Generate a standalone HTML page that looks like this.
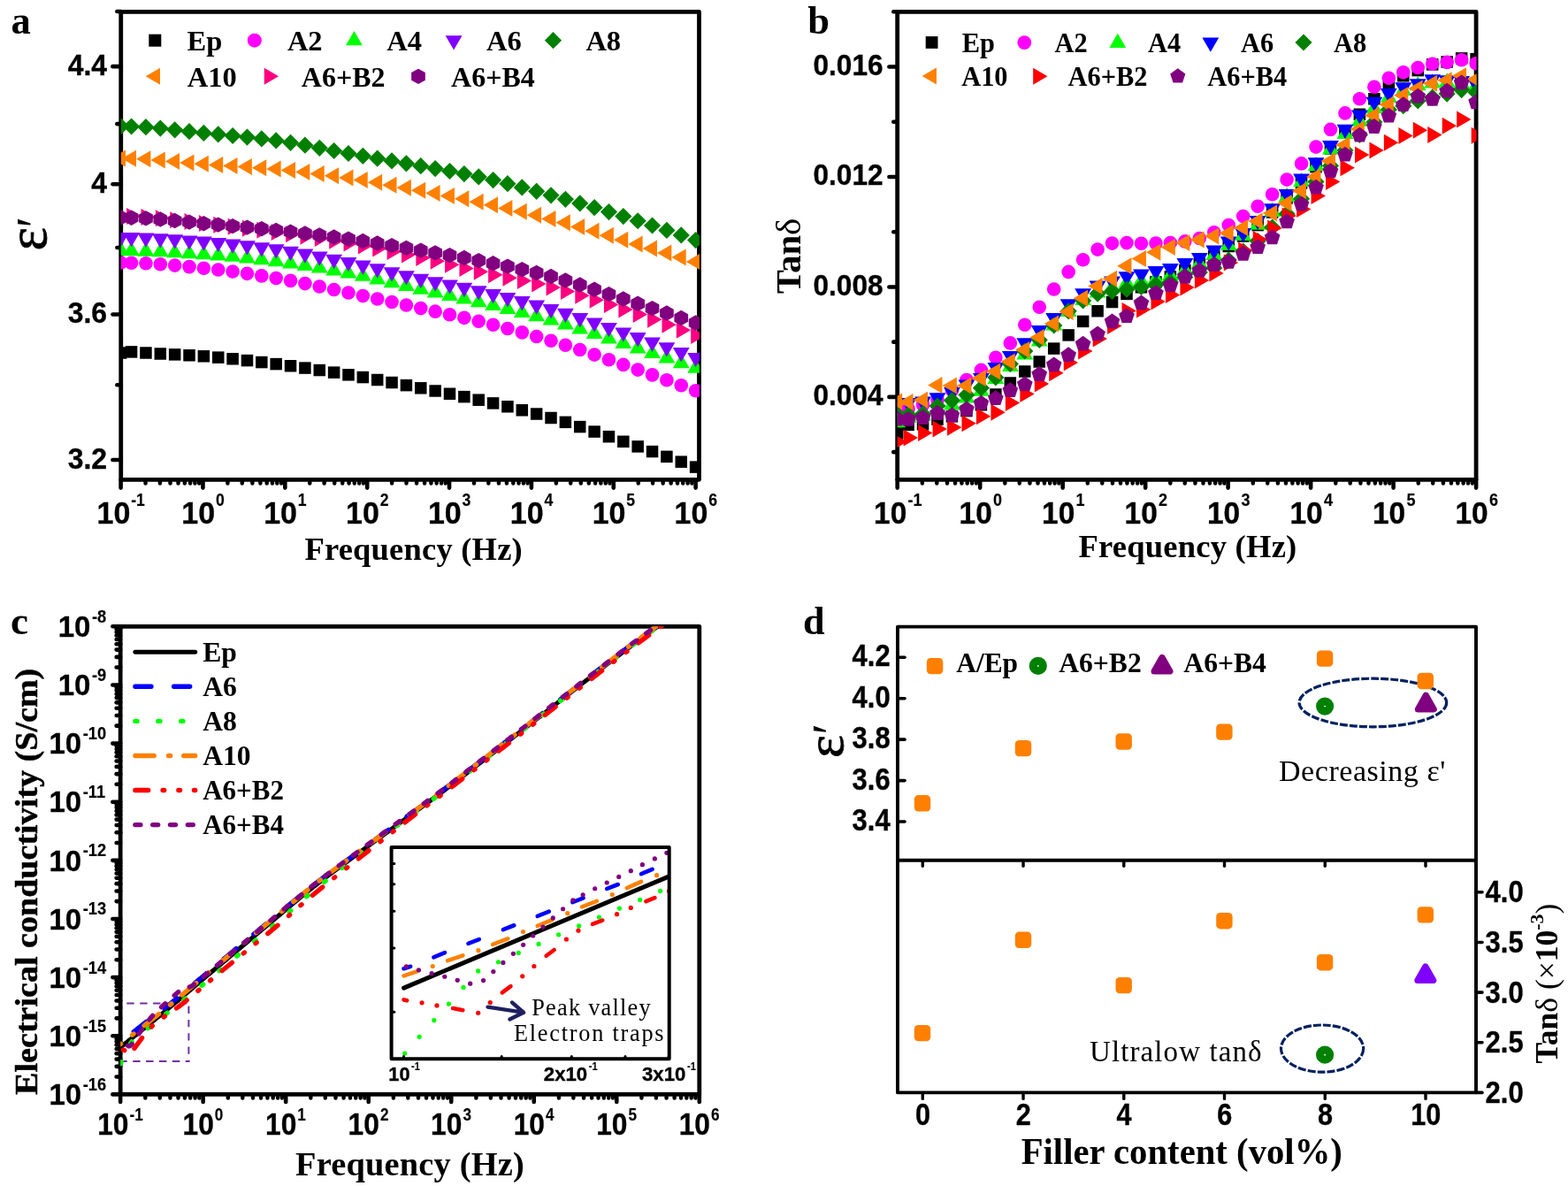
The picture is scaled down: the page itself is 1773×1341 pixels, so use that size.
<!DOCTYPE html>
<html lang="en"><head><meta charset="utf-8"><title>Dielectric properties figure</title>
<style>
html,body{margin:0;padding:0;background:#fff;}
body{width:1773px;height:1341px;overflow:hidden;}
svg{display:block;}
text{white-space:pre;}
</style></head><body>
<svg width="1773" height="1341" viewBox="0 0 1773 1341">
<rect x="0" y="0" width="1773" height="1341" fill="#fff"/>
<g id="panel-a">
<clipPath id="clipA"><rect x="136.75" y="13.3" width="654.15" height="529"/></clipPath>
<rect x="136.75" y="13.3" width="653.75" height="529" fill="none" stroke="#000" stroke-width="4.8" stroke-linejoin="round"/>
<line x1="136.75" y1="13.07" x2="132.35" y2="13.07" stroke="#000" stroke-width="4.6" stroke-linecap="round" />
<line x1="136.75" y1="75.16" x2="127.45" y2="75.16" stroke="#000" stroke-width="4.6" stroke-linecap="round" />
<line x1="136.75" y1="140.15" x2="132.35" y2="140.15" stroke="#000" stroke-width="4.6" stroke-linecap="round" />
<line x1="136.75" y1="208.3" x2="127.45" y2="208.3" stroke="#000" stroke-width="4.6" stroke-linecap="round" />
<line x1="136.75" y1="279.95" x2="132.35" y2="279.95" stroke="#000" stroke-width="4.6" stroke-linecap="round" />
<line x1="136.75" y1="355.48" x2="127.45" y2="355.48" stroke="#000" stroke-width="4.6" stroke-linecap="round" />
<line x1="136.75" y1="435.32" x2="132.35" y2="435.32" stroke="#000" stroke-width="4.6" stroke-linecap="round" />
<line x1="136.75" y1="520.01" x2="127.45" y2="520.01" stroke="#000" stroke-width="4.6" stroke-linecap="round" />
<line x1="136.6" y1="542.3" x2="136.6" y2="551.6" stroke="#000" stroke-width="4.6" stroke-linecap="round" />
<line x1="164.55" y1="542.3" x2="164.55" y2="546.5" stroke="#000" stroke-width="4.4" stroke-linecap="round" />
<line x1="180.91" y1="542.3" x2="180.91" y2="546.5" stroke="#000" stroke-width="4.4" stroke-linecap="round" />
<line x1="192.51" y1="542.3" x2="192.51" y2="546.5" stroke="#000" stroke-width="4.4" stroke-linecap="round" />
<line x1="201.51" y1="542.3" x2="201.51" y2="546.5" stroke="#000" stroke-width="4.4" stroke-linecap="round" />
<line x1="208.86" y1="542.3" x2="208.86" y2="546.5" stroke="#000" stroke-width="4.4" stroke-linecap="round" />
<line x1="215.08" y1="542.3" x2="215.08" y2="546.5" stroke="#000" stroke-width="4.4" stroke-linecap="round" />
<line x1="220.46" y1="542.3" x2="220.46" y2="546.5" stroke="#000" stroke-width="4.4" stroke-linecap="round" />
<line x1="225.21" y1="542.3" x2="225.21" y2="546.5" stroke="#000" stroke-width="4.4" stroke-linecap="round" />
<line x1="229.46" y1="542.3" x2="229.46" y2="551.6" stroke="#000" stroke-width="4.6" stroke-linecap="round" />
<line x1="257.41" y1="542.3" x2="257.41" y2="546.5" stroke="#000" stroke-width="4.4" stroke-linecap="round" />
<line x1="273.77" y1="542.3" x2="273.77" y2="546.5" stroke="#000" stroke-width="4.4" stroke-linecap="round" />
<line x1="285.37" y1="542.3" x2="285.37" y2="546.5" stroke="#000" stroke-width="4.4" stroke-linecap="round" />
<line x1="294.37" y1="542.3" x2="294.37" y2="546.5" stroke="#000" stroke-width="4.4" stroke-linecap="round" />
<line x1="301.72" y1="542.3" x2="301.72" y2="546.5" stroke="#000" stroke-width="4.4" stroke-linecap="round" />
<line x1="307.94" y1="542.3" x2="307.94" y2="546.5" stroke="#000" stroke-width="4.4" stroke-linecap="round" />
<line x1="313.32" y1="542.3" x2="313.32" y2="546.5" stroke="#000" stroke-width="4.4" stroke-linecap="round" />
<line x1="318.07" y1="542.3" x2="318.07" y2="546.5" stroke="#000" stroke-width="4.4" stroke-linecap="round" />
<line x1="322.32" y1="542.3" x2="322.32" y2="551.6" stroke="#000" stroke-width="4.6" stroke-linecap="round" />
<line x1="350.27" y1="542.3" x2="350.27" y2="546.5" stroke="#000" stroke-width="4.4" stroke-linecap="round" />
<line x1="366.63" y1="542.3" x2="366.63" y2="546.5" stroke="#000" stroke-width="4.4" stroke-linecap="round" />
<line x1="378.23" y1="542.3" x2="378.23" y2="546.5" stroke="#000" stroke-width="4.4" stroke-linecap="round" />
<line x1="387.23" y1="542.3" x2="387.23" y2="546.5" stroke="#000" stroke-width="4.4" stroke-linecap="round" />
<line x1="394.58" y1="542.3" x2="394.58" y2="546.5" stroke="#000" stroke-width="4.4" stroke-linecap="round" />
<line x1="400.8" y1="542.3" x2="400.8" y2="546.5" stroke="#000" stroke-width="4.4" stroke-linecap="round" />
<line x1="406.18" y1="542.3" x2="406.18" y2="546.5" stroke="#000" stroke-width="4.4" stroke-linecap="round" />
<line x1="410.93" y1="542.3" x2="410.93" y2="546.5" stroke="#000" stroke-width="4.4" stroke-linecap="round" />
<line x1="415.18" y1="542.3" x2="415.18" y2="551.6" stroke="#000" stroke-width="4.6" stroke-linecap="round" />
<line x1="443.13" y1="542.3" x2="443.13" y2="546.5" stroke="#000" stroke-width="4.4" stroke-linecap="round" />
<line x1="459.49" y1="542.3" x2="459.49" y2="546.5" stroke="#000" stroke-width="4.4" stroke-linecap="round" />
<line x1="471.09" y1="542.3" x2="471.09" y2="546.5" stroke="#000" stroke-width="4.4" stroke-linecap="round" />
<line x1="480.09" y1="542.3" x2="480.09" y2="546.5" stroke="#000" stroke-width="4.4" stroke-linecap="round" />
<line x1="487.44" y1="542.3" x2="487.44" y2="546.5" stroke="#000" stroke-width="4.4" stroke-linecap="round" />
<line x1="493.66" y1="542.3" x2="493.66" y2="546.5" stroke="#000" stroke-width="4.4" stroke-linecap="round" />
<line x1="499.04" y1="542.3" x2="499.04" y2="546.5" stroke="#000" stroke-width="4.4" stroke-linecap="round" />
<line x1="503.79" y1="542.3" x2="503.79" y2="546.5" stroke="#000" stroke-width="4.4" stroke-linecap="round" />
<line x1="508.04" y1="542.3" x2="508.04" y2="551.6" stroke="#000" stroke-width="4.6" stroke-linecap="round" />
<line x1="535.99" y1="542.3" x2="535.99" y2="546.5" stroke="#000" stroke-width="4.4" stroke-linecap="round" />
<line x1="552.35" y1="542.3" x2="552.35" y2="546.5" stroke="#000" stroke-width="4.4" stroke-linecap="round" />
<line x1="563.95" y1="542.3" x2="563.95" y2="546.5" stroke="#000" stroke-width="4.4" stroke-linecap="round" />
<line x1="572.95" y1="542.3" x2="572.95" y2="546.5" stroke="#000" stroke-width="4.4" stroke-linecap="round" />
<line x1="580.3" y1="542.3" x2="580.3" y2="546.5" stroke="#000" stroke-width="4.4" stroke-linecap="round" />
<line x1="586.52" y1="542.3" x2="586.52" y2="546.5" stroke="#000" stroke-width="4.4" stroke-linecap="round" />
<line x1="591.9" y1="542.3" x2="591.9" y2="546.5" stroke="#000" stroke-width="4.4" stroke-linecap="round" />
<line x1="596.65" y1="542.3" x2="596.65" y2="546.5" stroke="#000" stroke-width="4.4" stroke-linecap="round" />
<line x1="600.9" y1="542.3" x2="600.9" y2="551.6" stroke="#000" stroke-width="4.6" stroke-linecap="round" />
<line x1="628.85" y1="542.3" x2="628.85" y2="546.5" stroke="#000" stroke-width="4.4" stroke-linecap="round" />
<line x1="645.21" y1="542.3" x2="645.21" y2="546.5" stroke="#000" stroke-width="4.4" stroke-linecap="round" />
<line x1="656.81" y1="542.3" x2="656.81" y2="546.5" stroke="#000" stroke-width="4.4" stroke-linecap="round" />
<line x1="665.81" y1="542.3" x2="665.81" y2="546.5" stroke="#000" stroke-width="4.4" stroke-linecap="round" />
<line x1="673.16" y1="542.3" x2="673.16" y2="546.5" stroke="#000" stroke-width="4.4" stroke-linecap="round" />
<line x1="679.38" y1="542.3" x2="679.38" y2="546.5" stroke="#000" stroke-width="4.4" stroke-linecap="round" />
<line x1="684.76" y1="542.3" x2="684.76" y2="546.5" stroke="#000" stroke-width="4.4" stroke-linecap="round" />
<line x1="689.51" y1="542.3" x2="689.51" y2="546.5" stroke="#000" stroke-width="4.4" stroke-linecap="round" />
<line x1="693.76" y1="542.3" x2="693.76" y2="551.6" stroke="#000" stroke-width="4.6" stroke-linecap="round" />
<line x1="721.71" y1="542.3" x2="721.71" y2="546.5" stroke="#000" stroke-width="4.4" stroke-linecap="round" />
<line x1="738.07" y1="542.3" x2="738.07" y2="546.5" stroke="#000" stroke-width="4.4" stroke-linecap="round" />
<line x1="749.67" y1="542.3" x2="749.67" y2="546.5" stroke="#000" stroke-width="4.4" stroke-linecap="round" />
<line x1="758.67" y1="542.3" x2="758.67" y2="546.5" stroke="#000" stroke-width="4.4" stroke-linecap="round" />
<line x1="766.02" y1="542.3" x2="766.02" y2="546.5" stroke="#000" stroke-width="4.4" stroke-linecap="round" />
<line x1="772.24" y1="542.3" x2="772.24" y2="546.5" stroke="#000" stroke-width="4.4" stroke-linecap="round" />
<line x1="777.62" y1="542.3" x2="777.62" y2="546.5" stroke="#000" stroke-width="4.4" stroke-linecap="round" />
<line x1="782.37" y1="542.3" x2="782.37" y2="546.5" stroke="#000" stroke-width="4.4" stroke-linecap="round" />
<line x1="786.62" y1="542.3" x2="786.62" y2="551.6" stroke="#000" stroke-width="4.6" stroke-linecap="round" />
<text x="0" y="0" font-family='"Liberation Sans", "DejaVu Sans", sans-serif' font-weight="bold" font-size="33.4" text-anchor="end" fill="#000" transform="translate(121 85.16) scale(0.955 1)"  stroke="#000" stroke-width="0.35" stroke-linejoin="round">4.4</text>
<text x="0" y="0" font-family='"Liberation Sans", "DejaVu Sans", sans-serif' font-weight="bold" font-size="33.4" text-anchor="end" fill="#000" transform="translate(121 218.3) scale(0.955 1)"  stroke="#000" stroke-width="0.35" stroke-linejoin="round">4</text>
<text x="0" y="0" font-family='"Liberation Sans", "DejaVu Sans", sans-serif' font-weight="bold" font-size="33.4" text-anchor="end" fill="#000" transform="translate(121 365.48) scale(0.955 1)"  stroke="#000" stroke-width="0.35" stroke-linejoin="round">3.6</text>
<text x="0" y="0" font-family='"Liberation Sans", "DejaVu Sans", sans-serif' font-weight="bold" font-size="33.4" text-anchor="end" fill="#000" transform="translate(121 530.01) scale(0.955 1)"  stroke="#000" stroke-width="0.35" stroke-linejoin="round">3.2</text>
<text x="0" y="0" font-family='"Liberation Sans", "DejaVu Sans", sans-serif' font-weight="bold" font-size="35.8" text-anchor="start" fill="#000" transform="translate(109.55 592.2) scale(0.95 1)"  stroke="#000" stroke-width="0.35" stroke-linejoin="round">10</text>
<text x="0" y="0" font-family='"Liberation Sans", "DejaVu Sans", sans-serif' font-weight="bold" font-size="19.6" text-anchor="start" fill="#000" transform="translate(148.17 572) scale(0.9 1)" stroke="#000" stroke-width="0.15">-1</text>
<text x="0" y="0" font-family='"Liberation Sans", "DejaVu Sans", sans-serif' font-weight="bold" font-size="35.8" text-anchor="start" fill="#000" transform="translate(205.35 592.2) scale(0.95 1)"  stroke="#000" stroke-width="0.35" stroke-linejoin="round">10</text>
<text x="0" y="0" font-family='"Liberation Sans", "DejaVu Sans", sans-serif' font-weight="bold" font-size="19.6" text-anchor="start" fill="#000" transform="translate(243.97 572) scale(0.9 1)" stroke="#000" stroke-width="0.15">0</text>
<text x="0" y="0" font-family='"Liberation Sans", "DejaVu Sans", sans-serif' font-weight="bold" font-size="35.8" text-anchor="start" fill="#000" transform="translate(298.21 592.2) scale(0.95 1)"  stroke="#000" stroke-width="0.35" stroke-linejoin="round">10</text>
<text x="0" y="0" font-family='"Liberation Sans", "DejaVu Sans", sans-serif' font-weight="bold" font-size="19.6" text-anchor="start" fill="#000" transform="translate(336.83 572) scale(0.9 1)" stroke="#000" stroke-width="0.15">1</text>
<text x="0" y="0" font-family='"Liberation Sans", "DejaVu Sans", sans-serif' font-weight="bold" font-size="35.8" text-anchor="start" fill="#000" transform="translate(391.07 592.2) scale(0.95 1)"  stroke="#000" stroke-width="0.35" stroke-linejoin="round">10</text>
<text x="0" y="0" font-family='"Liberation Sans", "DejaVu Sans", sans-serif' font-weight="bold" font-size="19.6" text-anchor="start" fill="#000" transform="translate(429.69 572) scale(0.9 1)" stroke="#000" stroke-width="0.15">2</text>
<text x="0" y="0" font-family='"Liberation Sans", "DejaVu Sans", sans-serif' font-weight="bold" font-size="35.8" text-anchor="start" fill="#000" transform="translate(483.93 592.2) scale(0.95 1)"  stroke="#000" stroke-width="0.35" stroke-linejoin="round">10</text>
<text x="0" y="0" font-family='"Liberation Sans", "DejaVu Sans", sans-serif' font-weight="bold" font-size="19.6" text-anchor="start" fill="#000" transform="translate(522.55 572) scale(0.9 1)" stroke="#000" stroke-width="0.15">3</text>
<text x="0" y="0" font-family='"Liberation Sans", "DejaVu Sans", sans-serif' font-weight="bold" font-size="35.8" text-anchor="start" fill="#000" transform="translate(576.79 592.2) scale(0.95 1)"  stroke="#000" stroke-width="0.35" stroke-linejoin="round">10</text>
<text x="0" y="0" font-family='"Liberation Sans", "DejaVu Sans", sans-serif' font-weight="bold" font-size="19.6" text-anchor="start" fill="#000" transform="translate(615.41 572) scale(0.9 1)" stroke="#000" stroke-width="0.15">4</text>
<text x="0" y="0" font-family='"Liberation Sans", "DejaVu Sans", sans-serif' font-weight="bold" font-size="35.8" text-anchor="start" fill="#000" transform="translate(669.65 592.2) scale(0.95 1)"  stroke="#000" stroke-width="0.35" stroke-linejoin="round">10</text>
<text x="0" y="0" font-family='"Liberation Sans", "DejaVu Sans", sans-serif' font-weight="bold" font-size="19.6" text-anchor="start" fill="#000" transform="translate(708.27 572) scale(0.9 1)" stroke="#000" stroke-width="0.15">5</text>
<text x="0" y="0" font-family='"Liberation Sans", "DejaVu Sans", sans-serif' font-weight="bold" font-size="35.8" text-anchor="start" fill="#000" transform="translate(762.51 592.2) scale(0.95 1)"  stroke="#000" stroke-width="0.35" stroke-linejoin="round">10</text>
<text x="0" y="0" font-family='"Liberation Sans", "DejaVu Sans", sans-serif' font-weight="bold" font-size="19.6" text-anchor="start" fill="#000" transform="translate(801.13 572) scale(0.9 1)" stroke="#000" stroke-width="0.15">6</text>
<text x="467.7" y="632.9" font-family='"Liberation Serif", "DejaVu Serif", serif' font-weight="bold" font-size="36.5" text-anchor="middle" fill="#000" letter-spacing="0.2" >Frequency (Hz)</text>
<text x="0" y="0" font-family='"Liberation Serif", "DejaVu Serif", serif' font-weight="normal" font-size="63" text-anchor="start" fill="#000" transform="translate(51.8 283.4) rotate(-90) scale(1.0 1)" stroke="#000" stroke-width="0.8">ε</text>
<text x="0" y="0" font-family='"Liberation Serif", "DejaVu Serif", serif' font-weight="normal" font-size="62" text-anchor="start" fill="#000" transform="translate(60.2 257.2) rotate(-90) scale(0.9 1)" >′</text>
<text x="12.4" y="37.6" font-family='"Liberation Serif", "DejaVu Serif", serif' font-weight="bold" font-size="44.5" text-anchor="start" fill="#000" >a</text>
<g clip-path="url(#clipA)">
<g><rect x="129.85" y="392.25" width="13.5" height="13.5" fill="#000000"/><rect x="141.83" y="391.15" width="13.5" height="13.5" fill="#000000"/><rect x="158.19" y="392.25" width="13.5" height="13.5" fill="#000000"/><rect x="174.55" y="393.25" width="13.5" height="13.5" fill="#000000"/><rect x="190.91" y="394.14" width="13.5" height="13.5" fill="#000000"/><rect x="207.27" y="395.01" width="13.5" height="13.5" fill="#000000"/><rect x="223.63" y="396.05" width="13.5" height="13.5" fill="#000000"/><rect x="239.99" y="397.4" width="13.5" height="13.5" fill="#000000"/><rect x="256.35" y="399.02" width="13.5" height="13.5" fill="#000000"/><rect x="272.71" y="400.85" width="13.5" height="13.5" fill="#000000"/><rect x="289.07" y="402.82" width="13.5" height="13.5" fill="#000000"/><rect x="305.43" y="404.85" width="13.5" height="13.5" fill="#000000"/><rect x="321.79" y="407" width="13.5" height="13.5" fill="#000000"/><rect x="338.15" y="409.33" width="13.5" height="13.5" fill="#000000"/><rect x="354.51" y="411.8" width="13.5" height="13.5" fill="#000000"/><rect x="370.87" y="414.39" width="13.5" height="13.5" fill="#000000"/><rect x="387.23" y="417.05" width="13.5" height="13.5" fill="#000000"/><rect x="403.59" y="419.82" width="13.5" height="13.5" fill="#000000"/><rect x="419.95" y="422.75" width="13.5" height="13.5" fill="#000000"/><rect x="436.31" y="425.78" width="13.5" height="13.5" fill="#000000"/><rect x="452.67" y="428.89" width="13.5" height="13.5" fill="#000000"/><rect x="469.03" y="432.05" width="13.5" height="13.5" fill="#000000"/><rect x="485.39" y="435.24" width="13.5" height="13.5" fill="#000000"/><rect x="501.75" y="438.51" width="13.5" height="13.5" fill="#000000"/><rect x="518.11" y="441.89" width="13.5" height="13.5" fill="#000000"/><rect x="534.47" y="445.45" width="13.5" height="13.5" fill="#000000"/><rect x="550.83" y="449.16" width="13.5" height="13.5" fill="#000000"/><rect x="567.19" y="453.01" width="13.5" height="13.5" fill="#000000"/><rect x="583.55" y="457.03" width="13.5" height="13.5" fill="#000000"/><rect x="599.91" y="461.27" width="13.5" height="13.5" fill="#000000"/><rect x="616.27" y="465.75" width="13.5" height="13.5" fill="#000000"/><rect x="632.63" y="470.61" width="13.5" height="13.5" fill="#000000"/><rect x="648.99" y="475.84" width="13.5" height="13.5" fill="#000000"/><rect x="665.35" y="481.34" width="13.5" height="13.5" fill="#000000"/><rect x="681.71" y="486.95" width="13.5" height="13.5" fill="#000000"/><rect x="698.07" y="492.55" width="13.5" height="13.5" fill="#000000"/><rect x="714.43" y="498.15" width="13.5" height="13.5" fill="#000000"/><rect x="730.79" y="503.82" width="13.5" height="13.5" fill="#000000"/><rect x="747.15" y="509.59" width="13.5" height="13.5" fill="#000000"/><rect x="763.51" y="515.43" width="13.5" height="13.5" fill="#000000"/><rect x="779.87" y="521.35" width="13.5" height="13.5" fill="#000000"/></g>
<g><circle cx="136.6" cy="297" r="7.8" fill="#FF00FF"/><circle cx="148.58" cy="297.2" r="7.8" fill="#FF00FF"/><circle cx="164.94" cy="297.76" r="7.8" fill="#FF00FF"/><circle cx="181.3" cy="298.77" r="7.8" fill="#FF00FF"/><circle cx="197.66" cy="300.1" r="7.8" fill="#FF00FF"/><circle cx="214.02" cy="301.62" r="7.8" fill="#FF00FF"/><circle cx="230.38" cy="303.2" r="7.8" fill="#FF00FF"/><circle cx="246.74" cy="304.95" r="7.8" fill="#FF00FF"/><circle cx="263.1" cy="307.02" r="7.8" fill="#FF00FF"/><circle cx="279.46" cy="309.34" r="7.8" fill="#FF00FF"/><circle cx="295.82" cy="311.86" r="7.8" fill="#FF00FF"/><circle cx="312.18" cy="314.5" r="7.8" fill="#FF00FF"/><circle cx="328.54" cy="317.39" r="7.8" fill="#FF00FF"/><circle cx="344.9" cy="320.6" r="7.8" fill="#FF00FF"/><circle cx="361.26" cy="324.03" r="7.8" fill="#FF00FF"/><circle cx="377.62" cy="327.53" r="7.8" fill="#FF00FF"/><circle cx="393.98" cy="331" r="7.8" fill="#FF00FF"/><circle cx="410.34" cy="334.44" r="7.8" fill="#FF00FF"/><circle cx="426.7" cy="337.93" r="7.8" fill="#FF00FF"/><circle cx="443.06" cy="341.46" r="7.8" fill="#FF00FF"/><circle cx="459.42" cy="345.02" r="7.8" fill="#FF00FF"/><circle cx="475.78" cy="348.6" r="7.8" fill="#FF00FF"/><circle cx="492.14" cy="352.15" r="7.8" fill="#FF00FF"/><circle cx="508.5" cy="355.7" r="7.8" fill="#FF00FF"/><circle cx="524.86" cy="359.35" r="7.8" fill="#FF00FF"/><circle cx="541.22" cy="363.2" r="7.8" fill="#FF00FF"/><circle cx="557.58" cy="367.25" r="7.8" fill="#FF00FF"/><circle cx="573.94" cy="371.47" r="7.8" fill="#FF00FF"/><circle cx="590.3" cy="375.86" r="7.8" fill="#FF00FF"/><circle cx="606.66" cy="380.43" r="7.8" fill="#FF00FF"/><circle cx="623.02" cy="385.2" r="7.8" fill="#FF00FF"/><circle cx="639.38" cy="390.24" r="7.8" fill="#FF00FF"/><circle cx="655.74" cy="395.56" r="7.8" fill="#FF00FF"/><circle cx="672.1" cy="401.09" r="7.8" fill="#FF00FF"/><circle cx="688.46" cy="406.73" r="7.8" fill="#FF00FF"/><circle cx="704.82" cy="412.4" r="7.8" fill="#FF00FF"/><circle cx="721.18" cy="418.1" r="7.8" fill="#FF00FF"/><circle cx="737.54" cy="423.89" r="7.8" fill="#FF00FF"/><circle cx="753.9" cy="429.77" r="7.8" fill="#FF00FF"/><circle cx="770.26" cy="435.74" r="7.8" fill="#FF00FF"/><circle cx="786.62" cy="441.8" r="7.8" fill="#FF00FF"/></g>
<g><polygon points="136.6,272.8 146,289 127.2,289" fill="#00FF00"/><polygon points="148.58,273 157.98,289.2 139.18,289.2" fill="#00FF00"/><polygon points="164.94,273.43 174.34,289.63 155.54,289.63" fill="#00FF00"/><polygon points="181.3,274.1 190.7,290.3 171.9,290.3" fill="#00FF00"/><polygon points="197.66,274.96 207.06,291.16 188.26,291.16" fill="#00FF00"/><polygon points="214.02,275.94 223.42,292.14 204.62,292.14" fill="#00FF00"/><polygon points="230.38,277 239.78,293.2 220.98,293.2" fill="#00FF00"/><polygon points="246.74,278.21 256.14,294.41 237.34,294.41" fill="#00FF00"/><polygon points="263.1,279.66 272.5,295.86 253.7,295.86" fill="#00FF00"/><polygon points="279.46,281.32 288.86,297.52 270.06,297.52" fill="#00FF00"/><polygon points="295.82,283.14 305.22,299.34 286.42,299.34" fill="#00FF00"/><polygon points="312.18,285.1 321.58,301.3 302.78,301.3" fill="#00FF00"/><polygon points="328.54,287.27 337.94,303.47 319.14,303.47" fill="#00FF00"/><polygon points="344.9,289.72 354.3,305.92 335.5,305.92" fill="#00FF00"/><polygon points="361.26,292.41 370.66,308.61 351.86,308.61" fill="#00FF00"/><polygon points="377.62,295.29 387.02,311.49 368.22,311.49" fill="#00FF00"/><polygon points="393.98,298.3 403.38,314.5 384.58,314.5" fill="#00FF00"/><polygon points="410.34,301.58 419.74,317.78 400.94,317.78" fill="#00FF00"/><polygon points="426.7,305.2 436.1,321.4 417.3,321.4" fill="#00FF00"/><polygon points="443.06,309.01 452.46,325.21 433.66,325.21" fill="#00FF00"/><polygon points="459.42,312.86 468.82,329.06 450.02,329.06" fill="#00FF00"/><polygon points="475.78,316.6 485.18,332.8 466.38,332.8" fill="#00FF00"/><polygon points="492.14,320.2 501.54,336.4 482.74,336.4" fill="#00FF00"/><polygon points="508.5,323.76 517.9,339.96 499.1,339.96" fill="#00FF00"/><polygon points="524.86,327.37 534.26,343.57 515.46,343.57" fill="#00FF00"/><polygon points="541.22,331.1 550.62,347.3 531.82,347.3" fill="#00FF00"/><polygon points="557.58,334.92 566.98,351.12 548.18,351.12" fill="#00FF00"/><polygon points="573.94,338.79 583.34,354.99 564.54,354.99" fill="#00FF00"/><polygon points="590.3,342.78 599.7,358.98 580.9,358.98" fill="#00FF00"/><polygon points="606.66,346.96 616.06,363.16 597.26,363.16" fill="#00FF00"/><polygon points="623.02,351.4 632.42,367.6 613.62,367.6" fill="#00FF00"/><polygon points="639.38,356.22 648.78,372.42 629.98,372.42" fill="#00FF00"/><polygon points="655.74,361.4 665.14,377.6 646.34,377.6" fill="#00FF00"/><polygon points="672.1,366.81 681.5,383.01 662.7,383.01" fill="#00FF00"/><polygon points="688.46,372.32 697.86,388.52 679.06,388.52" fill="#00FF00"/><polygon points="704.82,377.8 714.22,394 695.42,394" fill="#00FF00"/><polygon points="721.18,383.25 730.58,399.45 711.78,399.45" fill="#00FF00"/><polygon points="737.54,388.75 746.94,404.95 728.14,404.95" fill="#00FF00"/><polygon points="753.9,394.31 763.3,410.51 744.5,410.51" fill="#00FF00"/><polygon points="770.26,399.93 779.66,416.13 760.86,416.13" fill="#00FF00"/><polygon points="786.62,405.6 796.02,421.8 777.22,421.8" fill="#00FF00"/></g>
<g><polygon points="136.6,279.1 146,262.9 127.2,262.9" fill="#8000FF"/><polygon points="148.58,279.3 157.98,263.1 139.18,263.1" fill="#8000FF"/><polygon points="164.94,279.76 174.34,263.56 155.54,263.56" fill="#8000FF"/><polygon points="181.3,280.52 190.7,264.32 171.9,264.32" fill="#8000FF"/><polygon points="197.66,281.5 207.06,265.3 188.26,265.3" fill="#8000FF"/><polygon points="214.02,282.62 223.42,266.42 204.62,266.42" fill="#8000FF"/><polygon points="230.38,283.8 239.78,267.6 220.98,267.6" fill="#8000FF"/><polygon points="246.74,285.11 256.14,268.91 237.34,268.91" fill="#8000FF"/><polygon points="263.1,286.66 272.5,270.46 253.7,270.46" fill="#8000FF"/><polygon points="279.46,288.43 288.86,272.23 270.06,272.23" fill="#8000FF"/><polygon points="295.82,290.38 305.22,274.18 286.42,274.18" fill="#8000FF"/><polygon points="312.18,292.5 321.58,276.3 302.78,276.3" fill="#8000FF"/><polygon points="328.54,294.91 337.94,278.71 319.14,278.71" fill="#8000FF"/><polygon points="344.9,297.7 354.3,281.5 335.5,281.5" fill="#8000FF"/><polygon points="361.26,300.76 370.66,284.56 351.86,284.56" fill="#8000FF"/><polygon points="377.62,304 387.02,287.8 368.22,287.8" fill="#8000FF"/><polygon points="393.98,307.3 403.38,291.1 384.58,291.1" fill="#8000FF"/><polygon points="410.34,310.8 419.74,294.6 400.94,294.6" fill="#8000FF"/><polygon points="426.7,314.57 436.1,298.37 417.3,298.37" fill="#8000FF"/><polygon points="443.06,318.46 452.46,302.26 433.66,302.26" fill="#8000FF"/><polygon points="459.42,322.33 468.82,306.13 450.02,306.13" fill="#8000FF"/><polygon points="475.78,326 485.18,309.8 466.38,309.8" fill="#8000FF"/><polygon points="492.14,329.38 501.54,313.18 482.74,313.18" fill="#8000FF"/><polygon points="508.5,332.62 517.9,316.42 499.1,316.42" fill="#8000FF"/><polygon points="524.86,335.89 534.26,319.69 515.46,319.69" fill="#8000FF"/><polygon points="541.22,339.4 550.62,323.2 531.82,323.2" fill="#8000FF"/><polygon points="557.58,343.18 566.98,326.98 548.18,326.98" fill="#8000FF"/><polygon points="573.94,347.15 583.34,330.95 564.54,330.95" fill="#8000FF"/><polygon points="590.3,351.3 599.7,335.1 580.9,335.1" fill="#8000FF"/><polygon points="606.66,355.65 616.06,339.45 597.26,339.45" fill="#8000FF"/><polygon points="623.02,360.2 632.42,344 613.62,344" fill="#8000FF"/><polygon points="639.38,365.05 648.78,348.85 629.98,348.85" fill="#8000FF"/><polygon points="655.74,370.21 665.14,354.01 646.34,354.01" fill="#8000FF"/><polygon points="672.1,375.59 681.5,359.39 662.7,359.39" fill="#8000FF"/><polygon points="688.46,381.09 697.86,364.89 679.06,364.89" fill="#8000FF"/><polygon points="704.82,386.6 714.22,370.4 695.42,370.4" fill="#8000FF"/><polygon points="721.18,392.13 730.58,375.93 711.78,375.93" fill="#8000FF"/><polygon points="737.54,397.74 746.94,381.54 728.14,381.54" fill="#8000FF"/><polygon points="753.9,403.44 763.3,387.24 744.5,387.24" fill="#8000FF"/><polygon points="770.26,409.23 779.66,393.03 760.86,393.03" fill="#8000FF"/><polygon points="786.62,415.1 796.02,398.9 777.22,398.9" fill="#8000FF"/></g>
<g><polygon points="136.6,133.2 146.2,142.8 136.6,152.4 127,142.8" fill="#008000"/><polygon points="148.58,133.4 158.18,143 148.58,152.6 138.98,143" fill="#008000"/><polygon points="164.94,134.11 174.54,143.71 164.94,153.31 155.34,143.71" fill="#008000"/><polygon points="181.3,135.46 190.9,145.06 181.3,154.66 171.7,145.06" fill="#008000"/><polygon points="197.66,137.2 207.26,146.8 197.66,156.4 188.06,146.8" fill="#008000"/><polygon points="214.02,139.07 223.62,148.67 214.02,158.27 204.42,148.67" fill="#008000"/><polygon points="230.38,140.8 239.98,150.4 230.38,160 220.78,150.4" fill="#008000"/><polygon points="246.74,142.35 256.34,151.95 246.74,161.55 237.14,151.95" fill="#008000"/><polygon points="263.1,143.9 272.7,153.5 263.1,163.1 253.5,153.5" fill="#008000"/><polygon points="279.46,145.52 289.06,155.12 279.46,164.72 269.86,155.12" fill="#008000"/><polygon points="295.82,147.29 305.42,156.89 295.82,166.49 286.22,156.89" fill="#008000"/><polygon points="312.18,149.3 321.78,158.9 312.18,168.5 302.58,158.9" fill="#008000"/><polygon points="328.54,151.73 338.14,161.33 328.54,170.93 318.94,161.33" fill="#008000"/><polygon points="344.9,154.6 354.5,164.2 344.9,173.8 335.3,164.2" fill="#008000"/><polygon points="361.26,157.72 370.86,167.32 361.26,176.92 351.66,167.32" fill="#008000"/><polygon points="377.62,160.88 387.22,170.48 377.62,180.08 368.02,170.48" fill="#008000"/><polygon points="393.98,163.9 403.58,173.5 393.98,183.1 384.38,173.5" fill="#008000"/><polygon points="410.34,166.75 419.94,176.35 410.34,185.95 400.74,176.35" fill="#008000"/><polygon points="426.7,169.56 436.3,179.16 426.7,188.76 417.1,179.16" fill="#008000"/><polygon points="443.06,172.36 452.66,181.96 443.06,191.56 433.46,181.96" fill="#008000"/><polygon points="459.42,175.2 469.02,184.8 459.42,194.4 449.82,184.8" fill="#008000"/><polygon points="475.78,178.1 485.38,187.7 475.78,197.3 466.18,187.7" fill="#008000"/><polygon points="492.14,181.01 501.74,190.61 492.14,200.21 482.54,190.61" fill="#008000"/><polygon points="508.5,183.92 518.1,193.52 508.5,203.12 498.9,193.52" fill="#008000"/><polygon points="524.86,186.97 534.46,196.57 524.86,206.17 515.26,196.57" fill="#008000"/><polygon points="541.22,190.3 550.82,199.9 541.22,209.5 531.62,199.9" fill="#008000"/><polygon points="557.58,194.01 567.18,203.61 557.58,213.21 547.98,203.61" fill="#008000"/><polygon points="573.94,198.04 583.54,207.64 573.94,217.24 564.34,207.64" fill="#008000"/><polygon points="590.3,202.32 599.9,211.92 590.3,221.52 580.7,211.92" fill="#008000"/><polygon points="606.66,206.74 616.26,216.34 606.66,225.94 597.06,216.34" fill="#008000"/><polygon points="623.02,211.2 632.62,220.8 623.02,230.4 613.42,220.8" fill="#008000"/><polygon points="639.38,215.71 648.98,225.31 639.38,234.91 629.78,225.31" fill="#008000"/><polygon points="655.74,220.35 665.34,229.95 655.74,239.55 646.14,229.95" fill="#008000"/><polygon points="672.1,225.12 681.7,234.72 672.1,244.32 662.5,234.72" fill="#008000"/><polygon points="688.46,230 698.06,239.6 688.46,249.2 678.86,239.6" fill="#008000"/><polygon points="704.82,235 714.42,244.6 704.82,254.2 695.22,244.6" fill="#008000"/><polygon points="721.18,240.13 730.78,249.73 721.18,259.33 711.58,249.73" fill="#008000"/><polygon points="737.54,245.4 747.14,255 737.54,264.6 727.94,255" fill="#008000"/><polygon points="753.9,250.81 763.5,260.41 753.9,270.01 744.3,260.41" fill="#008000"/><polygon points="770.26,256.34 779.86,265.94 770.26,275.54 760.66,265.94" fill="#008000"/><polygon points="786.62,262 796.22,271.6 786.62,281.2 777.02,271.6" fill="#008000"/></g>
<g><polygon points="125.73,179 142.03,169.5 142.03,188.5" fill="#FF8000"/><polygon points="137.71,179.2 154.01,169.7 154.01,188.7" fill="#FF8000"/><polygon points="154.07,179.84 170.37,170.34 170.37,189.34" fill="#FF8000"/><polygon points="170.43,180.99 186.73,171.49 186.73,190.49" fill="#FF8000"/><polygon points="186.79,182.45 203.09,172.95 203.09,191.95" fill="#FF8000"/><polygon points="203.15,183.96 219.45,174.46 219.45,193.46" fill="#FF8000"/><polygon points="219.51,185.3 235.81,175.8 235.81,194.8" fill="#FF8000"/><polygon points="235.87,186.41 252.17,176.91 252.17,195.91" fill="#FF8000"/><polygon points="252.23,187.46 268.53,177.96 268.53,196.96" fill="#FF8000"/><polygon points="268.59,188.51 284.89,179.01 284.89,198.01" fill="#FF8000"/><polygon points="284.95,189.66 301.25,180.16 301.25,199.16" fill="#FF8000"/><polygon points="301.31,191 317.61,181.5 317.61,200.5" fill="#FF8000"/><polygon points="317.67,192.61 333.97,183.11 333.97,202.11" fill="#FF8000"/><polygon points="334.03,194.47 350.33,184.97 350.33,203.97" fill="#FF8000"/><polygon points="350.39,196.54 366.69,187.04 366.69,206.04" fill="#FF8000"/><polygon points="366.75,198.77 383.05,189.27 383.05,208.27" fill="#FF8000"/><polygon points="383.11,201.1 399.41,191.6 399.41,210.6" fill="#FF8000"/><polygon points="399.47,203.6 415.77,194.1 415.77,213.1" fill="#FF8000"/><polygon points="415.83,206.34 432.13,196.84 432.13,215.84" fill="#FF8000"/><polygon points="432.19,209.25 448.49,199.75 448.49,218.75" fill="#FF8000"/><polygon points="448.55,212.26 464.85,202.76 464.85,221.76" fill="#FF8000"/><polygon points="464.91,215.3 481.21,205.8 481.21,224.8" fill="#FF8000"/><polygon points="481.27,218.38 497.57,208.88 497.57,227.88" fill="#FF8000"/><polygon points="497.63,221.57 513.93,212.07 513.93,231.07" fill="#FF8000"/><polygon points="513.99,224.87 530.29,215.37 530.29,234.37" fill="#FF8000"/><polygon points="530.35,228.3 546.65,218.8 546.65,237.8" fill="#FF8000"/><polygon points="546.71,231.85 563.01,222.35 563.01,241.35" fill="#FF8000"/><polygon points="563.07,235.51 579.37,226.01 579.37,245.01" fill="#FF8000"/><polygon points="579.43,239.31 595.73,229.81 595.73,248.81" fill="#FF8000"/><polygon points="595.79,243.26 612.09,233.76 612.09,252.76" fill="#FF8000"/><polygon points="612.15,247.4 628.45,237.9 628.45,256.9" fill="#FF8000"/><polygon points="628.51,251.81 644.81,242.31 644.81,261.31" fill="#FF8000"/><polygon points="644.87,256.5 661.17,247 661.17,266" fill="#FF8000"/><polygon points="661.23,261.37 677.53,251.87 677.53,270.87" fill="#FF8000"/><polygon points="677.59,266.3 693.89,256.8 693.89,275.8" fill="#FF8000"/><polygon points="693.95,271.2 710.25,261.7 710.25,280.7" fill="#FF8000"/><polygon points="710.31,276.07 726.61,266.57 726.61,285.57" fill="#FF8000"/><polygon points="726.67,280.97 742.97,271.47 742.97,290.47" fill="#FF8000"/><polygon points="743.03,285.91 759.33,276.41 759.33,295.41" fill="#FF8000"/><polygon points="759.39,290.89 775.69,281.39 775.69,300.39" fill="#FF8000"/><polygon points="775.75,295.9 792.05,286.4 792.05,305.4" fill="#FF8000"/></g>
<g><polygon points="147.47,244.3 131.17,234.8 131.17,253.8" fill="#FF0080"/><polygon points="159.45,244.6 143.15,235.1 143.15,254.1" fill="#FF0080"/><polygon points="175.81,245.42 159.51,235.92 159.51,254.92" fill="#FF0080"/><polygon points="192.17,246.85 175.87,237.35 175.87,256.35" fill="#FF0080"/><polygon points="208.53,248.66 192.23,239.16 192.23,258.16" fill="#FF0080"/><polygon points="224.89,250.62 208.59,241.12 208.59,260.12" fill="#FF0080"/><polygon points="241.25,252.5 224.95,243 224.95,262" fill="#FF0080"/><polygon points="257.61,254.31 241.31,244.81 241.31,263.81" fill="#FF0080"/><polygon points="273.97,256.22 257.67,246.72 257.67,265.72" fill="#FF0080"/><polygon points="290.33,258.23 274.03,248.73 274.03,267.73" fill="#FF0080"/><polygon points="306.69,260.32 290.39,250.82 290.39,269.82" fill="#FF0080"/><polygon points="323.05,262.5 306.75,253 306.75,272" fill="#FF0080"/><polygon points="339.41,264.77 323.11,255.27 323.11,274.27" fill="#FF0080"/><polygon points="355.77,267.13 339.47,257.63 339.47,276.63" fill="#FF0080"/><polygon points="372.13,269.62 355.83,260.12 355.83,279.12" fill="#FF0080"/><polygon points="388.49,272.23 372.19,262.73 372.19,281.73" fill="#FF0080"/><polygon points="404.85,275 388.55,265.5 388.55,284.5" fill="#FF0080"/><polygon points="421.21,277.96 404.91,268.46 404.91,287.46" fill="#FF0080"/><polygon points="437.57,281.12 421.27,271.62 421.27,290.62" fill="#FF0080"/><polygon points="453.93,284.46 437.63,274.96 437.63,293.96" fill="#FF0080"/><polygon points="470.29,287.93 453.99,278.43 453.99,297.43" fill="#FF0080"/><polygon points="486.65,291.5 470.35,282 470.35,301" fill="#FF0080"/><polygon points="503.01,295.3 486.71,285.8 486.71,304.8" fill="#FF0080"/><polygon points="519.37,299.33 503.07,289.83 503.07,308.83" fill="#FF0080"/><polygon points="535.73,303.4 519.43,293.9 519.43,312.9" fill="#FF0080"/><polygon points="552.09,307.3 535.79,297.8 535.79,316.8" fill="#FF0080"/><polygon points="568.45,310.87 552.15,301.37 552.15,320.37" fill="#FF0080"/><polygon points="584.81,314.23 568.51,304.73 568.51,323.73" fill="#FF0080"/><polygon points="601.17,317.58 584.87,308.08 584.87,327.08" fill="#FF0080"/><polygon points="617.53,321.1 601.23,311.6 601.23,330.6" fill="#FF0080"/><polygon points="633.89,325 617.59,315.5 617.59,334.5" fill="#FF0080"/><polygon points="650.25,329.39 633.95,319.89 633.95,338.89" fill="#FF0080"/><polygon points="666.61,334.19 650.31,324.69 650.31,343.69" fill="#FF0080"/><polygon points="682.97,339.29 666.67,329.79 666.67,348.79" fill="#FF0080"/><polygon points="699.33,344.6 683.03,335.1 683.03,354.1" fill="#FF0080"/><polygon points="715.69,350 699.39,340.5 699.39,359.5" fill="#FF0080"/><polygon points="732.05,355.52 715.75,346.02 715.75,365.02" fill="#FF0080"/><polygon points="748.41,361.23 732.11,351.73 732.11,370.73" fill="#FF0080"/><polygon points="764.77,367.14 748.47,357.64 748.47,376.64" fill="#FF0080"/><polygon points="781.13,373.23 764.83,363.73 764.83,382.73" fill="#FF0080"/><polygon points="797.49,379.5 781.19,370 781.19,389" fill="#FF0080"/></g>
<g><polygon points="136.6,237.3 144.45,241.65 144.45,250.35 136.6,254.7 128.75,250.35 128.75,241.65" fill="#800080"/><polygon points="148.58,237.5 156.43,241.85 156.43,250.55 148.58,254.9 140.73,250.55 140.73,241.85" fill="#800080"/><polygon points="164.94,238.14 172.79,242.49 172.79,251.19 164.94,255.54 157.09,251.19 157.09,242.49" fill="#800080"/><polygon points="181.3,239.33 189.15,243.68 189.15,252.38 181.3,256.73 173.45,252.38 173.45,243.68" fill="#800080"/><polygon points="197.66,240.84 205.51,245.19 205.51,253.89 197.66,258.24 189.81,253.89 189.81,245.19" fill="#800080"/><polygon points="214.02,242.47 221.87,246.82 221.87,255.52 214.02,259.87 206.17,255.52 206.17,246.82" fill="#800080"/><polygon points="230.38,244 238.23,248.35 238.23,257.05 230.38,261.4 222.53,257.05 222.53,248.35" fill="#800080"/><polygon points="246.74,245.43 254.59,249.78 254.59,258.48 246.74,262.83 238.89,258.48 238.89,249.78" fill="#800080"/><polygon points="263.1,246.9 270.95,251.25 270.95,259.95 263.1,264.3 255.25,259.95 255.25,251.25" fill="#800080"/><polygon points="279.46,248.42 287.31,252.77 287.31,261.47 279.46,265.82 271.61,261.47 271.61,252.77" fill="#800080"/><polygon points="295.82,250.02 303.67,254.37 303.67,263.07 295.82,267.42 287.97,263.07 287.97,254.37" fill="#800080"/><polygon points="312.18,251.7 320.03,256.05 320.03,264.75 312.18,269.1 304.33,264.75 304.33,256.05" fill="#800080"/><polygon points="328.54,253.47 336.39,257.82 336.39,266.52 328.54,270.87 320.69,266.52 320.69,257.82" fill="#800080"/><polygon points="344.9,255.32 352.75,259.67 352.75,268.37 344.9,272.72 337.05,268.37 337.05,259.67" fill="#800080"/><polygon points="361.26,257.27 369.11,261.62 369.11,270.32 361.26,274.67 353.41,270.32 353.41,261.62" fill="#800080"/><polygon points="377.62,259.33 385.47,263.68 385.47,272.38 377.62,276.73 369.77,272.38 369.77,263.68" fill="#800080"/><polygon points="393.98,261.5 401.83,265.85 401.83,274.55 393.98,278.9 386.13,274.55 386.13,265.85" fill="#800080"/><polygon points="410.34,263.83 418.19,268.18 418.19,276.88 410.34,281.23 402.49,276.88 402.49,268.18" fill="#800080"/><polygon points="426.7,266.34 434.55,270.69 434.55,279.39 426.7,283.74 418.85,279.39 418.85,270.69" fill="#800080"/><polygon points="443.06,268.97 450.91,273.32 450.91,282.02 443.06,286.37 435.21,282.02 435.21,273.32" fill="#800080"/><polygon points="459.42,271.67 467.27,276.02 467.27,284.72 459.42,289.07 451.57,284.72 451.57,276.02" fill="#800080"/><polygon points="475.78,274.4 483.63,278.75 483.63,287.45 475.78,291.8 467.93,287.45 467.93,278.75" fill="#800080"/><polygon points="492.14,277.13 499.99,281.48 499.99,290.18 492.14,294.53 484.29,290.18 484.29,281.48" fill="#800080"/><polygon points="508.5,279.92 516.35,284.27 516.35,292.97 508.5,297.32 500.65,292.97 500.65,284.27" fill="#800080"/><polygon points="524.86,282.83 532.71,287.18 532.71,295.88 524.86,300.23 517.01,295.88 517.01,287.18" fill="#800080"/><polygon points="541.22,285.9 549.07,290.25 549.07,298.95 541.22,303.3 533.37,298.95 533.37,290.25" fill="#800080"/><polygon points="557.58,289.12 565.43,293.47 565.43,302.17 557.58,306.52 549.73,302.17 549.73,293.47" fill="#800080"/><polygon points="573.94,292.47 581.79,296.82 581.79,305.52 573.94,309.87 566.09,305.52 566.09,296.82" fill="#800080"/><polygon points="590.3,295.99 598.15,300.34 598.15,309.04 590.3,313.39 582.45,309.04 582.45,300.34" fill="#800080"/><polygon points="606.66,299.75 614.51,304.1 614.51,312.8 606.66,317.15 598.81,312.8 598.81,304.1" fill="#800080"/><polygon points="623.02,303.8 630.87,308.15 630.87,316.85 623.02,321.2 615.17,316.85 615.17,308.15" fill="#800080"/><polygon points="639.38,308.31 647.23,312.66 647.23,321.36 639.38,325.71 631.53,321.36 631.53,312.66" fill="#800080"/><polygon points="655.74,313.29 663.59,317.64 663.59,326.34 655.74,330.69 647.89,326.34 647.89,317.64" fill="#800080"/><polygon points="672.1,318.57 679.95,322.92 679.95,331.62 672.1,335.97 664.25,331.62 664.25,322.92" fill="#800080"/><polygon points="688.46,323.96 696.31,328.31 696.31,337.01 688.46,341.36 680.61,337.01 680.61,328.31" fill="#800080"/><polygon points="704.82,329.3 712.67,333.65 712.67,342.35 704.82,346.7 696.97,342.35 696.97,333.65" fill="#800080"/><polygon points="721.18,334.58 729.03,338.93 729.03,347.63 721.18,351.98 713.33,347.63 713.33,338.93" fill="#800080"/><polygon points="737.54,339.92 745.39,344.27 745.39,352.97 737.54,357.32 729.69,352.97 729.69,344.27" fill="#800080"/><polygon points="753.9,345.32 761.75,349.67 761.75,358.37 753.9,362.72 746.05,358.37 746.05,349.67" fill="#800080"/><polygon points="770.26,350.78 778.11,355.13 778.11,363.83 770.26,368.18 762.41,363.83 762.41,355.13" fill="#800080"/><polygon points="786.62,356.3 794.47,360.65 794.47,369.35 786.62,373.7 778.77,369.35 778.77,360.65" fill="#800080"/></g>
</g>
<rect x="168.3" y="38.7" width="14" height="14" fill="#000"/>
<text x="0" y="0" font-family='"Liberation Serif", "DejaVu Serif", serif' font-weight="bold" font-size="32.5" text-anchor="start" fill="#000" transform="translate(211.6 57) scale(1.0 1)" >Ep</text>
<circle cx="287.8" cy="45.7" r="8" fill="#FF00FF"/>
<text x="0" y="0" font-family='"Liberation Serif", "DejaVu Serif", serif' font-weight="bold" font-size="32.5" text-anchor="start" fill="#000" transform="translate(324.9 57) scale(1.0 1)" >A2</text>
<polygon points="400.4,35.1 409.8,51.3 391,51.3" fill="#00FF00"/>
<text x="0" y="0" font-family='"Liberation Serif", "DejaVu Serif", serif' font-weight="bold" font-size="32.5" text-anchor="start" fill="#000" transform="translate(437.2 57) scale(1.0 1)" >A4</text>
<polygon points="513.1,56.5 522.5,40.3 503.7,40.3" fill="#8000FF"/>
<text x="0" y="0" font-family='"Liberation Serif", "DejaVu Serif", serif' font-weight="bold" font-size="32.5" text-anchor="start" fill="#000" transform="translate(550.1 57) scale(1.0 1)" >A6</text>
<polygon points="625.5,36.1 635.1,45.7 625.5,55.3 615.9,45.7" fill="#008000"/>
<text x="0" y="0" font-family='"Liberation Serif", "DejaVu Serif", serif' font-weight="bold" font-size="32.5" text-anchor="start" fill="#000" transform="translate(662.4 57) scale(1.0 1)" >A8</text>
<polygon points="164.73,86.3 181.03,76.8 181.03,95.8" fill="#FF8000"/>
<text x="0" y="0" font-family='"Liberation Serif", "DejaVu Serif", serif' font-weight="bold" font-size="32.5" text-anchor="start" fill="#000" transform="translate(211.8 97.9) scale(1.0 1)" >A10</text>
<polygon points="315.07,86.3 298.77,76.8 298.77,95.8" fill="#FF0080"/>
<text x="0" y="0" font-family='"Liberation Serif", "DejaVu Serif", serif' font-weight="bold" font-size="32.5" text-anchor="start" fill="#000" transform="translate(340.8 97.9) scale(0.985 1)" >A6+B2</text>
<polygon points="473,77.7 480.85,82.05 480.85,90.75 473,95.1 465.15,90.75 465.15,82.05" fill="#800080"/>
<text x="0" y="0" font-family='"Liberation Serif", "DejaVu Serif", serif' font-weight="bold" font-size="32.5" text-anchor="start" fill="#000" transform="translate(510.1 97.9) scale(0.985 1)" >A6+B4</text>
</g>
<g id="panel-b">
<clipPath id="clipB"><rect x="1014.7" y="13.4" width="654.9" height="528.9"/></clipPath>
<rect x="1014.7" y="13.4" width="654.4" height="528.9" fill="none" stroke="#000" stroke-width="4.8" stroke-linejoin="round"/>
<line x1="1014.7" y1="13.27" x2="1010.3" y2="13.27" stroke="#000" stroke-width="4.6" stroke-linecap="round" />
<line x1="1014.7" y1="75.5" x2="1005.4" y2="75.5" stroke="#000" stroke-width="4.6" stroke-linecap="round" />
<line x1="1014.7" y1="137.73" x2="1010.3" y2="137.73" stroke="#000" stroke-width="4.6" stroke-linecap="round" />
<line x1="1014.7" y1="199.97" x2="1005.4" y2="199.97" stroke="#000" stroke-width="4.6" stroke-linecap="round" />
<line x1="1014.7" y1="262.2" x2="1010.3" y2="262.2" stroke="#000" stroke-width="4.6" stroke-linecap="round" />
<line x1="1014.7" y1="324.44" x2="1005.4" y2="324.44" stroke="#000" stroke-width="4.6" stroke-linecap="round" />
<line x1="1014.7" y1="386.67" x2="1010.3" y2="386.67" stroke="#000" stroke-width="4.6" stroke-linecap="round" />
<line x1="1014.7" y1="448.9" x2="1005.4" y2="448.9" stroke="#000" stroke-width="4.6" stroke-linecap="round" />
<line x1="1014.7" y1="511.14" x2="1010.3" y2="511.14" stroke="#000" stroke-width="4.6" stroke-linecap="round" />
<line x1="1014.7" y1="542.3" x2="1014.7" y2="551.6" stroke="#000" stroke-width="4.6" stroke-linecap="round" />
<line x1="1042.84" y1="542.3" x2="1042.84" y2="546.5" stroke="#000" stroke-width="4.4" stroke-linecap="round" />
<line x1="1059.3" y1="542.3" x2="1059.3" y2="546.5" stroke="#000" stroke-width="4.4" stroke-linecap="round" />
<line x1="1070.98" y1="542.3" x2="1070.98" y2="546.5" stroke="#000" stroke-width="4.4" stroke-linecap="round" />
<line x1="1080.04" y1="542.3" x2="1080.04" y2="546.5" stroke="#000" stroke-width="4.4" stroke-linecap="round" />
<line x1="1087.45" y1="542.3" x2="1087.45" y2="546.5" stroke="#000" stroke-width="4.4" stroke-linecap="round" />
<line x1="1093.7" y1="542.3" x2="1093.7" y2="546.5" stroke="#000" stroke-width="4.4" stroke-linecap="round" />
<line x1="1099.13" y1="542.3" x2="1099.13" y2="546.5" stroke="#000" stroke-width="4.4" stroke-linecap="round" />
<line x1="1103.91" y1="542.3" x2="1103.91" y2="546.5" stroke="#000" stroke-width="4.4" stroke-linecap="round" />
<line x1="1108.19" y1="542.3" x2="1108.19" y2="551.6" stroke="#000" stroke-width="4.6" stroke-linecap="round" />
<line x1="1136.33" y1="542.3" x2="1136.33" y2="546.5" stroke="#000" stroke-width="4.4" stroke-linecap="round" />
<line x1="1152.79" y1="542.3" x2="1152.79" y2="546.5" stroke="#000" stroke-width="4.4" stroke-linecap="round" />
<line x1="1164.47" y1="542.3" x2="1164.47" y2="546.5" stroke="#000" stroke-width="4.4" stroke-linecap="round" />
<line x1="1173.53" y1="542.3" x2="1173.53" y2="546.5" stroke="#000" stroke-width="4.4" stroke-linecap="round" />
<line x1="1180.93" y1="542.3" x2="1180.93" y2="546.5" stroke="#000" stroke-width="4.4" stroke-linecap="round" />
<line x1="1187.19" y1="542.3" x2="1187.19" y2="546.5" stroke="#000" stroke-width="4.4" stroke-linecap="round" />
<line x1="1192.61" y1="542.3" x2="1192.61" y2="546.5" stroke="#000" stroke-width="4.4" stroke-linecap="round" />
<line x1="1197.39" y1="542.3" x2="1197.39" y2="546.5" stroke="#000" stroke-width="4.4" stroke-linecap="round" />
<line x1="1201.67" y1="542.3" x2="1201.67" y2="551.6" stroke="#000" stroke-width="4.6" stroke-linecap="round" />
<line x1="1229.81" y1="542.3" x2="1229.81" y2="546.5" stroke="#000" stroke-width="4.4" stroke-linecap="round" />
<line x1="1246.28" y1="542.3" x2="1246.28" y2="546.5" stroke="#000" stroke-width="4.4" stroke-linecap="round" />
<line x1="1257.96" y1="542.3" x2="1257.96" y2="546.5" stroke="#000" stroke-width="4.4" stroke-linecap="round" />
<line x1="1267.02" y1="542.3" x2="1267.02" y2="546.5" stroke="#000" stroke-width="4.4" stroke-linecap="round" />
<line x1="1274.42" y1="542.3" x2="1274.42" y2="546.5" stroke="#000" stroke-width="4.4" stroke-linecap="round" />
<line x1="1280.68" y1="542.3" x2="1280.68" y2="546.5" stroke="#000" stroke-width="4.4" stroke-linecap="round" />
<line x1="1286.1" y1="542.3" x2="1286.1" y2="546.5" stroke="#000" stroke-width="4.4" stroke-linecap="round" />
<line x1="1290.88" y1="542.3" x2="1290.88" y2="546.5" stroke="#000" stroke-width="4.4" stroke-linecap="round" />
<line x1="1295.16" y1="542.3" x2="1295.16" y2="551.6" stroke="#000" stroke-width="4.6" stroke-linecap="round" />
<line x1="1323.3" y1="542.3" x2="1323.3" y2="546.5" stroke="#000" stroke-width="4.4" stroke-linecap="round" />
<line x1="1339.76" y1="542.3" x2="1339.76" y2="546.5" stroke="#000" stroke-width="4.4" stroke-linecap="round" />
<line x1="1351.44" y1="542.3" x2="1351.44" y2="546.5" stroke="#000" stroke-width="4.4" stroke-linecap="round" />
<line x1="1360.5" y1="542.3" x2="1360.5" y2="546.5" stroke="#000" stroke-width="4.4" stroke-linecap="round" />
<line x1="1367.9" y1="542.3" x2="1367.9" y2="546.5" stroke="#000" stroke-width="4.4" stroke-linecap="round" />
<line x1="1374.16" y1="542.3" x2="1374.16" y2="546.5" stroke="#000" stroke-width="4.4" stroke-linecap="round" />
<line x1="1379.58" y1="542.3" x2="1379.58" y2="546.5" stroke="#000" stroke-width="4.4" stroke-linecap="round" />
<line x1="1384.37" y1="542.3" x2="1384.37" y2="546.5" stroke="#000" stroke-width="4.4" stroke-linecap="round" />
<line x1="1388.64" y1="542.3" x2="1388.64" y2="551.6" stroke="#000" stroke-width="4.6" stroke-linecap="round" />
<line x1="1416.78" y1="542.3" x2="1416.78" y2="546.5" stroke="#000" stroke-width="4.4" stroke-linecap="round" />
<line x1="1433.25" y1="542.3" x2="1433.25" y2="546.5" stroke="#000" stroke-width="4.4" stroke-linecap="round" />
<line x1="1444.93" y1="542.3" x2="1444.93" y2="546.5" stroke="#000" stroke-width="4.4" stroke-linecap="round" />
<line x1="1453.99" y1="542.3" x2="1453.99" y2="546.5" stroke="#000" stroke-width="4.4" stroke-linecap="round" />
<line x1="1461.39" y1="542.3" x2="1461.39" y2="546.5" stroke="#000" stroke-width="4.4" stroke-linecap="round" />
<line x1="1467.65" y1="542.3" x2="1467.65" y2="546.5" stroke="#000" stroke-width="4.4" stroke-linecap="round" />
<line x1="1473.07" y1="542.3" x2="1473.07" y2="546.5" stroke="#000" stroke-width="4.4" stroke-linecap="round" />
<line x1="1477.85" y1="542.3" x2="1477.85" y2="546.5" stroke="#000" stroke-width="4.4" stroke-linecap="round" />
<line x1="1482.13" y1="542.3" x2="1482.13" y2="551.6" stroke="#000" stroke-width="4.6" stroke-linecap="round" />
<line x1="1510.27" y1="542.3" x2="1510.27" y2="546.5" stroke="#000" stroke-width="4.4" stroke-linecap="round" />
<line x1="1526.73" y1="542.3" x2="1526.73" y2="546.5" stroke="#000" stroke-width="4.4" stroke-linecap="round" />
<line x1="1538.41" y1="542.3" x2="1538.41" y2="546.5" stroke="#000" stroke-width="4.4" stroke-linecap="round" />
<line x1="1547.47" y1="542.3" x2="1547.47" y2="546.5" stroke="#000" stroke-width="4.4" stroke-linecap="round" />
<line x1="1554.87" y1="542.3" x2="1554.87" y2="546.5" stroke="#000" stroke-width="4.4" stroke-linecap="round" />
<line x1="1561.13" y1="542.3" x2="1561.13" y2="546.5" stroke="#000" stroke-width="4.4" stroke-linecap="round" />
<line x1="1566.55" y1="542.3" x2="1566.55" y2="546.5" stroke="#000" stroke-width="4.4" stroke-linecap="round" />
<line x1="1571.34" y1="542.3" x2="1571.34" y2="546.5" stroke="#000" stroke-width="4.4" stroke-linecap="round" />
<line x1="1575.61" y1="542.3" x2="1575.61" y2="551.6" stroke="#000" stroke-width="4.6" stroke-linecap="round" />
<line x1="1603.76" y1="542.3" x2="1603.76" y2="546.5" stroke="#000" stroke-width="4.4" stroke-linecap="round" />
<line x1="1620.22" y1="542.3" x2="1620.22" y2="546.5" stroke="#000" stroke-width="4.4" stroke-linecap="round" />
<line x1="1631.9" y1="542.3" x2="1631.9" y2="546.5" stroke="#000" stroke-width="4.4" stroke-linecap="round" />
<line x1="1640.96" y1="542.3" x2="1640.96" y2="546.5" stroke="#000" stroke-width="4.4" stroke-linecap="round" />
<line x1="1648.36" y1="542.3" x2="1648.36" y2="546.5" stroke="#000" stroke-width="4.4" stroke-linecap="round" />
<line x1="1654.62" y1="542.3" x2="1654.62" y2="546.5" stroke="#000" stroke-width="4.4" stroke-linecap="round" />
<line x1="1660.04" y1="542.3" x2="1660.04" y2="546.5" stroke="#000" stroke-width="4.4" stroke-linecap="round" />
<line x1="1664.82" y1="542.3" x2="1664.82" y2="546.5" stroke="#000" stroke-width="4.4" stroke-linecap="round" />
<line x1="1669.1" y1="542.3" x2="1669.1" y2="551.6" stroke="#000" stroke-width="4.6" stroke-linecap="round" />
<text x="0" y="0" font-family='"Liberation Sans", "DejaVu Sans", sans-serif' font-weight="bold" font-size="34" text-anchor="end" fill="#000" transform="translate(998.6 85) scale(0.93 1)"  stroke="#000" stroke-width="0.35" stroke-linejoin="round">0.016</text>
<text x="0" y="0" font-family='"Liberation Sans", "DejaVu Sans", sans-serif' font-weight="bold" font-size="34" text-anchor="end" fill="#000" transform="translate(998.6 209.47) scale(0.93 1)"  stroke="#000" stroke-width="0.35" stroke-linejoin="round">0.012</text>
<text x="0" y="0" font-family='"Liberation Sans", "DejaVu Sans", sans-serif' font-weight="bold" font-size="34" text-anchor="end" fill="#000" transform="translate(998.6 333.94) scale(0.93 1)"  stroke="#000" stroke-width="0.35" stroke-linejoin="round">0.008</text>
<text x="0" y="0" font-family='"Liberation Sans", "DejaVu Sans", sans-serif' font-weight="bold" font-size="34" text-anchor="end" fill="#000" transform="translate(998.6 458.4) scale(0.93 1)"  stroke="#000" stroke-width="0.35" stroke-linejoin="round">0.004</text>
<text x="0" y="0" font-family='"Liberation Sans", "DejaVu Sans", sans-serif' font-weight="bold" font-size="36" text-anchor="start" fill="#000" transform="translate(988.07 592.3) scale(0.93 1)"  stroke="#000" stroke-width="0.35" stroke-linejoin="round">10</text>
<text x="0" y="0" font-family='"Liberation Sans", "DejaVu Sans", sans-serif' font-weight="bold" font-size="20.5" text-anchor="start" fill="#000" transform="translate(1026.5 572.3) scale(0.88 1)" stroke="#000" stroke-width="0.15">-1</text>
<text x="0" y="0" font-family='"Liberation Sans", "DejaVu Sans", sans-serif' font-weight="bold" font-size="36" text-anchor="start" fill="#000" transform="translate(1084.56 592.3) scale(0.93 1)"  stroke="#000" stroke-width="0.35" stroke-linejoin="round">10</text>
<text x="0" y="0" font-family='"Liberation Sans", "DejaVu Sans", sans-serif' font-weight="bold" font-size="20.5" text-anchor="start" fill="#000" transform="translate(1122.99 572.3) scale(0.88 1)" stroke="#000" stroke-width="0.15">0</text>
<text x="0" y="0" font-family='"Liberation Sans", "DejaVu Sans", sans-serif' font-weight="bold" font-size="36" text-anchor="start" fill="#000" transform="translate(1178.04 592.3) scale(0.93 1)"  stroke="#000" stroke-width="0.35" stroke-linejoin="round">10</text>
<text x="0" y="0" font-family='"Liberation Sans", "DejaVu Sans", sans-serif' font-weight="bold" font-size="20.5" text-anchor="start" fill="#000" transform="translate(1216.47 572.3) scale(0.88 1)" stroke="#000" stroke-width="0.15">1</text>
<text x="0" y="0" font-family='"Liberation Sans", "DejaVu Sans", sans-serif' font-weight="bold" font-size="36" text-anchor="start" fill="#000" transform="translate(1271.53 592.3) scale(0.93 1)"  stroke="#000" stroke-width="0.35" stroke-linejoin="round">10</text>
<text x="0" y="0" font-family='"Liberation Sans", "DejaVu Sans", sans-serif' font-weight="bold" font-size="20.5" text-anchor="start" fill="#000" transform="translate(1309.96 572.3) scale(0.88 1)" stroke="#000" stroke-width="0.15">2</text>
<text x="0" y="0" font-family='"Liberation Sans", "DejaVu Sans", sans-serif' font-weight="bold" font-size="36" text-anchor="start" fill="#000" transform="translate(1365.01 592.3) scale(0.93 1)"  stroke="#000" stroke-width="0.35" stroke-linejoin="round">10</text>
<text x="0" y="0" font-family='"Liberation Sans", "DejaVu Sans", sans-serif' font-weight="bold" font-size="20.5" text-anchor="start" fill="#000" transform="translate(1403.44 572.3) scale(0.88 1)" stroke="#000" stroke-width="0.15">3</text>
<text x="0" y="0" font-family='"Liberation Sans", "DejaVu Sans", sans-serif' font-weight="bold" font-size="36" text-anchor="start" fill="#000" transform="translate(1458.5 592.3) scale(0.93 1)"  stroke="#000" stroke-width="0.35" stroke-linejoin="round">10</text>
<text x="0" y="0" font-family='"Liberation Sans", "DejaVu Sans", sans-serif' font-weight="bold" font-size="20.5" text-anchor="start" fill="#000" transform="translate(1496.93 572.3) scale(0.88 1)" stroke="#000" stroke-width="0.15">4</text>
<text x="0" y="0" font-family='"Liberation Sans", "DejaVu Sans", sans-serif' font-weight="bold" font-size="36" text-anchor="start" fill="#000" transform="translate(1551.98 592.3) scale(0.93 1)"  stroke="#000" stroke-width="0.35" stroke-linejoin="round">10</text>
<text x="0" y="0" font-family='"Liberation Sans", "DejaVu Sans", sans-serif' font-weight="bold" font-size="20.5" text-anchor="start" fill="#000" transform="translate(1590.41 572.3) scale(0.88 1)" stroke="#000" stroke-width="0.15">5</text>
<text x="0" y="0" font-family='"Liberation Sans", "DejaVu Sans", sans-serif' font-weight="bold" font-size="36" text-anchor="start" fill="#000" transform="translate(1645.47 592.3) scale(0.93 1)"  stroke="#000" stroke-width="0.35" stroke-linejoin="round">10</text>
<text x="0" y="0" font-family='"Liberation Sans", "DejaVu Sans", sans-serif' font-weight="bold" font-size="20.5" text-anchor="start" fill="#000" transform="translate(1683.9 572.3) scale(0.88 1)" stroke="#000" stroke-width="0.15">6</text>
<text x="1343" y="629.5" font-family='"Liberation Serif", "DejaVu Serif", serif' font-weight="bold" font-size="36.6" text-anchor="middle" fill="#000" letter-spacing="0.2" >Frequency (Hz)</text>
<text x="0" y="0" font-family='"Liberation Serif", "DejaVu Serif", serif' font-weight="bold" font-size="39.5" text-anchor="middle" fill="#000" transform="translate(904.9 289.5) rotate(-90) scale(1.03 1)" >Tan<tspan font-weight="normal">δ</tspan></text>
<text x="913.2" y="37.6" font-family='"Liberation Serif", "DejaVu Serif", serif' font-weight="bold" font-size="44.5" text-anchor="start" fill="#000" >b</text>
<g clip-path="url(#clipB)">
<g><rect x="1007.95" y="483.25" width="13.5" height="13.5" fill="#000000"/><rect x="1020.34" y="473.65" width="13.5" height="13.5" fill="#000000"/><rect x="1036.8" y="473.05" width="13.5" height="13.5" fill="#000000"/><rect x="1053.26" y="467.45" width="13.5" height="13.5" fill="#000000"/><rect x="1069.72" y="464.05" width="13.5" height="13.5" fill="#000000"/><rect x="1086.18" y="457.85" width="13.5" height="13.5" fill="#000000"/><rect x="1102.65" y="451.05" width="13.5" height="13.5" fill="#000000"/><rect x="1119.11" y="439.25" width="13.5" height="13.5" fill="#000000"/><rect x="1135.57" y="426.25" width="13.5" height="13.5" fill="#000000"/><rect x="1152.03" y="413.25" width="13.5" height="13.5" fill="#000000"/><rect x="1168.49" y="402.25" width="13.5" height="13.5" fill="#000000"/><rect x="1184.95" y="387.35" width="13.5" height="13.5" fill="#000000"/><rect x="1201.42" y="372.15" width="13.5" height="13.5" fill="#000000"/><rect x="1217.88" y="356.65" width="13.5" height="13.5" fill="#000000"/><rect x="1234.34" y="344.95" width="13.5" height="13.5" fill="#000000"/><rect x="1250.8" y="334.75" width="13.5" height="13.5" fill="#000000"/><rect x="1267.26" y="325.65" width="13.5" height="13.5" fill="#000000"/><rect x="1283.73" y="318.05" width="13.5" height="13.5" fill="#000000"/><rect x="1300.19" y="312.15" width="13.5" height="13.5" fill="#000000"/><rect x="1316.65" y="306.15" width="13.5" height="13.5" fill="#000000"/><rect x="1333.11" y="298.85" width="13.5" height="13.5" fill="#000000"/><rect x="1349.57" y="291.45" width="13.5" height="13.5" fill="#000000"/><rect x="1366.04" y="283.05" width="13.5" height="13.5" fill="#000000"/><rect x="1382.5" y="271.75" width="13.5" height="13.5" fill="#000000"/><rect x="1398.96" y="260.25" width="13.5" height="13.5" fill="#000000"/><rect x="1415.42" y="247.85" width="13.5" height="13.5" fill="#000000"/><rect x="1431.88" y="233.25" width="13.5" height="13.5" fill="#000000"/><rect x="1448.35" y="217.25" width="13.5" height="13.5" fill="#000000"/><rect x="1464.81" y="200.25" width="13.5" height="13.5" fill="#000000"/><rect x="1481.27" y="181.95" width="13.5" height="13.5" fill="#000000"/><rect x="1497.73" y="161.25" width="13.5" height="13.5" fill="#000000"/><rect x="1514.19" y="141.25" width="13.5" height="13.5" fill="#000000"/><rect x="1530.65" y="122.55" width="13.5" height="13.5" fill="#000000"/><rect x="1547.12" y="105.05" width="13.5" height="13.5" fill="#000000"/><rect x="1563.58" y="87.25" width="13.5" height="13.5" fill="#000000"/><rect x="1580.04" y="79.05" width="13.5" height="13.5" fill="#000000"/><rect x="1596.5" y="72.85" width="13.5" height="13.5" fill="#000000"/><rect x="1612.96" y="66.15" width="13.5" height="13.5" fill="#000000"/><rect x="1629.43" y="63.25" width="13.5" height="13.5" fill="#000000"/><rect x="1645.89" y="59.15" width="13.5" height="13.5" fill="#000000"/><rect x="1662.35" y="59.95" width="13.5" height="13.5" fill="#000000"/></g>
<g><circle cx="1014.7" cy="463" r="7.8" fill="#FF00FF"/><circle cx="1027.09" cy="462.3" r="7.8" fill="#FF00FF"/><circle cx="1043.55" cy="457.8" r="7.8" fill="#FF00FF"/><circle cx="1060.01" cy="452" r="7.8" fill="#FF00FF"/><circle cx="1076.47" cy="441.5" r="7.8" fill="#FF00FF"/><circle cx="1092.93" cy="429.6" r="7.8" fill="#FF00FF"/><circle cx="1109.4" cy="418.4" r="7.8" fill="#FF00FF"/><circle cx="1125.86" cy="404.3" r="7.8" fill="#FF00FF"/><circle cx="1142.32" cy="387.9" r="7.8" fill="#FF00FF"/><circle cx="1158.78" cy="367.2" r="7.8" fill="#FF00FF"/><circle cx="1175.24" cy="347.3" r="7.8" fill="#FF00FF"/><circle cx="1191.7" cy="327" r="7.8" fill="#FF00FF"/><circle cx="1208.17" cy="307.4" r="7.8" fill="#FF00FF"/><circle cx="1224.63" cy="293.7" r="7.8" fill="#FF00FF"/><circle cx="1241.09" cy="282.1" r="7.8" fill="#FF00FF"/><circle cx="1257.55" cy="275.1" r="7.8" fill="#FF00FF"/><circle cx="1274.01" cy="274.6" r="7.8" fill="#FF00FF"/><circle cx="1290.48" cy="275.3" r="7.8" fill="#FF00FF"/><circle cx="1306.94" cy="275.1" r="7.8" fill="#FF00FF"/><circle cx="1323.4" cy="274.6" r="7.8" fill="#FF00FF"/><circle cx="1339.86" cy="272.9" r="7.8" fill="#FF00FF"/><circle cx="1356.32" cy="269.5" r="7.8" fill="#FF00FF"/><circle cx="1372.79" cy="262.7" r="7.8" fill="#FF00FF"/><circle cx="1389.25" cy="254.6" r="7.8" fill="#FF00FF"/><circle cx="1405.71" cy="244.5" r="7.8" fill="#FF00FF"/><circle cx="1422.17" cy="233.2" r="7.8" fill="#FF00FF"/><circle cx="1438.63" cy="219.7" r="7.8" fill="#FF00FF"/><circle cx="1455.1" cy="203.1" r="7.8" fill="#FF00FF"/><circle cx="1471.56" cy="184.9" r="7.8" fill="#FF00FF"/><circle cx="1488.02" cy="166.1" r="7.8" fill="#FF00FF"/><circle cx="1504.48" cy="146.4" r="7.8" fill="#FF00FF"/><circle cx="1520.94" cy="127.9" r="7.8" fill="#FF00FF"/><circle cx="1537.4" cy="111.8" r="7.8" fill="#FF00FF"/><circle cx="1553.87" cy="98.2" r="7.8" fill="#FF00FF"/><circle cx="1570.33" cy="88.3" r="7.8" fill="#FF00FF"/><circle cx="1586.79" cy="81.7" r="7.8" fill="#FF00FF"/><circle cx="1603.25" cy="76.5" r="7.8" fill="#FF00FF"/><circle cx="1619.71" cy="72.3" r="7.8" fill="#FF00FF"/><circle cx="1636.18" cy="70.4" r="7.8" fill="#FF00FF"/><circle cx="1652.64" cy="67.8" r="7.8" fill="#FF00FF"/><circle cx="1669.1" cy="71.7" r="7.8" fill="#FF00FF"/></g>
<g><polygon points="1014.7,467 1024.1,483.2 1005.3,483.2" fill="#00FF00"/><polygon points="1027.09,461.9 1036.49,478.1 1017.69,478.1" fill="#00FF00"/><polygon points="1043.55,459.2 1052.95,475.4 1034.15,475.4" fill="#00FF00"/><polygon points="1060.01,453.2 1069.41,469.4 1050.61,469.4" fill="#00FF00"/><polygon points="1076.47,447.2 1085.87,463.4 1067.07,463.4" fill="#00FF00"/><polygon points="1092.93,439.4 1102.33,455.6 1083.53,455.6" fill="#00FF00"/><polygon points="1109.4,431.5 1118.8,447.7 1100,447.7" fill="#00FF00"/><polygon points="1125.86,417.9 1135.26,434.1 1116.46,434.1" fill="#00FF00"/><polygon points="1142.32,403.8 1151.72,420 1132.92,420" fill="#00FF00"/><polygon points="1158.78,390.3 1168.18,406.5 1149.38,406.5" fill="#00FF00"/><polygon points="1175.24,375.2 1184.64,391.4 1165.84,391.4" fill="#00FF00"/><polygon points="1191.7,357.2 1201.1,373.4 1182.3,373.4" fill="#00FF00"/><polygon points="1208.17,341.7 1217.57,357.9 1198.77,357.9" fill="#00FF00"/><polygon points="1224.63,328.8 1234.03,345 1215.23,345" fill="#00FF00"/><polygon points="1241.09,320.2 1250.49,336.4 1231.69,336.4" fill="#00FF00"/><polygon points="1257.55,314.2 1266.95,330.4 1248.15,330.4" fill="#00FF00"/><polygon points="1274.01,309.2 1283.41,325.4 1264.61,325.4" fill="#00FF00"/><polygon points="1290.48,307.2 1299.88,323.4 1281.08,323.4" fill="#00FF00"/><polygon points="1306.94,304.7 1316.34,320.9 1297.54,320.9" fill="#00FF00"/><polygon points="1323.4,300.7 1332.8,316.9 1314,316.9" fill="#00FF00"/><polygon points="1339.86,294.7 1349.26,310.9 1330.46,310.9" fill="#00FF00"/><polygon points="1356.32,287.2 1365.72,303.4 1346.92,303.4" fill="#00FF00"/><polygon points="1372.79,277.7 1382.19,293.9 1363.39,293.9" fill="#00FF00"/><polygon points="1389.25,266.7 1398.65,282.9 1379.85,282.9" fill="#00FF00"/><polygon points="1405.71,255.9 1415.11,272.1 1396.31,272.1" fill="#00FF00"/><polygon points="1422.17,243.5 1431.57,259.7 1412.77,259.7" fill="#00FF00"/><polygon points="1438.63,228.8 1448.03,245 1429.23,245" fill="#00FF00"/><polygon points="1455.1,211.9 1464.5,228.1 1445.7,228.1" fill="#00FF00"/><polygon points="1471.56,195 1480.96,211.2 1462.16,211.2" fill="#00FF00"/><polygon points="1488.02,177 1497.42,193.2 1478.62,193.2" fill="#00FF00"/><polygon points="1504.48,158.3 1513.88,174.5 1495.08,174.5" fill="#00FF00"/><polygon points="1520.94,140.9 1530.34,157.1 1511.54,157.1" fill="#00FF00"/><polygon points="1537.4,126.6 1546.8,142.8 1528,142.8" fill="#00FF00"/><polygon points="1553.87,111.9 1563.27,128.1 1544.47,128.1" fill="#00FF00"/><polygon points="1570.33,99.5 1579.73,115.7 1560.93,115.7" fill="#00FF00"/><polygon points="1586.79,91.7 1596.19,107.9 1577.39,107.9" fill="#00FF00"/><polygon points="1603.25,86 1612.65,102.2 1593.85,102.2" fill="#00FF00"/><polygon points="1619.71,83.2 1629.11,99.4 1610.31,99.4" fill="#00FF00"/><polygon points="1636.18,82.2 1645.58,98.4 1626.78,98.4" fill="#00FF00"/><polygon points="1652.64,83.7 1662.04,99.9 1643.24,99.9" fill="#00FF00"/><polygon points="1669.1,86.2 1678.5,102.4 1659.7,102.4" fill="#00FF00"/></g>
<g><polygon points="1014.7,466.8 1024.1,450.6 1005.3,450.6" fill="#0000FF"/><polygon points="1027.09,466.3 1036.49,450.1 1017.69,450.1" fill="#0000FF"/><polygon points="1043.55,464.8 1052.95,448.6 1034.15,448.6" fill="#0000FF"/><polygon points="1060.01,460.5 1069.41,444.3 1050.61,444.3" fill="#0000FF"/><polygon points="1076.47,454.3 1085.87,438.1 1067.07,438.1" fill="#0000FF"/><polygon points="1092.93,445.8 1102.33,429.6 1083.53,429.6" fill="#0000FF"/><polygon points="1109.4,438.2 1118.8,422 1100,422" fill="#0000FF"/><polygon points="1125.86,426.1 1135.26,409.9 1116.46,409.9" fill="#0000FF"/><polygon points="1142.32,413.1 1151.72,396.9 1132.92,396.9" fill="#0000FF"/><polygon points="1158.78,398.5 1168.18,382.3 1149.38,382.3" fill="#0000FF"/><polygon points="1175.24,384.3 1184.64,368.1 1165.84,368.1" fill="#0000FF"/><polygon points="1191.7,370.3 1201.1,354.1 1182.3,354.1" fill="#0000FF"/><polygon points="1208.17,354.5 1217.57,338.3 1198.77,338.3" fill="#0000FF"/><polygon points="1224.63,342.4 1234.03,326.2 1215.23,326.2" fill="#0000FF"/><polygon points="1241.09,333.6 1250.49,317.4 1231.69,317.4" fill="#0000FF"/><polygon points="1257.55,328.6 1266.95,312.4 1248.15,312.4" fill="#0000FF"/><polygon points="1274.01,323.5 1283.41,307.3 1264.61,307.3" fill="#0000FF"/><polygon points="1290.48,320.7 1299.88,304.5 1281.08,304.5" fill="#0000FF"/><polygon points="1306.94,317.3 1316.34,301.1 1297.54,301.1" fill="#0000FF"/><polygon points="1323.4,314.2 1332.8,298 1314,298" fill="#0000FF"/><polygon points="1339.86,308.3 1349.26,292.1 1330.46,292.1" fill="#0000FF"/><polygon points="1356.32,302.3 1365.72,286.1 1346.92,286.1" fill="#0000FF"/><polygon points="1372.79,293.6 1382.19,277.4 1363.39,277.4" fill="#0000FF"/><polygon points="1389.25,283.8 1398.65,267.6 1379.85,267.6" fill="#0000FF"/><polygon points="1405.71,274.2 1415.11,258 1396.31,258" fill="#0000FF"/><polygon points="1422.17,260.1 1431.57,243.9 1412.77,243.9" fill="#0000FF"/><polygon points="1438.63,246.4 1448.03,230.2 1429.23,230.2" fill="#0000FF"/><polygon points="1455.1,230.3 1464.5,214.1 1445.7,214.1" fill="#0000FF"/><polygon points="1471.56,212.8 1480.96,196.6 1462.16,196.6" fill="#0000FF"/><polygon points="1488.02,194.4 1497.42,178.2 1478.62,178.2" fill="#0000FF"/><polygon points="1504.48,175.3 1513.88,159.1 1495.08,159.1" fill="#0000FF"/><polygon points="1520.94,156.9 1530.34,140.7 1511.54,140.7" fill="#0000FF"/><polygon points="1537.4,140.6 1546.8,124.4 1528,124.4" fill="#0000FF"/><polygon points="1553.87,126 1563.27,109.8 1544.47,109.8" fill="#0000FF"/><polygon points="1570.33,116.2 1579.73,100 1560.93,100" fill="#0000FF"/><polygon points="1586.79,109.4 1596.19,93.2 1577.39,93.2" fill="#0000FF"/><polygon points="1603.25,105.4 1612.65,89.2 1593.85,89.2" fill="#0000FF"/><polygon points="1619.71,100.4 1629.11,84.2 1610.31,84.2" fill="#0000FF"/><polygon points="1636.18,101.5 1645.58,85.3 1626.78,85.3" fill="#0000FF"/><polygon points="1652.64,102.1 1662.04,85.9 1643.24,85.9" fill="#0000FF"/><polygon points="1669.1,106 1678.5,89.8 1659.7,89.8" fill="#0000FF"/></g>
<g><polygon points="1014.7,459.4 1024.3,469 1014.7,478.6 1005.1,469" fill="#008000"/><polygon points="1027.09,459.4 1036.69,469 1027.09,478.6 1017.49,469" fill="#008000"/><polygon points="1043.55,458.4 1053.15,468 1043.55,477.6 1033.95,468" fill="#008000"/><polygon points="1060.01,449.4 1069.61,459 1060.01,468.6 1050.41,459" fill="#008000"/><polygon points="1076.47,443.2 1086.07,452.8 1076.47,462.4 1066.87,452.8" fill="#008000"/><polygon points="1092.93,437 1102.53,446.6 1092.93,456.2 1083.33,446.6" fill="#008000"/><polygon points="1109.4,429.1 1119,438.7 1109.4,448.3 1099.8,438.7" fill="#008000"/><polygon points="1125.86,417.2 1135.46,426.8 1125.86,436.4 1116.26,426.8" fill="#008000"/><polygon points="1142.32,402 1151.92,411.6 1142.32,421.2 1132.72,411.6" fill="#008000"/><polygon points="1158.78,387.4 1168.38,397 1158.78,406.6 1149.18,397" fill="#008000"/><polygon points="1175.24,374.9 1184.84,384.5 1175.24,394.1 1165.64,384.5" fill="#008000"/><polygon points="1191.7,358.4 1201.3,368 1191.7,377.6 1182.1,368" fill="#008000"/><polygon points="1208.17,342.2 1217.77,351.8 1208.17,361.4 1198.57,351.8" fill="#008000"/><polygon points="1224.63,330.4 1234.23,340 1224.63,349.6 1215.03,340" fill="#008000"/><polygon points="1241.09,322.5 1250.69,332.1 1241.09,341.7 1231.49,332.1" fill="#008000"/><polygon points="1257.55,319.7 1267.15,329.3 1257.55,338.9 1247.95,329.3" fill="#008000"/><polygon points="1274.01,317.6 1283.61,327.2 1274.01,336.8 1264.41,327.2" fill="#008000"/><polygon points="1290.48,314.9 1300.08,324.5 1290.48,334.1 1280.88,324.5" fill="#008000"/><polygon points="1306.94,312.3 1316.54,321.9 1306.94,331.5 1297.34,321.9" fill="#008000"/><polygon points="1323.4,309.4 1333,319 1323.4,328.6 1313.8,319" fill="#008000"/><polygon points="1339.86,303.9 1349.46,313.5 1339.86,323.1 1330.26,313.5" fill="#008000"/><polygon points="1356.32,298.4 1365.92,308 1356.32,317.6 1346.72,308" fill="#008000"/><polygon points="1372.79,293.4 1382.39,303 1372.79,312.6 1363.19,303" fill="#008000"/><polygon points="1389.25,284.4 1398.85,294 1389.25,303.6 1379.65,294" fill="#008000"/><polygon points="1405.71,274.4 1415.31,284 1405.71,293.6 1396.11,284" fill="#008000"/><polygon points="1422.17,262.9 1431.77,272.5 1422.17,282.1 1412.57,272.5" fill="#008000"/><polygon points="1438.63,247.4 1448.23,257 1438.63,266.6 1429.03,257" fill="#008000"/><polygon points="1455.1,232.1 1464.7,241.7 1455.1,251.3 1445.5,241.7" fill="#008000"/><polygon points="1471.56,215.2 1481.16,224.8 1471.56,234.4 1461.96,224.8" fill="#008000"/><polygon points="1488.02,196 1497.62,205.6 1488.02,215.2 1478.42,205.6" fill="#008000"/><polygon points="1504.48,177.9 1514.08,187.5 1504.48,197.1 1494.88,187.5" fill="#008000"/><polygon points="1520.94,160.4 1530.54,170 1520.94,179.6 1511.34,170" fill="#008000"/><polygon points="1537.4,142.8 1547,152.4 1537.4,162 1527.8,152.4" fill="#008000"/><polygon points="1553.87,128.4 1563.47,138 1553.87,147.6 1544.27,138" fill="#008000"/><polygon points="1570.33,114.4 1579.93,124 1570.33,133.6 1560.73,124" fill="#008000"/><polygon points="1586.79,110.1 1596.39,119.7 1586.79,129.3 1577.19,119.7" fill="#008000"/><polygon points="1603.25,104.4 1612.85,114 1603.25,123.6 1593.65,114" fill="#008000"/><polygon points="1619.71,100.4 1629.31,110 1619.71,119.6 1610.11,110" fill="#008000"/><polygon points="1636.18,96.5 1645.78,106.1 1636.18,115.7 1626.58,106.1" fill="#008000"/><polygon points="1652.64,92 1662.24,101.6 1652.64,111.2 1643.04,101.6" fill="#008000"/><polygon points="1669.1,94.8 1678.7,104.4 1669.1,114 1659.5,104.4" fill="#008000"/></g>
<g><polygon points="1003.83,453.9 1020.13,444.4 1020.13,463.4" fill="#FF8000"/><polygon points="1016.22,454.5 1032.52,445 1032.52,464" fill="#FF8000"/><polygon points="1032.68,452.2 1048.98,442.7 1048.98,461.7" fill="#FF8000"/><polygon points="1049.14,435.5 1065.44,426 1065.44,445" fill="#FF8000"/><polygon points="1065.6,436.1 1081.9,426.6 1081.9,445.6" fill="#FF8000"/><polygon points="1082.07,436.1 1098.37,426.6 1098.37,445.6" fill="#FF8000"/><polygon points="1098.53,427.4 1114.83,417.9 1114.83,436.9" fill="#FF8000"/><polygon points="1114.99,420 1131.29,410.5 1131.29,429.5" fill="#FF8000"/><polygon points="1131.45,409 1147.75,399.5 1147.75,418.5" fill="#FF8000"/><polygon points="1147.91,395.5 1164.21,386 1164.21,405" fill="#FF8000"/><polygon points="1164.38,381.5 1180.68,372 1180.68,391" fill="#FF8000"/><polygon points="1180.84,365.9 1197.14,356.4 1197.14,375.4" fill="#FF8000"/><polygon points="1197.3,352.4 1213.6,342.9 1213.6,361.9" fill="#FF8000"/><polygon points="1213.76,337.2 1230.06,327.7 1230.06,346.7" fill="#FF8000"/><polygon points="1230.22,323.6 1246.52,314.1 1246.52,333.1" fill="#FF8000"/><polygon points="1246.69,315.2 1262.99,305.7 1262.99,324.7" fill="#FF8000"/><polygon points="1263.15,300.8 1279.45,291.3 1279.45,310.3" fill="#FF8000"/><polygon points="1279.61,292.6 1295.91,283.1 1295.91,302.1" fill="#FF8000"/><polygon points="1296.07,285.3 1312.37,275.8 1312.37,294.8" fill="#FF8000"/><polygon points="1312.53,279.4 1328.83,269.9 1328.83,288.9" fill="#FF8000"/><polygon points="1329,274.6 1345.3,265.1 1345.3,284.1" fill="#FF8000"/><polygon points="1345.46,271 1361.76,261.5 1361.76,280.5" fill="#FF8000"/><polygon points="1361.92,267.1 1378.22,257.6 1378.22,276.6" fill="#FF8000"/><polygon points="1378.38,263.7 1394.68,254.2 1394.68,273.2" fill="#FF8000"/><polygon points="1394.84,257.5 1411.14,248 1411.14,267" fill="#FF8000"/><polygon points="1411.3,250.1 1427.6,240.6 1427.6,259.6" fill="#FF8000"/><polygon points="1427.77,241.1 1444.07,231.6 1444.07,250.6" fill="#FF8000"/><polygon points="1444.23,229.8 1460.53,220.3 1460.53,239.3" fill="#FF8000"/><polygon points="1460.69,215.7 1476.99,206.2 1476.99,225.2" fill="#FF8000"/><polygon points="1477.15,199.7 1493.45,190.2 1493.45,209.2" fill="#FF8000"/><polygon points="1493.61,181.9 1509.91,172.4 1509.91,191.4" fill="#FF8000"/><polygon points="1510.08,163.8 1526.38,154.3 1526.38,173.3" fill="#FF8000"/><polygon points="1526.54,146 1542.84,136.5 1542.84,155.5" fill="#FF8000"/><polygon points="1543,130.4 1559.3,120.9 1559.3,139.9" fill="#FF8000"/><polygon points="1559.46,118.3 1575.76,108.8 1575.76,127.8" fill="#FF8000"/><polygon points="1575.92,107.8 1592.22,98.3 1592.22,117.3" fill="#FF8000"/><polygon points="1592.39,99.9 1608.69,90.4 1608.69,109.4" fill="#FF8000"/><polygon points="1608.85,94.3 1625.15,84.8 1625.15,103.8" fill="#FF8000"/><polygon points="1625.31,90.7 1641.61,81.2 1641.61,100.2" fill="#FF8000"/><polygon points="1641.77,85.8 1658.07,76.3 1658.07,95.3" fill="#FF8000"/><polygon points="1658.23,89.8 1674.53,80.3 1674.53,99.3" fill="#FF8000"/></g>
<g><polygon points="1025.57,499.6 1009.27,490.1 1009.27,509.1" fill="#FF0000"/><polygon points="1037.95,495.1 1021.65,485.6 1021.65,504.6" fill="#FF0000"/><polygon points="1054.41,489.4 1038.11,479.9 1038.11,498.9" fill="#FF0000"/><polygon points="1070.88,484.9 1054.58,475.4 1054.58,494.4" fill="#FF0000"/><polygon points="1087.34,483.2 1071.04,473.7 1071.04,492.7" fill="#FF0000"/><polygon points="1103.8,478.7 1087.5,469.2 1087.5,488.2" fill="#FF0000"/><polygon points="1120.26,470.8 1103.96,461.3 1103.96,480.3" fill="#FF0000"/><polygon points="1136.72,466.3 1120.42,456.8 1120.42,475.8" fill="#FF0000"/><polygon points="1153.19,455.6 1136.89,446.1 1136.89,465.1" fill="#FF0000"/><polygon points="1169.65,445.4 1153.35,435.9 1153.35,454.9" fill="#FF0000"/><polygon points="1186.11,434.1 1169.81,424.6 1169.81,443.6" fill="#FF0000"/><polygon points="1202.57,421.7 1186.27,412.2 1186.27,431.2" fill="#FF0000"/><polygon points="1219.03,410 1202.73,400.5 1202.73,419.5" fill="#FF0000"/><polygon points="1235.5,397 1219.2,387.5 1219.2,406.5" fill="#FF0000"/><polygon points="1251.96,383 1235.66,373.5 1235.66,392.5" fill="#FF0000"/><polygon points="1268.42,368.5 1252.12,359 1252.12,378" fill="#FF0000"/><polygon points="1284.88,351.5 1268.58,342 1268.58,361" fill="#FF0000"/><polygon points="1301.34,350 1285.04,340.5 1285.04,359.5" fill="#FF0000"/><polygon points="1317.8,341 1301.5,331.5 1301.5,350.5" fill="#FF0000"/><polygon points="1334.27,333.5 1317.97,324 1317.97,343" fill="#FF0000"/><polygon points="1350.73,325 1334.43,315.5 1334.43,334.5" fill="#FF0000"/><polygon points="1367.19,317 1350.89,307.5 1350.89,326.5" fill="#FF0000"/><polygon points="1383.65,309 1367.35,299.5 1367.35,318.5" fill="#FF0000"/><polygon points="1400.11,297 1383.81,287.5 1383.81,306.5" fill="#FF0000"/><polygon points="1416.58,283 1400.28,273.5 1400.28,292.5" fill="#FF0000"/><polygon points="1433.04,270.4 1416.74,260.9 1416.74,279.9" fill="#FF0000"/><polygon points="1449.5,258 1433.2,248.5 1433.2,267.5" fill="#FF0000"/><polygon points="1465.96,243.9 1449.66,234.4 1449.66,253.4" fill="#FF0000"/><polygon points="1482.42,236.6 1466.12,227.1 1466.12,246.1" fill="#FF0000"/><polygon points="1498.89,221.4 1482.59,211.9 1482.59,230.9" fill="#FF0000"/><polygon points="1515.35,205.6 1499.05,196.1 1499.05,215.1" fill="#FF0000"/><polygon points="1531.81,189.8 1515.51,180.3 1515.51,199.3" fill="#FF0000"/><polygon points="1548.27,175 1531.97,165.5 1531.97,184.5" fill="#FF0000"/><polygon points="1564.73,169.9 1548.43,160.4 1548.43,179.4" fill="#FF0000"/><polygon points="1581.2,161.2 1564.9,151.7 1564.9,170.7" fill="#FF0000"/><polygon points="1597.66,153.5 1581.36,144 1581.36,163" fill="#FF0000"/><polygon points="1614.12,147.3 1597.82,137.8 1597.82,156.8" fill="#FF0000"/><polygon points="1630.58,152.4 1614.28,142.9 1614.28,161.9" fill="#FF0000"/><polygon points="1647.04,142.2 1630.74,132.7 1630.74,151.7" fill="#FF0000"/><polygon points="1663.5,134.9 1647.2,125.4 1647.2,144.4" fill="#FF0000"/><polygon points="1679.97,153.3 1663.67,143.8 1663.67,162.8" fill="#FF0000"/></g>
<g><polygon points="1014.7,464.7 1023.54,471.13 1020.17,481.52 1009.23,481.52 1005.86,471.13" fill="#800080"/><polygon points="1027.09,464.9 1035.93,471.33 1032.55,481.72 1021.62,481.72 1018.24,471.33" fill="#800080"/><polygon points="1043.55,463.2 1052.39,469.63 1049.01,480.02 1038.08,480.02 1034.7,469.63" fill="#800080"/><polygon points="1060.01,458.1 1068.85,464.53 1065.48,474.92 1054.54,474.92 1051.16,464.53" fill="#800080"/><polygon points="1076.47,460.4 1085.32,466.83 1081.94,477.22 1071.01,477.22 1067.63,466.83" fill="#800080"/><polygon points="1092.93,453.6 1101.78,460.03 1098.4,470.42 1087.47,470.42 1084.09,460.03" fill="#800080"/><polygon points="1109.4,446.8 1118.24,453.23 1114.86,463.62 1103.93,463.62 1100.55,453.23" fill="#800080"/><polygon points="1125.86,441.2 1134.7,447.63 1131.32,458.02 1120.39,458.02 1117.01,447.63" fill="#800080"/><polygon points="1142.32,432.2 1151.16,438.63 1147.79,449.02 1136.85,449.02 1133.47,438.63" fill="#800080"/><polygon points="1158.78,425.4 1167.63,431.83 1164.25,442.22 1153.31,442.22 1149.94,431.83" fill="#800080"/><polygon points="1175.24,414.1 1184.09,420.53 1180.71,430.92 1169.78,430.92 1166.4,420.53" fill="#800080"/><polygon points="1191.7,403.4 1200.55,409.83 1197.17,420.22 1186.24,420.22 1182.86,409.83" fill="#800080"/><polygon points="1208.17,392.2 1217.01,398.63 1213.63,409.02 1202.7,409.02 1199.32,398.63" fill="#800080"/><polygon points="1224.63,379.8 1233.47,386.23 1230.1,396.62 1219.16,396.62 1215.78,386.23" fill="#800080"/><polygon points="1241.09,368.5 1249.94,374.93 1246.56,385.32 1235.62,385.32 1232.25,374.93" fill="#800080"/><polygon points="1257.55,354.4 1266.4,360.83 1263.02,371.22 1252.09,371.22 1248.71,360.83" fill="#800080"/><polygon points="1274.01,348.2 1282.86,354.63 1279.48,365.02 1268.55,365.02 1265.17,354.63" fill="#800080"/><polygon points="1290.48,333.5 1299.32,339.93 1295.94,350.32 1285.01,350.32 1281.63,339.93" fill="#800080"/><polygon points="1306.94,322.2 1315.78,328.63 1312.4,339.02 1301.47,339.02 1298.09,328.63" fill="#800080"/><polygon points="1323.4,313.2 1332.24,319.63 1328.87,330.02 1317.93,330.02 1314.56,319.63" fill="#800080"/><polygon points="1339.86,303.6 1348.71,310.03 1345.33,320.42 1334.4,320.42 1331.02,310.03" fill="#800080"/><polygon points="1356.32,296.8 1365.17,303.23 1361.79,313.62 1350.86,313.62 1347.48,303.23" fill="#800080"/><polygon points="1372.79,290.1 1381.63,296.53 1378.25,306.92 1367.32,306.92 1363.94,296.53" fill="#800080"/><polygon points="1389.25,287 1398.09,293.43 1394.71,303.82 1383.78,303.82 1380.4,293.43" fill="#800080"/><polygon points="1405.71,277.9 1414.55,284.33 1411.18,294.72 1400.24,294.72 1396.86,284.33" fill="#800080"/><polygon points="1422.17,270.2 1431.02,276.63 1427.64,287.02 1416.71,287.02 1413.33,276.63" fill="#800080"/><polygon points="1438.63,259.4 1447.48,265.83 1444.1,276.22 1433.17,276.22 1429.79,265.83" fill="#800080"/><polygon points="1455.1,241.4 1463.94,247.83 1460.56,258.22 1449.63,258.22 1446.25,247.83" fill="#800080"/><polygon points="1471.56,221.7 1480.4,228.13 1477.02,238.52 1466.09,238.52 1462.71,228.13" fill="#800080"/><polygon points="1488.02,202.8 1496.86,209.23 1493.49,219.62 1482.55,219.62 1479.17,209.23" fill="#800080"/><polygon points="1504.48,184.2 1513.33,190.63 1509.95,201.02 1499.01,201.02 1495.64,190.63" fill="#800080"/><polygon points="1520.94,165.8 1529.79,172.23 1526.41,182.62 1515.48,182.62 1512.1,172.23" fill="#800080"/><polygon points="1537.4,143.8 1546.25,150.23 1542.87,160.62 1531.94,160.62 1528.56,150.23" fill="#800080"/><polygon points="1553.87,134.1 1562.71,140.53 1559.33,150.92 1548.4,150.92 1545.02,140.53" fill="#800080"/><polygon points="1570.33,121.7 1579.17,128.13 1575.8,138.52 1564.86,138.52 1561.48,128.13" fill="#800080"/><polygon points="1586.79,109.3 1595.64,115.73 1592.26,126.12 1581.32,126.12 1577.95,115.73" fill="#800080"/><polygon points="1603.25,99.7 1612.1,106.13 1608.72,116.52 1597.79,116.52 1594.41,106.13" fill="#800080"/><polygon points="1619.71,103 1628.56,109.43 1625.18,119.82 1614.25,119.82 1610.87,109.43" fill="#800080"/><polygon points="1636.18,93.8 1645.02,100.23 1641.64,110.62 1630.71,110.62 1627.33,100.23" fill="#800080"/><polygon points="1652.64,84.4 1661.48,90.83 1658.1,101.22 1647.17,101.22 1643.79,90.83" fill="#800080"/><polygon points="1669.1,106.4 1677.94,112.83 1674.57,123.22 1663.63,123.22 1660.26,112.83" fill="#800080"/></g>
</g>
<rect x="1046.7" y="41.1" width="13.8" height="13.8" fill="#000"/>
<text x="0" y="0" font-family='"Liberation Serif", "DejaVu Serif", serif' font-weight="bold" font-size="31.2" text-anchor="start" fill="#000" transform="translate(1087.8 58.9) scale(0.975 1)" >Ep</text>
<circle cx="1158.3" cy="48.1" r="7.9" fill="#FF00FF"/>
<text x="0" y="0" font-family='"Liberation Serif", "DejaVu Serif", serif' font-weight="bold" font-size="31.2" text-anchor="start" fill="#000" transform="translate(1192.6 58.9) scale(0.975 1)" >A2</text>
<polygon points="1263.8,37.7 1273.2,53.9 1254.4,53.9" fill="#00FF00"/>
<text x="0" y="0" font-family='"Liberation Serif", "DejaVu Serif", serif' font-weight="bold" font-size="31.2" text-anchor="start" fill="#000" transform="translate(1298 58.9) scale(0.975 1)" >A4</text>
<polygon points="1368.8,58.8 1378.2,42.6 1359.4,42.6" fill="#0000FF"/>
<text x="0" y="0" font-family='"Liberation Serif", "DejaVu Serif", serif' font-weight="bold" font-size="31.2" text-anchor="start" fill="#000" transform="translate(1403 58.9) scale(0.975 1)" >A6</text>
<polygon points="1474,38.4 1483.6,48 1474,57.6 1464.4,48" fill="#008000"/>
<text x="0" y="0" font-family='"Liberation Serif", "DejaVu Serif", serif' font-weight="bold" font-size="31.2" text-anchor="start" fill="#000" transform="translate(1508 58.9) scale(0.975 1)" >A8</text>
<polygon points="1042.63,86.1 1058.93,76.6 1058.93,95.6" fill="#FF8000"/>
<text x="0" y="0" font-family='"Liberation Serif", "DejaVu Serif", serif' font-weight="bold" font-size="31.2" text-anchor="start" fill="#000" transform="translate(1087.2 97.1) scale(0.975 1)" >A10</text>
<polygon points="1184.47,86.3 1168.17,76.8 1168.17,95.8" fill="#FF0000"/>
<text x="0" y="0" font-family='"Liberation Serif", "DejaVu Serif", serif' font-weight="bold" font-size="31.2" text-anchor="start" fill="#000" transform="translate(1207.6 97.1) scale(0.975 1)" >A6+B2</text>
<polygon points="1331.8,77.3 1340.36,83.52 1337.09,93.58 1326.51,93.58 1323.24,83.52" fill="#800080"/>
<text x="0" y="0" font-family='"Liberation Serif", "DejaVu Serif", serif' font-weight="bold" font-size="31.2" text-anchor="start" fill="#000" transform="translate(1365.3 97.1) scale(0.975 1)" >A6+B4</text>
</g>
<g id="panel-c">
<clipPath id="clipC"><rect x="136.15" y="708.3" width="654.65" height="529.1"/></clipPath>
<path d="M136.15 1134.4 H213.4" fill="none" stroke="#7030A0" stroke-width="2" stroke-dasharray="8.4 6.5" stroke-dashoffset="7.75"/>
<path d="M213.4 1134.4 V1200.9" fill="none" stroke="#7030A0" stroke-width="2" stroke-dasharray="8.3 7" stroke-dashoffset="12.1"/>
<path d="M214.3 1200 H136.15" fill="none" stroke="#7030A0" stroke-width="2" stroke-dasharray="8.4 6.5" stroke-dashoffset="3.9"/>
<line x1="136.15" y1="1237.4" x2="127.35" y2="1237.4" stroke="#000" stroke-width="4.6" stroke-linecap="round" />
<line x1="136.15" y1="1217.49" x2="131.65" y2="1217.49" stroke="#000" stroke-width="4.6" stroke-linecap="round" />
<line x1="136.15" y1="1205.84" x2="131.65" y2="1205.84" stroke="#000" stroke-width="4.6" stroke-linecap="round" />
<line x1="136.15" y1="1197.58" x2="131.65" y2="1197.58" stroke="#000" stroke-width="4.6" stroke-linecap="round" />
<line x1="136.15" y1="1191.17" x2="131.65" y2="1191.17" stroke="#000" stroke-width="4.6" stroke-linecap="round" />
<line x1="136.15" y1="1185.94" x2="131.65" y2="1185.94" stroke="#000" stroke-width="4.6" stroke-linecap="round" />
<line x1="136.15" y1="1181.51" x2="131.65" y2="1181.51" stroke="#000" stroke-width="4.6" stroke-linecap="round" />
<line x1="136.15" y1="1177.67" x2="131.65" y2="1177.67" stroke="#000" stroke-width="4.6" stroke-linecap="round" />
<line x1="136.15" y1="1174.29" x2="131.65" y2="1174.29" stroke="#000" stroke-width="4.6" stroke-linecap="round" />
<line x1="136.15" y1="1171.26" x2="127.35" y2="1171.26" stroke="#000" stroke-width="4.6" stroke-linecap="round" />
<line x1="136.15" y1="1151.35" x2="131.65" y2="1151.35" stroke="#000" stroke-width="4.6" stroke-linecap="round" />
<line x1="136.15" y1="1139.71" x2="131.65" y2="1139.71" stroke="#000" stroke-width="4.6" stroke-linecap="round" />
<line x1="136.15" y1="1131.44" x2="131.65" y2="1131.44" stroke="#000" stroke-width="4.6" stroke-linecap="round" />
<line x1="136.15" y1="1125.03" x2="131.65" y2="1125.03" stroke="#000" stroke-width="4.6" stroke-linecap="round" />
<line x1="136.15" y1="1119.8" x2="131.65" y2="1119.8" stroke="#000" stroke-width="4.6" stroke-linecap="round" />
<line x1="136.15" y1="1115.37" x2="131.65" y2="1115.37" stroke="#000" stroke-width="4.6" stroke-linecap="round" />
<line x1="136.15" y1="1111.53" x2="131.65" y2="1111.53" stroke="#000" stroke-width="4.6" stroke-linecap="round" />
<line x1="136.15" y1="1108.15" x2="131.65" y2="1108.15" stroke="#000" stroke-width="4.6" stroke-linecap="round" />
<line x1="136.15" y1="1105.12" x2="127.35" y2="1105.12" stroke="#000" stroke-width="4.6" stroke-linecap="round" />
<line x1="136.15" y1="1085.22" x2="131.65" y2="1085.22" stroke="#000" stroke-width="4.6" stroke-linecap="round" />
<line x1="136.15" y1="1073.57" x2="131.65" y2="1073.57" stroke="#000" stroke-width="4.6" stroke-linecap="round" />
<line x1="136.15" y1="1065.31" x2="131.65" y2="1065.31" stroke="#000" stroke-width="4.6" stroke-linecap="round" />
<line x1="136.15" y1="1058.9" x2="131.65" y2="1058.9" stroke="#000" stroke-width="4.6" stroke-linecap="round" />
<line x1="136.15" y1="1053.66" x2="131.65" y2="1053.66" stroke="#000" stroke-width="4.6" stroke-linecap="round" />
<line x1="136.15" y1="1049.23" x2="131.65" y2="1049.23" stroke="#000" stroke-width="4.6" stroke-linecap="round" />
<line x1="136.15" y1="1045.4" x2="131.65" y2="1045.4" stroke="#000" stroke-width="4.6" stroke-linecap="round" />
<line x1="136.15" y1="1042.01" x2="131.65" y2="1042.01" stroke="#000" stroke-width="4.6" stroke-linecap="round" />
<line x1="136.15" y1="1038.99" x2="127.35" y2="1038.99" stroke="#000" stroke-width="4.6" stroke-linecap="round" />
<line x1="136.15" y1="1019.08" x2="131.65" y2="1019.08" stroke="#000" stroke-width="4.6" stroke-linecap="round" />
<line x1="136.15" y1="1007.43" x2="131.65" y2="1007.43" stroke="#000" stroke-width="4.6" stroke-linecap="round" />
<line x1="136.15" y1="999.17" x2="131.65" y2="999.17" stroke="#000" stroke-width="4.6" stroke-linecap="round" />
<line x1="136.15" y1="992.76" x2="131.65" y2="992.76" stroke="#000" stroke-width="4.6" stroke-linecap="round" />
<line x1="136.15" y1="987.52" x2="131.65" y2="987.52" stroke="#000" stroke-width="4.6" stroke-linecap="round" />
<line x1="136.15" y1="983.09" x2="131.65" y2="983.09" stroke="#000" stroke-width="4.6" stroke-linecap="round" />
<line x1="136.15" y1="979.26" x2="131.65" y2="979.26" stroke="#000" stroke-width="4.6" stroke-linecap="round" />
<line x1="136.15" y1="975.88" x2="131.65" y2="975.88" stroke="#000" stroke-width="4.6" stroke-linecap="round" />
<line x1="136.15" y1="972.85" x2="127.35" y2="972.85" stroke="#000" stroke-width="4.6" stroke-linecap="round" />
<line x1="136.15" y1="952.94" x2="131.65" y2="952.94" stroke="#000" stroke-width="4.6" stroke-linecap="round" />
<line x1="136.15" y1="941.29" x2="131.65" y2="941.29" stroke="#000" stroke-width="4.6" stroke-linecap="round" />
<line x1="136.15" y1="933.03" x2="131.65" y2="933.03" stroke="#000" stroke-width="4.6" stroke-linecap="round" />
<line x1="136.15" y1="926.62" x2="131.65" y2="926.62" stroke="#000" stroke-width="4.6" stroke-linecap="round" />
<line x1="136.15" y1="921.39" x2="131.65" y2="921.39" stroke="#000" stroke-width="4.6" stroke-linecap="round" />
<line x1="136.15" y1="916.96" x2="131.65" y2="916.96" stroke="#000" stroke-width="4.6" stroke-linecap="round" />
<line x1="136.15" y1="913.12" x2="131.65" y2="913.12" stroke="#000" stroke-width="4.6" stroke-linecap="round" />
<line x1="136.15" y1="909.74" x2="131.65" y2="909.74" stroke="#000" stroke-width="4.6" stroke-linecap="round" />
<line x1="136.15" y1="906.71" x2="127.35" y2="906.71" stroke="#000" stroke-width="4.6" stroke-linecap="round" />
<line x1="136.15" y1="886.8" x2="131.65" y2="886.8" stroke="#000" stroke-width="4.6" stroke-linecap="round" />
<line x1="136.15" y1="875.16" x2="131.65" y2="875.16" stroke="#000" stroke-width="4.6" stroke-linecap="round" />
<line x1="136.15" y1="866.89" x2="131.65" y2="866.89" stroke="#000" stroke-width="4.6" stroke-linecap="round" />
<line x1="136.15" y1="860.48" x2="131.65" y2="860.48" stroke="#000" stroke-width="4.6" stroke-linecap="round" />
<line x1="136.15" y1="855.25" x2="131.65" y2="855.25" stroke="#000" stroke-width="4.6" stroke-linecap="round" />
<line x1="136.15" y1="850.82" x2="131.65" y2="850.82" stroke="#000" stroke-width="4.6" stroke-linecap="round" />
<line x1="136.15" y1="846.98" x2="131.65" y2="846.98" stroke="#000" stroke-width="4.6" stroke-linecap="round" />
<line x1="136.15" y1="843.6" x2="131.65" y2="843.6" stroke="#000" stroke-width="4.6" stroke-linecap="round" />
<line x1="136.15" y1="840.58" x2="127.35" y2="840.58" stroke="#000" stroke-width="4.6" stroke-linecap="round" />
<line x1="136.15" y1="820.67" x2="131.65" y2="820.67" stroke="#000" stroke-width="4.6" stroke-linecap="round" />
<line x1="136.15" y1="809.02" x2="131.65" y2="809.02" stroke="#000" stroke-width="4.6" stroke-linecap="round" />
<line x1="136.15" y1="800.76" x2="131.65" y2="800.76" stroke="#000" stroke-width="4.6" stroke-linecap="round" />
<line x1="136.15" y1="794.35" x2="131.65" y2="794.35" stroke="#000" stroke-width="4.6" stroke-linecap="round" />
<line x1="136.15" y1="789.11" x2="131.65" y2="789.11" stroke="#000" stroke-width="4.6" stroke-linecap="round" />
<line x1="136.15" y1="784.68" x2="131.65" y2="784.68" stroke="#000" stroke-width="4.6" stroke-linecap="round" />
<line x1="136.15" y1="780.85" x2="131.65" y2="780.85" stroke="#000" stroke-width="4.6" stroke-linecap="round" />
<line x1="136.15" y1="777.46" x2="131.65" y2="777.46" stroke="#000" stroke-width="4.6" stroke-linecap="round" />
<line x1="136.15" y1="774.44" x2="127.35" y2="774.44" stroke="#000" stroke-width="4.6" stroke-linecap="round" />
<line x1="136.15" y1="754.53" x2="131.65" y2="754.53" stroke="#000" stroke-width="4.6" stroke-linecap="round" />
<line x1="136.15" y1="742.88" x2="131.65" y2="742.88" stroke="#000" stroke-width="4.6" stroke-linecap="round" />
<line x1="136.15" y1="734.62" x2="131.65" y2="734.62" stroke="#000" stroke-width="4.6" stroke-linecap="round" />
<line x1="136.15" y1="728.21" x2="131.65" y2="728.21" stroke="#000" stroke-width="4.6" stroke-linecap="round" />
<line x1="136.15" y1="722.97" x2="131.65" y2="722.97" stroke="#000" stroke-width="4.6" stroke-linecap="round" />
<line x1="136.15" y1="718.54" x2="131.65" y2="718.54" stroke="#000" stroke-width="4.6" stroke-linecap="round" />
<line x1="136.15" y1="714.71" x2="131.65" y2="714.71" stroke="#000" stroke-width="4.6" stroke-linecap="round" />
<line x1="136.15" y1="711.33" x2="131.65" y2="711.33" stroke="#000" stroke-width="4.6" stroke-linecap="round" />
<line x1="136.15" y1="708.3" x2="127.35" y2="708.3" stroke="#000" stroke-width="4.6" stroke-linecap="round" />
<line x1="136.15" y1="1237.4" x2="136.15" y2="1246" stroke="#000" stroke-width="4.6" stroke-linecap="round" />
<line x1="164.3" y1="1237.4" x2="164.3" y2="1241.6" stroke="#000" stroke-width="4.4" stroke-linecap="round" />
<line x1="180.77" y1="1237.4" x2="180.77" y2="1241.6" stroke="#000" stroke-width="4.4" stroke-linecap="round" />
<line x1="192.45" y1="1237.4" x2="192.45" y2="1241.6" stroke="#000" stroke-width="4.4" stroke-linecap="round" />
<line x1="201.52" y1="1237.4" x2="201.52" y2="1241.6" stroke="#000" stroke-width="4.4" stroke-linecap="round" />
<line x1="208.92" y1="1237.4" x2="208.92" y2="1241.6" stroke="#000" stroke-width="4.4" stroke-linecap="round" />
<line x1="215.18" y1="1237.4" x2="215.18" y2="1241.6" stroke="#000" stroke-width="4.4" stroke-linecap="round" />
<line x1="220.61" y1="1237.4" x2="220.61" y2="1241.6" stroke="#000" stroke-width="4.4" stroke-linecap="round" />
<line x1="225.39" y1="1237.4" x2="225.39" y2="1241.6" stroke="#000" stroke-width="4.4" stroke-linecap="round" />
<line x1="229.67" y1="1237.4" x2="229.67" y2="1246" stroke="#000" stroke-width="4.6" stroke-linecap="round" />
<line x1="257.82" y1="1237.4" x2="257.82" y2="1241.6" stroke="#000" stroke-width="4.4" stroke-linecap="round" />
<line x1="274.29" y1="1237.4" x2="274.29" y2="1241.6" stroke="#000" stroke-width="4.4" stroke-linecap="round" />
<line x1="285.97" y1="1237.4" x2="285.97" y2="1241.6" stroke="#000" stroke-width="4.4" stroke-linecap="round" />
<line x1="295.04" y1="1237.4" x2="295.04" y2="1241.6" stroke="#000" stroke-width="4.4" stroke-linecap="round" />
<line x1="302.44" y1="1237.4" x2="302.44" y2="1241.6" stroke="#000" stroke-width="4.4" stroke-linecap="round" />
<line x1="308.7" y1="1237.4" x2="308.7" y2="1241.6" stroke="#000" stroke-width="4.4" stroke-linecap="round" />
<line x1="314.13" y1="1237.4" x2="314.13" y2="1241.6" stroke="#000" stroke-width="4.4" stroke-linecap="round" />
<line x1="318.91" y1="1237.4" x2="318.91" y2="1241.6" stroke="#000" stroke-width="4.4" stroke-linecap="round" />
<line x1="323.19" y1="1237.4" x2="323.19" y2="1246" stroke="#000" stroke-width="4.6" stroke-linecap="round" />
<line x1="351.34" y1="1237.4" x2="351.34" y2="1241.6" stroke="#000" stroke-width="4.4" stroke-linecap="round" />
<line x1="367.81" y1="1237.4" x2="367.81" y2="1241.6" stroke="#000" stroke-width="4.4" stroke-linecap="round" />
<line x1="379.49" y1="1237.4" x2="379.49" y2="1241.6" stroke="#000" stroke-width="4.4" stroke-linecap="round" />
<line x1="388.56" y1="1237.4" x2="388.56" y2="1241.6" stroke="#000" stroke-width="4.4" stroke-linecap="round" />
<line x1="395.96" y1="1237.4" x2="395.96" y2="1241.6" stroke="#000" stroke-width="4.4" stroke-linecap="round" />
<line x1="402.22" y1="1237.4" x2="402.22" y2="1241.6" stroke="#000" stroke-width="4.4" stroke-linecap="round" />
<line x1="407.65" y1="1237.4" x2="407.65" y2="1241.6" stroke="#000" stroke-width="4.4" stroke-linecap="round" />
<line x1="412.43" y1="1237.4" x2="412.43" y2="1241.6" stroke="#000" stroke-width="4.4" stroke-linecap="round" />
<line x1="416.71" y1="1237.4" x2="416.71" y2="1246" stroke="#000" stroke-width="4.6" stroke-linecap="round" />
<line x1="444.86" y1="1237.4" x2="444.86" y2="1241.6" stroke="#000" stroke-width="4.4" stroke-linecap="round" />
<line x1="461.33" y1="1237.4" x2="461.33" y2="1241.6" stroke="#000" stroke-width="4.4" stroke-linecap="round" />
<line x1="473.01" y1="1237.4" x2="473.01" y2="1241.6" stroke="#000" stroke-width="4.4" stroke-linecap="round" />
<line x1="482.08" y1="1237.4" x2="482.08" y2="1241.6" stroke="#000" stroke-width="4.4" stroke-linecap="round" />
<line x1="489.48" y1="1237.4" x2="489.48" y2="1241.6" stroke="#000" stroke-width="4.4" stroke-linecap="round" />
<line x1="495.74" y1="1237.4" x2="495.74" y2="1241.6" stroke="#000" stroke-width="4.4" stroke-linecap="round" />
<line x1="501.17" y1="1237.4" x2="501.17" y2="1241.6" stroke="#000" stroke-width="4.4" stroke-linecap="round" />
<line x1="505.95" y1="1237.4" x2="505.95" y2="1241.6" stroke="#000" stroke-width="4.4" stroke-linecap="round" />
<line x1="510.23" y1="1237.4" x2="510.23" y2="1246" stroke="#000" stroke-width="4.6" stroke-linecap="round" />
<line x1="538.38" y1="1237.4" x2="538.38" y2="1241.6" stroke="#000" stroke-width="4.4" stroke-linecap="round" />
<line x1="554.85" y1="1237.4" x2="554.85" y2="1241.6" stroke="#000" stroke-width="4.4" stroke-linecap="round" />
<line x1="566.53" y1="1237.4" x2="566.53" y2="1241.6" stroke="#000" stroke-width="4.4" stroke-linecap="round" />
<line x1="575.6" y1="1237.4" x2="575.6" y2="1241.6" stroke="#000" stroke-width="4.4" stroke-linecap="round" />
<line x1="583" y1="1237.4" x2="583" y2="1241.6" stroke="#000" stroke-width="4.4" stroke-linecap="round" />
<line x1="589.26" y1="1237.4" x2="589.26" y2="1241.6" stroke="#000" stroke-width="4.4" stroke-linecap="round" />
<line x1="594.69" y1="1237.4" x2="594.69" y2="1241.6" stroke="#000" stroke-width="4.4" stroke-linecap="round" />
<line x1="599.47" y1="1237.4" x2="599.47" y2="1241.6" stroke="#000" stroke-width="4.4" stroke-linecap="round" />
<line x1="603.75" y1="1237.4" x2="603.75" y2="1246" stroke="#000" stroke-width="4.6" stroke-linecap="round" />
<line x1="631.9" y1="1237.4" x2="631.9" y2="1241.6" stroke="#000" stroke-width="4.4" stroke-linecap="round" />
<line x1="648.37" y1="1237.4" x2="648.37" y2="1241.6" stroke="#000" stroke-width="4.4" stroke-linecap="round" />
<line x1="660.05" y1="1237.4" x2="660.05" y2="1241.6" stroke="#000" stroke-width="4.4" stroke-linecap="round" />
<line x1="669.12" y1="1237.4" x2="669.12" y2="1241.6" stroke="#000" stroke-width="4.4" stroke-linecap="round" />
<line x1="676.52" y1="1237.4" x2="676.52" y2="1241.6" stroke="#000" stroke-width="4.4" stroke-linecap="round" />
<line x1="682.78" y1="1237.4" x2="682.78" y2="1241.6" stroke="#000" stroke-width="4.4" stroke-linecap="round" />
<line x1="688.21" y1="1237.4" x2="688.21" y2="1241.6" stroke="#000" stroke-width="4.4" stroke-linecap="round" />
<line x1="692.99" y1="1237.4" x2="692.99" y2="1241.6" stroke="#000" stroke-width="4.4" stroke-linecap="round" />
<line x1="697.27" y1="1237.4" x2="697.27" y2="1246" stroke="#000" stroke-width="4.6" stroke-linecap="round" />
<line x1="725.42" y1="1237.4" x2="725.42" y2="1241.6" stroke="#000" stroke-width="4.4" stroke-linecap="round" />
<line x1="741.89" y1="1237.4" x2="741.89" y2="1241.6" stroke="#000" stroke-width="4.4" stroke-linecap="round" />
<line x1="753.57" y1="1237.4" x2="753.57" y2="1241.6" stroke="#000" stroke-width="4.4" stroke-linecap="round" />
<line x1="762.64" y1="1237.4" x2="762.64" y2="1241.6" stroke="#000" stroke-width="4.4" stroke-linecap="round" />
<line x1="770.04" y1="1237.4" x2="770.04" y2="1241.6" stroke="#000" stroke-width="4.4" stroke-linecap="round" />
<line x1="776.3" y1="1237.4" x2="776.3" y2="1241.6" stroke="#000" stroke-width="4.4" stroke-linecap="round" />
<line x1="781.73" y1="1237.4" x2="781.73" y2="1241.6" stroke="#000" stroke-width="4.4" stroke-linecap="round" />
<line x1="786.51" y1="1237.4" x2="786.51" y2="1241.6" stroke="#000" stroke-width="4.4" stroke-linecap="round" />
<line x1="790.79" y1="1237.4" x2="790.79" y2="1246" stroke="#000" stroke-width="4.6" stroke-linecap="round" />
<text x="0" y="0" font-family='"Liberation Sans", "DejaVu Sans", sans-serif' font-weight="bold" font-size="34" text-anchor="start" fill="#000" transform="translate(55.53 1249.1) scale(0.97 1)"  stroke="#000" stroke-width="0.35" stroke-linejoin="round">10</text>
<text x="0" y="0" font-family='"Liberation Sans", "DejaVu Sans", sans-serif' font-weight="bold" font-size="19.3" text-anchor="start" fill="#000" transform="translate(93.71 1232.9) scale(0.95 1)" stroke="#000" stroke-width="0.15">-16</text>
<text x="0" y="0" font-family='"Liberation Sans", "DejaVu Sans", sans-serif' font-weight="bold" font-size="34" text-anchor="start" fill="#000" transform="translate(55.53 1182.96) scale(0.97 1)"  stroke="#000" stroke-width="0.35" stroke-linejoin="round">10</text>
<text x="0" y="0" font-family='"Liberation Sans", "DejaVu Sans", sans-serif' font-weight="bold" font-size="19.3" text-anchor="start" fill="#000" transform="translate(93.71 1166.76) scale(0.95 1)" stroke="#000" stroke-width="0.15">-15</text>
<text x="0" y="0" font-family='"Liberation Sans", "DejaVu Sans", sans-serif' font-weight="bold" font-size="34" text-anchor="start" fill="#000" transform="translate(55.53 1116.83) scale(0.97 1)"  stroke="#000" stroke-width="0.35" stroke-linejoin="round">10</text>
<text x="0" y="0" font-family='"Liberation Sans", "DejaVu Sans", sans-serif' font-weight="bold" font-size="19.3" text-anchor="start" fill="#000" transform="translate(93.71 1100.62) scale(0.95 1)" stroke="#000" stroke-width="0.15">-14</text>
<text x="0" y="0" font-family='"Liberation Sans", "DejaVu Sans", sans-serif' font-weight="bold" font-size="34" text-anchor="start" fill="#000" transform="translate(55.53 1050.69) scale(0.97 1)"  stroke="#000" stroke-width="0.35" stroke-linejoin="round">10</text>
<text x="0" y="0" font-family='"Liberation Sans", "DejaVu Sans", sans-serif' font-weight="bold" font-size="19.3" text-anchor="start" fill="#000" transform="translate(93.71 1034.49) scale(0.95 1)" stroke="#000" stroke-width="0.15">-13</text>
<text x="0" y="0" font-family='"Liberation Sans", "DejaVu Sans", sans-serif' font-weight="bold" font-size="34" text-anchor="start" fill="#000" transform="translate(55.53 984.55) scale(0.97 1)"  stroke="#000" stroke-width="0.35" stroke-linejoin="round">10</text>
<text x="0" y="0" font-family='"Liberation Sans", "DejaVu Sans", sans-serif' font-weight="bold" font-size="19.3" text-anchor="start" fill="#000" transform="translate(93.71 968.35) scale(0.95 1)" stroke="#000" stroke-width="0.15">-12</text>
<text x="0" y="0" font-family='"Liberation Sans", "DejaVu Sans", sans-serif' font-weight="bold" font-size="34" text-anchor="start" fill="#000" transform="translate(55.53 918.41) scale(0.97 1)"  stroke="#000" stroke-width="0.35" stroke-linejoin="round">10</text>
<text x="0" y="0" font-family='"Liberation Sans", "DejaVu Sans", sans-serif' font-weight="bold" font-size="19.3" text-anchor="start" fill="#000" transform="translate(93.71 902.21) scale(0.95 1)" stroke="#000" stroke-width="0.15">-11</text>
<text x="0" y="0" font-family='"Liberation Sans", "DejaVu Sans", sans-serif' font-weight="bold" font-size="34" text-anchor="start" fill="#000" transform="translate(55.53 852.28) scale(0.97 1)"  stroke="#000" stroke-width="0.35" stroke-linejoin="round">10</text>
<text x="0" y="0" font-family='"Liberation Sans", "DejaVu Sans", sans-serif' font-weight="bold" font-size="19.3" text-anchor="start" fill="#000" transform="translate(93.71 836.08) scale(0.95 1)" stroke="#000" stroke-width="0.15">-10</text>
<text x="0" y="0" font-family='"Liberation Sans", "DejaVu Sans", sans-serif' font-weight="bold" font-size="34" text-anchor="start" fill="#000" transform="translate(65.73 786.14) scale(0.97 1)"  stroke="#000" stroke-width="0.35" stroke-linejoin="round">10</text>
<text x="0" y="0" font-family='"Liberation Sans", "DejaVu Sans", sans-serif' font-weight="bold" font-size="19.3" text-anchor="start" fill="#000" transform="translate(103.9 769.94) scale(0.95 1)" stroke="#000" stroke-width="0.15">-9</text>
<text x="0" y="0" font-family='"Liberation Sans", "DejaVu Sans", sans-serif' font-weight="bold" font-size="34" text-anchor="start" fill="#000" transform="translate(65.73 720) scale(0.97 1)"  stroke="#000" stroke-width="0.35" stroke-linejoin="round">10</text>
<text x="0" y="0" font-family='"Liberation Sans", "DejaVu Sans", sans-serif' font-weight="bold" font-size="19.3" text-anchor="start" fill="#000" transform="translate(103.9 703.8) scale(0.95 1)" stroke="#000" stroke-width="0.15">-8</text>
<text x="0" y="0" font-family='"Liberation Sans", "DejaVu Sans", sans-serif' font-weight="bold" font-size="34.3" text-anchor="start" fill="#000" transform="translate(110.18 1283.1) scale(0.925 1)"  stroke="#000" stroke-width="0.35" stroke-linejoin="round">10</text>
<text x="0" y="0" font-family='"Liberation Sans", "DejaVu Sans", sans-serif' font-weight="bold" font-size="19.5" text-anchor="start" fill="#000" transform="translate(146.46 1267.1) scale(0.88 1)" stroke="#000" stroke-width="0.15">-1</text>
<text x="0" y="0" font-family='"Liberation Sans", "DejaVu Sans", sans-serif' font-weight="bold" font-size="34.3" text-anchor="start" fill="#000" transform="translate(206.56 1283.1) scale(0.925 1)"  stroke="#000" stroke-width="0.35" stroke-linejoin="round">10</text>
<text x="0" y="0" font-family='"Liberation Sans", "DejaVu Sans", sans-serif' font-weight="bold" font-size="19.5" text-anchor="start" fill="#000" transform="translate(242.84 1267.1) scale(0.88 1)" stroke="#000" stroke-width="0.15">0</text>
<text x="0" y="0" font-family='"Liberation Sans", "DejaVu Sans", sans-serif' font-weight="bold" font-size="34.3" text-anchor="start" fill="#000" transform="translate(300.08 1283.1) scale(0.925 1)"  stroke="#000" stroke-width="0.35" stroke-linejoin="round">10</text>
<text x="0" y="0" font-family='"Liberation Sans", "DejaVu Sans", sans-serif' font-weight="bold" font-size="19.5" text-anchor="start" fill="#000" transform="translate(336.36 1267.1) scale(0.88 1)" stroke="#000" stroke-width="0.15">1</text>
<text x="0" y="0" font-family='"Liberation Sans", "DejaVu Sans", sans-serif' font-weight="bold" font-size="34.3" text-anchor="start" fill="#000" transform="translate(393.6 1283.1) scale(0.925 1)"  stroke="#000" stroke-width="0.35" stroke-linejoin="round">10</text>
<text x="0" y="0" font-family='"Liberation Sans", "DejaVu Sans", sans-serif' font-weight="bold" font-size="19.5" text-anchor="start" fill="#000" transform="translate(429.88 1267.1) scale(0.88 1)" stroke="#000" stroke-width="0.15">2</text>
<text x="0" y="0" font-family='"Liberation Sans", "DejaVu Sans", sans-serif' font-weight="bold" font-size="34.3" text-anchor="start" fill="#000" transform="translate(487.12 1283.1) scale(0.925 1)"  stroke="#000" stroke-width="0.35" stroke-linejoin="round">10</text>
<text x="0" y="0" font-family='"Liberation Sans", "DejaVu Sans", sans-serif' font-weight="bold" font-size="19.5" text-anchor="start" fill="#000" transform="translate(523.4 1267.1) scale(0.88 1)" stroke="#000" stroke-width="0.15">3</text>
<text x="0" y="0" font-family='"Liberation Sans", "DejaVu Sans", sans-serif' font-weight="bold" font-size="34.3" text-anchor="start" fill="#000" transform="translate(580.64 1283.1) scale(0.925 1)"  stroke="#000" stroke-width="0.35" stroke-linejoin="round">10</text>
<text x="0" y="0" font-family='"Liberation Sans", "DejaVu Sans", sans-serif' font-weight="bold" font-size="19.5" text-anchor="start" fill="#000" transform="translate(616.92 1267.1) scale(0.88 1)" stroke="#000" stroke-width="0.15">4</text>
<text x="0" y="0" font-family='"Liberation Sans", "DejaVu Sans", sans-serif' font-weight="bold" font-size="34.3" text-anchor="start" fill="#000" transform="translate(674.16 1283.1) scale(0.925 1)"  stroke="#000" stroke-width="0.35" stroke-linejoin="round">10</text>
<text x="0" y="0" font-family='"Liberation Sans", "DejaVu Sans", sans-serif' font-weight="bold" font-size="19.5" text-anchor="start" fill="#000" transform="translate(710.44 1267.1) scale(0.88 1)" stroke="#000" stroke-width="0.15">5</text>
<text x="0" y="0" font-family='"Liberation Sans", "DejaVu Sans", sans-serif' font-weight="bold" font-size="34.3" text-anchor="start" fill="#000" transform="translate(767.68 1283.1) scale(0.925 1)"  stroke="#000" stroke-width="0.35" stroke-linejoin="round">10</text>
<text x="0" y="0" font-family='"Liberation Sans", "DejaVu Sans", sans-serif' font-weight="bold" font-size="19.5" text-anchor="start" fill="#000" transform="translate(803.96 1267.1) scale(0.88 1)" stroke="#000" stroke-width="0.15">6</text>
<text x="463.5" y="1328.8" font-family='"Liberation Serif", "DejaVu Serif", serif' font-weight="bold" font-size="38.4" text-anchor="middle" fill="#000" letter-spacing="0.2" >Frequency (Hz)</text>
<text x="0" y="0" font-family='"Liberation Serif", "DejaVu Serif", serif' font-weight="bold" font-size="36.8" text-anchor="middle" fill="#000" transform="translate(41.8 996.8) rotate(-90) scale(1.035 1)" stroke="#000" stroke-width="0.5">Electrical conductivity (S/cm)</text>
<text x="11.9" y="717.4" font-family='"Liberation Serif", "DejaVu Serif", serif' font-weight="bold" font-size="45" text-anchor="start" fill="#000" >c</text>
<rect x="136.15" y="708.3" width="654.65" height="529.1" fill="none" stroke="#000" stroke-width="4.8" stroke-linejoin="round"/>
<g clip-path="url(#clipC)">
<path d="M136.15 1184.25 L137.32 1183.31 L138.48 1182.37 L139.65 1181.43 L140.82 1180.49 L141.98 1179.55 L143.15 1178.62 L144.32 1177.68 L145.48 1176.74 L146.65 1175.81 L147.82 1174.87 L148.99 1173.93 L150.15 1173 L151.32 1172.06 L152.49 1171.13 L153.65 1170.19 L154.82 1169.26 L155.99 1168.32 L157.15 1167.38 L158.32 1166.45 L159.49 1165.51 L160.65 1164.57 L161.82 1163.64 L162.99 1162.7 L164.15 1161.76 L165.32 1160.82 L166.49 1159.88 L167.66 1158.94 L168.82 1157.99 L169.99 1157.05 L171.16 1156.1 L172.32 1155.16 L173.49 1154.21 L174.66 1153.26 L175.82 1152.31 L176.99 1151.36 L178.16 1150.41 L179.32 1149.46 L180.49 1148.5 L181.66 1147.54 L182.82 1146.58 L183.99 1145.62 L185.16 1144.66 L186.32 1143.69 L187.49 1142.72 L188.66 1141.75 L189.83 1140.78 L190.99 1139.81 L192.16 1138.84 L193.33 1137.86 L194.49 1136.88 L195.66 1135.9 L196.83 1134.92 L197.99 1133.94 L199.16 1132.96 L200.33 1131.97 L201.49 1130.98 L202.66 1130 L203.83 1129.01 L204.99 1128.02 L206.16 1127.03 L207.33 1126.04 L208.49 1125.05 L209.66 1124.06 L210.83 1123.07 L212 1122.07 L213.16 1121.08 L214.33 1120.09 L215.5 1119.09 L216.66 1118.1 L217.83 1117.1 L219 1116.11 L220.16 1115.11 L221.33 1114.12 L222.5 1113.12 L223.66 1112.13 L224.83 1111.13 L226 1110.14 L227.16 1109.15 L228.33 1108.15 L229.5 1107.16 L230.67 1106.17 L231.83 1105.18 L233 1104.19 L234.17 1103.2 L235.33 1102.21 L236.5 1101.22 L237.67 1100.23 L238.83 1099.25 L240 1098.26 L241.5 1097 L245.23 1093.86 L248.96 1090.73 L252.69 1087.59 L256.42 1084.46 L260.15 1081.33 L263.88 1078.21 L267.61 1075.08 L271.34 1071.96 L275.07 1068.83 L278.8 1065.71 L282.53 1062.58 L286.26 1059.46 L289.99 1056.34 L293.72 1053.22 L297.45 1050.1 L301.18 1046.99 L304.91 1043.87 L308.64 1040.76 L312.37 1037.63 L316.1 1034.49 L319.83 1031.34 L323.56 1028.18 L327.29 1025.03 L331.03 1021.89 L334.76 1018.76 L338.49 1015.66 L342.22 1012.58 L345.95 1009.54 L349.68 1006.54 L353.41 1003.59 L357.14 1000.68 L360.87 997.79 L364.6 994.93 L368.33 992.1 L372.06 989.29 L375.79 986.5 L379.52 983.73 L383.25 980.97 L386.98 978.22 L390.71 975.48 L394.44 972.75 L398.17 970.02 L401.9 967.29 L405.63 964.56 L409.36 961.83 L413.09 959.09 L416.82 956.34 L420.55 953.59 L424.28 950.85 L428.01 948.11 L431.74 945.38 L435.47 942.65 L439.2 939.92 L442.93 937.2 L446.66 934.47 L450.39 931.76 L454.12 929.05 L457.85 926.35 L461.58 923.65 L465.31 920.95 L469.04 918.25 L472.77 915.54 L476.5 912.82 L480.23 910.09 L483.96 907.35 L487.69 904.59 L491.42 901.81 L495.15 899.02 L498.88 896.21 L502.62 893.4 L506.35 890.57 L510.08 887.73 L513.81 884.89 L517.54 882.03 L521.27 879.17 L525 876.31 L528.73 873.44 L532.46 870.56 L536.19 867.68 L539.92 864.8 L543.65 861.92 L547.38 859.04 L551.11 856.16 L554.84 853.28 L558.57 850.4 L562.3 847.53 L566.03 844.65 L569.76 841.77 L573.49 838.88 L577.22 835.99 L580.95 833.1 L584.68 830.21 L588.41 827.32 L592.14 824.42 L595.87 821.52 L599.6 818.63 L603.33 815.73 L607.06 812.83 L610.79 809.93 L614.52 807.03 L618.25 804.12 L621.98 801.21 L625.71 798.3 L629.44 795.39 L633.17 792.48 L636.9 789.57 L640.63 786.65 L644.36 783.74 L648.09 780.84 L651.82 777.93 L655.55 775.03 L659.28 772.14 L663.01 769.25 L666.74 766.36 L670.47 763.46 L674.21 760.57 L677.94 757.67 L681.67 754.78 L685.4 751.89 L689.13 749.01 L692.86 746.13 L696.59 743.27 L700.32 740.42 L704.05 737.58 L707.78 734.75 L711.51 731.94 L715.24 729.16 L718.97 726.39 L722.7 723.64 L726.43 720.91 L730.16 718.19 L733.89 715.47 L737.62 712.76 L741.35 710.04 L745.08 707.32 L748.81 704.61 L752.54 701.9 L756.27 699.2 L760 696.5" fill="none" stroke="#000000" stroke-width="5" stroke-linecap="round" stroke-linejoin="round" stroke-dashoffset="0"/>
<path d="M136.15 1178.75 L137.32 1177.81 L138.48 1176.87 L139.65 1175.93 L140.82 1174.99 L141.98 1174.05 L143.15 1173.12 L144.32 1172.18 L145.48 1171.24 L146.65 1170.31 L147.82 1169.37 L148.99 1168.43 L150.15 1167.5 L151.32 1166.56 L152.49 1165.63 L153.65 1164.69 L154.82 1163.76 L155.99 1162.82 L157.15 1161.88 L158.32 1160.95 L159.49 1160.01 L160.65 1159.07 L161.82 1158.15 L162.99 1157.24 L164.15 1156.33 L165.32 1155.44 L166.49 1154.55 L167.66 1153.67 L168.82 1152.8 L169.99 1151.93 L171.16 1151.07 L172.32 1150.21 L173.49 1149.35 L174.66 1148.49 L175.82 1147.64 L176.99 1146.78 L178.16 1145.93 L179.32 1145.07 L180.49 1144.21 L181.66 1143.34 L182.82 1142.47 L183.99 1141.59 L185.16 1140.71 L186.32 1139.82 L187.49 1138.92 L188.66 1138.01 L189.83 1137.09 L190.99 1136.16 L192.16 1135.22 L193.33 1134.26 L194.49 1133.31 L195.66 1132.34 L196.83 1131.38 L197.99 1130.42 L199.16 1129.45 L200.33 1128.48 L201.49 1127.51 L202.66 1126.54 L203.83 1125.57 L204.99 1124.59 L206.16 1123.61 L207.33 1122.64 L208.49 1121.66 L209.66 1120.68 L210.83 1119.7 L212 1118.72 L213.16 1117.73 L214.33 1116.75 L215.5 1115.77 L216.66 1114.78 L217.83 1113.8 L219 1112.81 L220.16 1111.83 L221.33 1110.84 L222.5 1109.85 L223.66 1108.87 L224.83 1107.88 L226 1106.9 L227.16 1105.91 L228.33 1104.93 L229.5 1103.94 L230.67 1102.96 L231.83 1101.97 L233 1100.99 L234.17 1100.01 L235.33 1099.03 L236.5 1098.04 L237.67 1097.07 L238.83 1096.09 L240 1095.11 L241.5 1093.85 L245.23 1090.74 L248.96 1087.63 L252.69 1084.53 L256.42 1081.43 L260.15 1078.34 L263.88 1075.25 L267.61 1072.16 L271.34 1069.08 L275.07 1066 L278.8 1062.92 L282.53 1059.84 L286.26 1056.76 L289.99 1053.69 L293.72 1050.61 L297.45 1047.54 L301.18 1044.47 L304.91 1041.41 L308.64 1038.34 L312.37 1035.26 L316.1 1032.16 L319.83 1029.05 L323.56 1025.93 L327.29 1022.82 L331.03 1019.72 L334.76 1016.63 L338.49 1013.56 L342.22 1010.52 L345.95 1007.51 L349.68 1004.54 L353.41 1001.62 L357.14 998.73 L360.87 995.87 L364.6 993.03 L368.33 990.23 L372.06 987.44 L375.79 984.67 L379.52 981.92 L383.25 979.19 L386.98 976.46 L390.71 973.74 L394.44 971.03 L398.17 968.32 L401.9 965.62 L405.63 962.91 L409.36 960.19 L413.09 957.47 L416.82 954.73 L420.55 952 L424.28 949.27 L428.01 946.55 L431.74 943.83 L435.47 941.11 L439.2 938.4 L442.93 935.68 L446.66 932.97 L450.39 930.26 L454.12 927.56 L457.85 924.87 L461.58 922.17 L465.31 919.48 L469.04 916.78 L472.77 914.08 L476.5 911.37 L480.23 908.65 L483.96 905.91 L487.69 903.16 L491.42 900.38 L495.15 897.6 L498.88 894.8 L502.62 891.99 L506.35 889.16 L510.08 886.33 L513.81 883.49 L517.54 880.65 L521.27 877.79 L525 874.93 L528.73 872.07 L532.46 869.2 L536.19 866.32 L539.92 863.45 L543.65 860.57 L547.38 857.7 L551.11 854.82 L554.84 851.94 L558.57 849.07 L562.3 846.2 L566.03 843.33 L569.76 840.45 L573.49 837.57 L577.22 834.69 L580.95 831.8 L584.68 828.91 L588.41 826.02 L592.14 823.13 L595.87 820.24 L599.6 817.34 L603.33 814.45 L607.06 811.55 L610.79 808.66 L614.52 805.76 L618.25 802.86 L621.98 799.95 L625.71 797.04 L629.44 794.13 L633.17 791.22 L636.9 788.31 L640.63 785.41 L644.36 782.5 L648.09 779.59 L651.82 776.69 L655.55 773.8 L659.28 770.91 L663.01 768.02 L666.74 765.13 L670.47 762.24 L674.21 759.34 L677.94 756.45 L681.67 753.56 L685.4 750.67 L689.13 747.79 L692.86 744.92 L696.59 742.06 L700.32 739.2 L704.05 736.37 L707.78 733.54 L711.51 730.74 L715.24 727.95 L718.97 725.19 L722.7 722.44 L726.43 719.71 L730.16 716.98 L733.89 714.27 L737.62 711.55 L741.35 708.84 L745.08 706.12 L748.81 703.41 L752.54 700.7 L756.27 698 L760 695.3" fill="none" stroke="#0000FF" stroke-width="5.3" stroke-linecap="round" stroke-linejoin="round" stroke-dasharray="18.1 25.6" stroke-dashoffset="24.3"/>
<path d="M136.15 1202.75 L137.32 1200.28 L138.48 1197.78 L139.65 1195.2 L140.82 1192.64 L141.98 1190.19 L143.15 1187.96 L144.32 1185.76 L145.48 1183.52 L146.65 1181.37 L147.82 1179.41 L148.99 1177.75 L150.15 1176.5 L151.32 1175.56 L152.49 1174.63 L153.65 1173.69 L154.82 1172.76 L155.99 1171.82 L157.15 1170.88 L158.32 1169.95 L159.49 1169.01 L160.65 1168.07 L161.82 1167.14 L162.99 1166.2 L164.15 1165.26 L165.32 1164.32 L166.49 1163.38 L167.66 1162.44 L168.82 1161.49 L169.99 1160.55 L171.16 1159.61 L172.32 1158.67 L173.49 1157.74 L174.66 1156.81 L175.82 1155.88 L176.99 1154.95 L178.16 1154.03 L179.32 1153.1 L180.49 1152.18 L181.66 1151.25 L182.82 1150.33 L183.99 1149.4 L185.16 1148.47 L186.32 1147.55 L187.49 1146.62 L188.66 1145.69 L189.83 1144.75 L190.99 1143.82 L192.16 1142.88 L193.33 1141.95 L194.49 1141.02 L195.66 1140.09 L196.83 1139.17 L197.99 1138.24 L199.16 1137.32 L200.33 1136.4 L201.49 1135.47 L202.66 1134.55 L203.83 1133.63 L204.99 1132.7 L206.16 1131.78 L207.33 1130.85 L208.49 1129.92 L209.66 1128.99 L210.83 1128.06 L212 1127.12 L213.16 1126.19 L214.33 1125.26 L215.5 1124.34 L216.66 1123.42 L217.83 1122.49 L219 1121.57 L220.16 1120.65 L221.33 1119.72 L222.5 1118.79 L223.66 1117.86 L224.83 1116.93 L226 1115.98 L227.16 1115.04 L228.33 1114.08 L229.5 1113.12 L230.67 1112.16 L231.83 1111.18 L233 1110.19 L234.17 1109.21 L235.33 1108.23 L236.5 1107.25 L237.67 1106.27 L238.83 1105.29 L240 1104.31 L241.5 1103.05 L245.23 1099.93 L248.96 1096.81 L252.69 1093.69 L256.42 1090.57 L260.15 1087.46 L263.88 1084.34 L267.61 1081.23 L271.34 1078.11 L275.07 1075 L278.8 1071.88 L282.53 1068.76 L286.26 1065.65 L289.99 1062.53 L293.72 1059.41 L297.45 1056.3 L301.18 1053.19 L304.91 1050.07 L308.64 1046.96 L312.37 1043.83 L316.1 1040.66 L319.83 1037.42 L323.56 1034.14 L327.29 1030.83 L331.03 1027.51 L334.76 1024.19 L338.49 1020.89 L342.22 1017.61 L345.95 1014.38 L349.68 1011.2 L353.41 1008.09 L357.14 1005.03 L360.87 1002 L364.6 999 L368.33 996.03 L372.06 993.07 L375.79 990.13 L379.52 987.2 L383.25 984.27 L386.98 981.34 L390.71 978.41 L394.44 975.46 L398.17 972.42 L401.9 969.33 L405.63 966.24 L409.36 963.21 L413.09 960.29 L416.82 957.43 L420.55 954.59 L424.28 951.76 L428.01 948.95 L431.74 946.15 L435.47 943.37 L439.2 940.6 L442.93 937.83 L446.66 935.09 L450.39 932.36 L454.12 929.64 L457.85 926.93 L461.58 924.23 L465.31 921.52 L469.04 918.81 L472.77 916.09 L476.5 913.36 L480.23 910.63 L483.96 907.88 L487.69 905.11 L491.42 902.32 L495.15 899.52 L498.88 896.71 L502.62 893.89 L506.35 891.05 L510.08 888.21 L513.81 885.36 L517.54 882.5 L521.27 879.63 L525 876.76 L528.73 873.88 L532.46 871 L536.19 868.12 L539.92 865.24 L543.65 862.35 L547.38 859.46 L551.11 856.58 L554.84 853.69 L558.57 850.81 L562.3 847.93 L566.03 845.05 L569.76 842.16 L573.49 839.27 L577.22 836.38 L580.95 833.49 L584.68 830.59 L588.41 827.69 L592.14 824.79 L595.87 821.89 L599.6 818.99 L603.33 816.09 L607.06 813.18 L610.79 810.28 L614.52 807.38 L618.25 804.47 L621.98 801.56 L625.71 798.64 L629.44 795.73 L633.17 792.81 L636.9 789.9 L640.63 786.99 L644.36 784.07 L648.09 781.16 L651.82 778.26 L655.55 775.36 L659.28 772.46 L663.01 769.57 L666.74 766.68 L670.47 763.78 L674.21 760.88 L677.94 757.99 L681.67 755.09 L685.4 752.2 L689.13 749.32 L692.86 746.44 L696.59 743.58 L700.32 740.72 L704.05 737.88 L707.78 735.06 L711.51 732.25 L715.24 729.46 L718.97 726.69 L722.7 723.95 L726.43 721.21 L730.16 718.49 L733.89 715.77 L737.62 713.06 L741.35 710.34 L745.08 707.62 L748.81 704.91 L752.54 702.2 L756.27 699.5 L760 696.8" fill="none" stroke="#00FF00" stroke-width="5.3" stroke-linecap="round" stroke-linejoin="round" stroke-dasharray="2.2 23.7" stroke-dashoffset="0"/>
<path d="M136.15 1180.56 L137.32 1179.65 L138.48 1178.75 L139.65 1177.84 L140.82 1176.94 L141.98 1176.04 L143.15 1175.13 L144.32 1174.23 L145.48 1173.33 L146.65 1172.42 L147.82 1171.52 L148.99 1170.62 L150.15 1169.71 L151.32 1168.81 L152.49 1167.91 L153.65 1167 L154.82 1166.1 L155.99 1165.19 L157.15 1164.28 L158.32 1163.38 L159.49 1162.47 L160.65 1161.56 L161.82 1160.64 L162.99 1159.73 L164.15 1158.82 L165.32 1157.9 L166.49 1156.98 L167.66 1156.06 L168.82 1155.14 L169.99 1154.22 L171.16 1153.29 L172.32 1152.36 L173.49 1151.43 L174.66 1150.5 L175.82 1149.57 L176.99 1148.64 L178.16 1147.7 L179.32 1146.76 L180.49 1145.82 L181.66 1144.88 L182.82 1143.94 L183.99 1142.99 L185.16 1142.04 L186.32 1141.09 L187.49 1140.14 L188.66 1139.18 L189.83 1138.23 L190.99 1137.27 L192.16 1136.31 L193.33 1135.34 L194.49 1134.38 L195.66 1133.41 L196.83 1132.44 L197.99 1131.47 L199.16 1130.5 L200.33 1129.53 L201.49 1128.56 L202.66 1127.58 L203.83 1126.61 L204.99 1125.63 L206.16 1124.65 L207.33 1123.67 L208.49 1122.69 L209.66 1121.71 L210.83 1120.73 L212 1119.74 L213.16 1118.76 L214.33 1117.78 L215.5 1116.79 L216.66 1115.81 L217.83 1114.82 L219 1113.83 L220.16 1112.85 L221.33 1111.86 L222.5 1110.88 L223.66 1109.89 L224.83 1108.9 L226 1107.92 L227.16 1106.93 L228.33 1105.94 L229.5 1104.96 L230.67 1103.97 L231.83 1102.99 L233 1102.01 L234.17 1101.02 L235.33 1100.04 L236.5 1099.06 L237.67 1098.08 L238.83 1097.1 L240 1096.12 L241.5 1094.86 L245.23 1091.74 L248.96 1088.63 L252.69 1085.51 L256.42 1082.4 L260.15 1079.29 L263.88 1076.18 L267.61 1073.08 L271.34 1069.97 L275.07 1066.86 L278.8 1063.75 L282.53 1060.64 L286.26 1057.54 L289.99 1054.43 L293.72 1051.33 L297.45 1048.22 L301.18 1045.12 L304.91 1042.02 L308.64 1038.92 L312.37 1035.81 L316.1 1032.68 L319.83 1029.53 L323.56 1026.39 L327.29 1023.25 L331.03 1020.12 L334.76 1017.01 L338.49 1013.91 L342.22 1010.85 L345.95 1007.82 L349.68 1004.83 L353.41 1001.89 L357.14 998.98 L360.87 996.11 L364.6 993.26 L368.33 990.44 L372.06 987.63 L375.79 984.85 L379.52 982.09 L383.25 979.33 L386.98 976.59 L390.71 973.86 L394.44 971.14 L398.17 968.42 L401.9 965.69 L405.63 962.97 L409.36 960.25 L413.09 957.51 L416.82 954.77 L420.55 952.02 L424.28 949.29 L428.01 946.56 L431.74 943.83 L435.47 941.11 L439.2 938.39 L442.93 935.67 L446.66 932.96 L450.39 930.25 L454.12 927.55 L457.85 924.85 L461.58 922.16 L465.31 919.47 L469.04 916.77 L472.77 914.07 L476.5 911.35 L480.23 908.63 L483.96 905.89 L487.69 903.14 L491.42 900.37 L495.15 897.58 L498.88 894.78 L502.62 891.97 L506.35 889.15 L510.08 886.32 L513.81 883.48 L517.54 880.63 L521.27 877.78 L525 874.92 L528.73 872.05 L532.46 869.18 L536.19 866.31 L539.92 863.43 L543.65 860.56 L547.38 857.68 L551.11 854.8 L554.84 851.93 L558.57 849.06 L562.3 846.19 L566.03 843.31 L569.76 840.44 L573.49 837.56 L577.22 834.67 L580.95 831.79 L584.68 828.9 L588.41 826.01 L592.14 823.12 L595.87 820.22 L599.6 817.33 L603.33 814.44 L607.06 811.54 L610.79 808.65 L614.52 805.75 L618.25 802.85 L621.98 799.94 L625.71 797.03 L629.44 794.13 L633.17 791.22 L636.9 788.31 L640.63 785.4 L644.36 782.49 L648.09 779.59 L651.82 776.69 L655.55 773.79 L659.28 770.9 L663.01 768.01 L666.74 765.12 L670.47 762.23 L674.21 759.34 L677.94 756.45 L681.67 753.55 L685.4 750.67 L689.13 747.79 L692.86 744.92 L696.59 742.05 L700.32 739.2 L704.05 736.36 L707.78 733.54 L711.51 730.73 L715.24 727.95 L718.97 725.18 L722.7 722.44 L726.43 719.71 L730.16 716.98 L733.89 714.27 L737.62 711.55 L741.35 708.84 L745.08 706.12 L748.81 703.41 L752.54 700.7 L756.27 698 L760 695.3" fill="none" stroke="#FF8000" stroke-width="5.3" stroke-linecap="round" stroke-linejoin="round" stroke-dasharray="21.3 16.4 2.0 15.1" stroke-dashoffset="20.8"/>
<path d="M136.15 1188.05 L137.32 1187.36 L138.48 1186.92 L139.65 1187.04 L140.82 1187.69 L141.98 1188.59 L143.15 1189.46 L144.32 1190.09 L145.48 1190.88 L146.65 1191.64 L147.82 1191.9 L148.99 1191.15 L150.15 1189.15 L151.32 1186.67 L152.49 1184.62 L153.65 1182.93 L154.82 1181.34 L155.99 1179.81 L157.15 1178.28 L158.32 1176.72 L159.49 1175.11 L160.65 1173.46 L161.82 1171.85 L162.99 1170.3 L164.15 1168.87 L165.32 1167.52 L166.49 1166.18 L167.66 1164.84 L168.82 1163.54 L169.99 1162.27 L171.16 1161.06 L172.32 1159.91 L173.49 1158.84 L174.66 1157.86 L175.82 1156.93 L176.99 1156.03 L178.16 1155.14 L179.32 1154.26 L180.49 1153.4 L181.66 1152.56 L182.82 1151.71 L183.99 1150.87 L185.16 1150.03 L186.32 1149.19 L187.49 1148.34 L188.66 1147.49 L189.83 1146.65 L190.99 1145.82 L192.16 1145 L193.33 1144.2 L194.49 1143.4 L195.66 1142.6 L196.83 1141.81 L197.99 1141.01 L199.16 1140.21 L200.33 1139.4 L201.49 1138.58 L202.66 1137.74 L203.83 1136.89 L204.99 1136.02 L206.16 1135.12 L207.33 1134.2 L208.49 1133.25 L209.66 1132.28 L210.83 1131.3 L212 1130.33 L213.16 1129.35 L214.33 1128.37 L215.5 1127.39 L216.66 1126.41 L217.83 1125.43 L219 1124.44 L220.16 1123.46 L221.33 1122.47 L222.5 1121.48 L223.66 1120.5 L224.83 1119.51 L226 1118.52 L227.16 1117.54 L228.33 1116.55 L229.5 1115.57 L230.67 1114.58 L231.83 1113.6 L233 1112.62 L234.17 1111.64 L235.33 1110.66 L236.5 1109.68 L237.67 1108.71 L238.83 1107.73 L240 1106.76 L241.5 1105.52 L245.23 1102.44 L248.96 1099.37 L252.69 1096.31 L256.42 1093.26 L260.15 1090.22 L263.88 1087.18 L267.61 1084.15 L271.34 1081.11 L275.07 1078.07 L278.8 1075.03 L282.53 1071.99 L286.26 1068.97 L289.99 1065.95 L293.72 1062.94 L297.45 1059.92 L301.18 1056.88 L304.91 1053.83 L308.64 1050.75 L312.37 1047.63 L316.1 1044.45 L319.83 1041.23 L323.56 1037.98 L327.29 1034.71 L331.03 1031.43 L334.76 1028.17 L338.49 1024.92 L342.22 1021.71 L345.95 1018.53 L349.68 1015.39 L353.41 1012.28 L357.14 1009.19 L360.87 1006.13 L364.6 1003.09 L368.33 1000.07 L372.06 997.08 L375.79 994.1 L379.52 991.15 L383.25 988.21 L386.98 985.28 L390.71 982.36 L394.44 979.44 L398.17 976.53 L401.9 973.61 L405.63 970.69 L409.36 967.77 L413.09 964.84 L416.82 961.91 L420.55 958.98 L424.28 956.05 L428.01 953.14 L431.74 950.24 L435.47 947.33 L439.2 944.42 L442.93 941.49 L446.66 938.56 L450.39 935.64 L454.12 932.72 L457.85 929.82 L461.58 926.93 L465.31 924.05 L469.04 921.19 L472.77 918.35 L476.5 915.53 L480.23 912.73 L483.96 909.95 L487.69 907.19 L491.42 904.42 L495.15 901.63 L498.88 898.83 L502.62 896.02 L506.35 893.21 L510.08 890.38 L513.81 887.55 L517.54 884.71 L521.27 881.87 L525 879.02 L528.73 876.16 L532.46 873.3 L536.19 870.44 L539.92 867.57 L543.65 864.7 L547.38 861.83 L551.11 858.95 L554.84 856.08 L558.57 853.2 L562.3 850.33 L566.03 847.45 L569.76 844.57 L573.49 841.68 L577.22 838.79 L580.95 835.9 L584.68 833.01 L588.41 830.12 L592.14 827.22 L595.87 824.32 L599.6 821.42 L603.33 818.52 L607.06 815.63 L610.79 812.73 L614.52 809.82 L618.25 806.92 L621.98 804.01 L625.71 801.1 L629.44 798.18 L633.17 795.27 L636.9 792.35 L640.63 789.44 L644.36 786.53 L648.09 783.62 L651.82 780.71 L655.55 777.81 L659.28 774.91 L663.01 772.02 L666.74 769.13 L670.47 766.23 L674.21 763.33 L677.94 760.43 L681.67 757.53 L685.4 754.64 L689.13 751.75 L692.86 748.88 L696.59 746.01 L700.32 743.15 L704.05 740.3 L707.78 737.47 L711.51 734.66 L715.24 731.86 L718.97 729.09 L722.7 726.34 L726.43 723.6 L730.16 720.86 L733.89 718.14 L737.62 715.42 L741.35 712.69 L745.08 709.96 L748.81 707.24 L752.54 704.52 L756.27 701.81 L760 699.1" fill="none" stroke="#FF0000" stroke-width="5.3" stroke-linecap="round" stroke-linejoin="round" stroke-dasharray="14.8 16.4 1.6 16.2 1.6 16.0" stroke-dashoffset="45.5"/>
<path d="M136.15 1177.45 L137.32 1178.09 L138.48 1178.71 L139.65 1179.3 L140.82 1179.87 L141.98 1180.43 L143.15 1181.26 L144.32 1182.19 L145.48 1182.86 L146.65 1182.94 L147.82 1182.11 L148.99 1180.64 L150.15 1178.82 L151.32 1176.86 L152.49 1174.97 L153.65 1173.31 L154.82 1171.71 L155.99 1170.15 L157.15 1168.6 L158.32 1167.06 L159.49 1165.52 L160.65 1163.95 L161.82 1162.35 L162.99 1160.72 L164.15 1159.09 L165.32 1157.47 L166.49 1155.87 L167.66 1154.3 L168.82 1152.79 L169.99 1151.34 L171.16 1149.97 L172.32 1148.7 L173.49 1147.5 L174.66 1146.32 L175.82 1145.15 L176.99 1144 L178.16 1142.86 L179.32 1141.74 L180.49 1140.63 L181.66 1139.53 L182.82 1138.44 L183.99 1137.36 L185.16 1136.29 L186.32 1135.22 L187.49 1134.16 L188.66 1133.1 L189.83 1132.03 L190.99 1130.97 L192.16 1129.91 L193.33 1128.86 L194.49 1127.8 L195.66 1126.76 L196.83 1125.72 L197.99 1124.69 L199.16 1123.68 L200.33 1122.67 L201.49 1121.69 L202.66 1120.85 L203.83 1120.18 L204.99 1119.64 L206.16 1119.19 L207.33 1118.8 L208.49 1118.43 L209.66 1118.04 L210.83 1117.6 L212 1117.07 L213.16 1116.51 L214.33 1115.99 L215.5 1115.46 L216.66 1114.88 L217.83 1114.23 L219 1113.45 L220.16 1112.54 L221.33 1111.61 L222.5 1110.66 L223.66 1109.72 L224.83 1108.77 L226 1107.81 L227.16 1106.85 L228.33 1105.89 L229.5 1104.92 L230.67 1103.94 L231.83 1102.97 L233 1101.98 L234.17 1101 L235.33 1100.01 L236.5 1099.02 L237.67 1098.03 L238.83 1097.05 L240 1096.06 L241.5 1094.8 L245.23 1091.66 L248.96 1088.53 L252.69 1085.39 L256.42 1082.26 L260.15 1079.13 L263.88 1076.01 L267.61 1072.88 L271.34 1069.76 L275.07 1066.63 L278.8 1063.51 L282.53 1060.38 L286.26 1057.26 L289.99 1054.14 L293.72 1051.02 L297.45 1047.9 L301.18 1044.79 L304.91 1041.67 L308.64 1038.56 L312.37 1035.43 L316.1 1032.29 L319.83 1029.14 L323.56 1025.98 L327.29 1022.83 L331.03 1019.69 L334.76 1016.56 L338.49 1013.46 L342.22 1010.39 L345.95 1007.35 L349.68 1004.35 L353.41 1001.4 L357.14 998.49 L360.87 995.6 L364.6 992.75 L368.33 989.92 L372.06 987.11 L375.79 984.32 L379.52 981.55 L383.25 978.79 L386.98 976.04 L390.71 973.31 L394.44 970.58 L398.17 967.85 L401.9 965.12 L405.63 962.4 L409.36 959.67 L413.09 956.93 L416.82 954.18 L420.55 951.43 L424.28 948.69 L428.01 945.96 L431.74 943.23 L435.47 940.51 L439.2 937.78 L442.93 935.06 L446.66 932.34 L450.39 929.63 L454.12 926.93 L457.85 924.23 L461.58 921.53 L465.31 918.84 L469.04 916.14 L472.77 913.43 L476.5 910.72 L480.23 907.99 L483.96 905.25 L487.69 902.5 L491.42 899.72 L495.15 896.93 L498.88 894.13 L502.62 891.32 L506.35 888.5 L510.08 885.67 L513.81 882.83 L517.54 879.98 L521.27 877.12 L525 874.26 L528.73 871.39 L532.46 868.52 L536.19 865.65 L539.92 862.78 L543.65 859.9 L547.38 857.02 L551.11 854.15 L554.84 851.27 L558.57 848.4 L562.3 845.53 L566.03 842.66 L569.76 839.78 L573.49 836.91 L577.22 834.02 L580.95 831.14 L584.68 828.25 L588.41 825.36 L592.14 822.47 L595.87 819.58 L599.6 816.69 L603.33 813.8 L607.06 810.91 L610.79 808.01 L614.52 805.12 L618.25 802.22 L621.98 799.32 L625.71 796.42 L629.44 793.51 L633.17 790.6 L636.9 787.7 L640.63 784.79 L644.36 781.89 L648.09 778.99 L651.82 776.09 L655.55 773.2 L659.28 770.31 L663.01 767.43 L666.74 764.55 L670.47 761.66 L674.21 758.77 L677.94 755.89 L681.67 753 L685.4 750.12 L689.13 747.25 L692.86 744.38 L696.59 741.52 L700.32 738.68 L704.05 735.85 L707.78 733.03 L711.51 730.23 L715.24 727.45 L718.97 724.69 L722.7 721.96 L726.43 719.23 L730.16 716.52 L733.89 713.81 L737.62 711.1 L741.35 708.39 L745.08 705.68 L748.81 702.98 L752.54 700.28 L756.27 697.59 L760 694.9" fill="none" stroke="#800080" stroke-width="5.3" stroke-linecap="round" stroke-linejoin="round" stroke-dasharray="6.0 13.8" stroke-dashoffset="10.1"/>
</g>
<line x1="152.9" y1="737.3" x2="220.7" y2="737.3" stroke="#000000" stroke-width="5.0" stroke-linecap="round"/>
<text x="0" y="0" font-family='"Liberation Serif", "DejaVu Serif", serif' font-weight="bold" font-size="31" text-anchor="start" fill="#000" transform="translate(229.2 747.6) scale(1.02 1)" >Ep</text>
<line x1="152.9" y1="776.3" x2="220.7" y2="776.3" stroke="#0000FF" stroke-width="5.4" stroke-linecap="round" stroke-dasharray="18.1 25.6"/>
<text x="0" y="0" font-family='"Liberation Serif", "DejaVu Serif", serif' font-weight="bold" font-size="31" text-anchor="start" fill="#000" transform="translate(229.2 786.6) scale(1.02 1)" >A6</text>
<line x1="152.9" y1="815.4" x2="220.7" y2="815.4" stroke="#00FF00" stroke-width="5.4" stroke-linecap="round" stroke-dasharray="2.2 23.7"/>
<text x="0" y="0" font-family='"Liberation Serif", "DejaVu Serif", serif' font-weight="bold" font-size="31" text-anchor="start" fill="#000" transform="translate(229.2 825.7) scale(1.02 1)" >A8</text>
<line x1="152.9" y1="854.5" x2="220.7" y2="854.5" stroke="#FF8000" stroke-width="5.4" stroke-linecap="round" stroke-dasharray="21.3 16.4 2.0 15.1"/>
<text x="0" y="0" font-family='"Liberation Serif", "DejaVu Serif", serif' font-weight="bold" font-size="31" text-anchor="start" fill="#000" transform="translate(229.2 864.8) scale(1.02 1)" >A10</text>
<line x1="152.9" y1="893.5" x2="220.7" y2="893.5" stroke="#FF0000" stroke-width="5.4" stroke-linecap="round" stroke-dasharray="14.8 16.4 1.6 16.2 1.6 16.0"/>
<text x="0" y="0" font-family='"Liberation Serif", "DejaVu Serif", serif' font-weight="bold" font-size="31" text-anchor="start" fill="#000" transform="translate(229.2 903.8) scale(1.0 1)" >A6+B2</text>
<line x1="152.9" y1="932.6" x2="220.7" y2="932.6" stroke="#800080" stroke-width="5.4" stroke-linecap="round" stroke-dasharray="6.0 13.8"/>
<text x="0" y="0" font-family='"Liberation Serif", "DejaVu Serif", serif' font-weight="bold" font-size="31" text-anchor="start" fill="#000" transform="translate(229.2 942.9) scale(1.0 1)" >A6+B4</text>
<rect x="442.6" y="958.1" width="314.1" height="239.1" fill="#fff" stroke="none"/>
<clipPath id="clipI"><rect x="442.6" y="958.1" width="314.1" height="239.1"/></clipPath>
<path d="M456.55 1117.1 L758.41 990.08" fill="none" stroke="#000" stroke-width="5" stroke-linecap="round" stroke-linejoin="round" clip-path="url(#clipI)"/>
<line x1="456.55" y1="1095.22" x2="464.22" y2="1092.74" stroke="#0000FF" stroke-width="4.6" stroke-linecap="round" clip-path="url(#clipI)"/>
<line x1="490.39" y1="1082.36" x2="503.02" y2="1077.17" stroke="#0000FF" stroke-width="4.6" stroke-linecap="round" clip-path="url(#clipI)"/>
<line x1="529.42" y1="1066.79" x2="541.83" y2="1062.05" stroke="#0000FF" stroke-width="4.6" stroke-linecap="round" clip-path="url(#clipI)"/>
<line x1="568.9" y1="1051.22" x2="581.31" y2="1046.26" stroke="#0000FF" stroke-width="4.6" stroke-linecap="round" clip-path="url(#clipI)"/>
<line x1="607.7" y1="1035.88" x2="620.79" y2="1030.69" stroke="#0000FF" stroke-width="4.6" stroke-linecap="round" clip-path="url(#clipI)"/>
<line x1="647.41" y1="1020.09" x2="659.59" y2="1015.35" stroke="#0000FF" stroke-width="4.6" stroke-linecap="round" clip-path="url(#clipI)"/>
<line x1="686.22" y1="1004.97" x2="698.85" y2="1000.01" stroke="#0000FF" stroke-width="4.6" stroke-linecap="round" clip-path="url(#clipI)"/>
<line x1="725.02" y1="988.05" x2="737.65" y2="982.87" stroke="#0000FF" stroke-width="4.6" stroke-linecap="round" clip-path="url(#clipI)"/>
<line x1="456.55" y1="1103.34" x2="471.44" y2="1098.38" stroke="#FF8000" stroke-width="4.6" stroke-linecap="round" clip-path="url(#clipI)"/>
<line x1="506.18" y1="1086.19" x2="523.33" y2="1080.33" stroke="#FF8000" stroke-width="4.6" stroke-linecap="round" clip-path="url(#clipI)"/>
<line x1="557.17" y1="1067.92" x2="574.31" y2="1061.38" stroke="#FF8000" stroke-width="4.6" stroke-linecap="round" clip-path="url(#clipI)"/>
<line x1="607.7" y1="1046.94" x2="624.17" y2="1040.17" stroke="#FF8000" stroke-width="4.6" stroke-linecap="round" clip-path="url(#clipI)"/>
<line x1="658.01" y1="1025.28" x2="674.94" y2="1018.96" stroke="#FF8000" stroke-width="4.6" stroke-linecap="round" clip-path="url(#clipI)"/>
<line x1="708.78" y1="1004.07" x2="725.02" y2="996.85" stroke="#FF8000" stroke-width="4.6" stroke-linecap="round" clip-path="url(#clipI)"/>
<g clip-path="url(#clipI)"><circle cx="489.26" cy="1092.51" r="2.6" fill="#FF8000"/><circle cx="540.92" cy="1074.69" r="2.6" fill="#FF8000"/><circle cx="591.46" cy="1053.48" r="2.6" fill="#FF8000"/><circle cx="641.77" cy="1032.72" r="2.6" fill="#FF8000"/><circle cx="692.31" cy="1011.52" r="2.6" fill="#FF8000"/><circle cx="742.62" cy="989.63" r="2.6" fill="#FF8000"/><circle cx="758.41" cy="982.41" r="2.6" fill="#FF8000"/></g>
<g clip-path="url(#clipI)"><circle cx="457.68" cy="1191.1" r="2.6" fill="#00FF00"/><circle cx="474.15" cy="1172.37" r="2.6" fill="#00FF00"/><circle cx="490.84" cy="1153.65" r="2.6" fill="#00FF00"/><circle cx="507.54" cy="1135.15" r="2.6" fill="#00FF00"/><circle cx="524" cy="1116.42" r="2.6" fill="#00FF00"/><circle cx="540.7" cy="1097.92" r="2.6" fill="#00FF00"/><circle cx="563.49" cy="1087.77" r="2.6" fill="#00FF00"/><circle cx="586.27" cy="1077.39" r="2.6" fill="#00FF00"/><circle cx="609.06" cy="1067.47" r="2.6" fill="#00FF00"/><circle cx="631.62" cy="1056.86" r="2.6" fill="#00FF00"/><circle cx="654.63" cy="1046.94" r="2.6" fill="#00FF00"/><circle cx="677.42" cy="1037.01" r="2.6" fill="#00FF00"/><circle cx="700.43" cy="1027.08" r="2.6" fill="#00FF00"/><circle cx="723.67" cy="1017.38" r="2.6" fill="#00FF00"/><circle cx="746.68" cy="1007.46" r="2.6" fill="#00FF00"/></g>
<line x1="456.55" y1="1130.41" x2="460.16" y2="1131.31" stroke="#FF0000" stroke-width="4.6" stroke-linecap="round" clip-path="url(#clipI)"/>
<line x1="512.05" y1="1140.11" x2="523.33" y2="1142.14" stroke="#FF0000" stroke-width="4.6" stroke-linecap="round" clip-path="url(#clipI)"/>
<line x1="567.77" y1="1122.29" x2="577.47" y2="1115.07" stroke="#FF0000" stroke-width="4.6" stroke-linecap="round" clip-path="url(#clipI)"/>
<line x1="617.63" y1="1080.78" x2="626.66" y2="1074.01" stroke="#FF0000" stroke-width="4.6" stroke-linecap="round" clip-path="url(#clipI)"/>
<line x1="669.97" y1="1044.91" x2="681.25" y2="1040.62" stroke="#FF0000" stroke-width="4.6" stroke-linecap="round" clip-path="url(#clipI)"/>
<line x1="730.43" y1="1019.19" x2="740.36" y2="1015.13" stroke="#FF0000" stroke-width="4.6" stroke-linecap="round" clip-path="url(#clipI)"/>
<g clip-path="url(#clipI)"><circle cx="477.08" cy="1133.8" r="2.6" fill="#FF0000"/><circle cx="494" cy="1136.95" r="2.6" fill="#FF0000"/><circle cx="540.7" cy="1145.3" r="2.6" fill="#FF0000"/><circle cx="554.24" cy="1133.57" r="2.6" fill="#FF0000"/><circle cx="590.78" cy="1103.79" r="2.6" fill="#FF0000"/><circle cx="603.87" cy="1092.51" r="2.6" fill="#FF0000"/><circle cx="640.42" cy="1062.05" r="2.6" fill="#FF0000"/><circle cx="653.95" cy="1052.13" r="2.6" fill="#FF0000"/><circle cx="697.5" cy="1033.63" r="2.6" fill="#FF0000"/><circle cx="713.29" cy="1026.41" r="2.6" fill="#FF0000"/><circle cx="756.6" cy="1007.68" r="2.6" fill="#FF0000"/></g>
<g clip-path="url(#clipI)"><circle cx="459.48" cy="1092.96" r="2.6" fill="#800080"/><circle cx="473.47" cy="1096.8" r="2.6" fill="#800080"/><circle cx="488.13" cy="1100.63" r="2.6" fill="#800080"/><circle cx="502.8" cy="1104.24" r="2.6" fill="#800080"/><circle cx="517.24" cy="1108.3" r="2.6" fill="#800080"/><circle cx="531.68" cy="1112.14" r="2.6" fill="#800080"/><circle cx="546.57" cy="1108.53" r="2.6" fill="#800080"/><circle cx="557.85" cy="1098.6" r="2.6" fill="#800080"/><circle cx="568.9" cy="1088.45" r="2.6" fill="#800080"/><circle cx="580.41" cy="1078.3" r="2.6" fill="#800080"/><circle cx="591.69" cy="1068.37" r="2.6" fill="#800080"/><circle cx="602.74" cy="1057.99" r="2.6" fill="#800080"/><circle cx="614.02" cy="1048.07" r="2.6" fill="#800080"/><circle cx="625.3" cy="1037.91" r="2.6" fill="#800080"/><circle cx="636.58" cy="1027.76" r="2.6" fill="#800080"/><circle cx="647.86" cy="1017.83" r="2.6" fill="#800080"/><circle cx="659.14" cy="1011.74" r="2.6" fill="#800080"/><circle cx="672.68" cy="1004.75" r="2.6" fill="#800080"/><circle cx="686.22" cy="997.98" r="2.6" fill="#800080"/><circle cx="699.75" cy="991.44" r="2.6" fill="#800080"/><circle cx="713.29" cy="984.67" r="2.6" fill="#800080"/><circle cx="726.37" cy="977.68" r="2.6" fill="#800080"/><circle cx="740.36" cy="970.91" r="2.6" fill="#800080"/><circle cx="753.9" cy="964.37" r="2.6" fill="#800080"/></g>
<rect x="442.6" y="958.1" width="314.1" height="239.1" fill="none" stroke="#000" stroke-width="4.0" stroke-linejoin="round"/>
<line x1="456.5" y1="1197.2" x2="456.5" y2="1194.6" stroke="#000" stroke-width="3" stroke-linecap="round" />
<line x1="567.2" y1="1197.2" x2="567.2" y2="1194.6" stroke="#000" stroke-width="3" stroke-linecap="round" />
<line x1="646.3" y1="1197.2" x2="646.3" y2="1194.6" stroke="#000" stroke-width="3" stroke-linecap="round" />
<line x1="707" y1="1197.2" x2="707" y2="1194.6" stroke="#000" stroke-width="3" stroke-linecap="round" />
<line x1="756.2" y1="1197.2" x2="756.2" y2="1194.6" stroke="#000" stroke-width="3" stroke-linecap="round" />
<line x1="442.6" y1="976.5" x2="445.8" y2="976.5" stroke="#000" stroke-width="3" stroke-linecap="round" />
<line x1="442.6" y1="999.8" x2="445.8" y2="999.8" stroke="#000" stroke-width="3" stroke-linecap="round" />
<line x1="442.6" y1="1030.2" x2="445.8" y2="1030.2" stroke="#000" stroke-width="3" stroke-linecap="round" />
<line x1="442.6" y1="1072" x2="445.8" y2="1072" stroke="#000" stroke-width="3" stroke-linecap="round" />
<line x1="442.6" y1="1144.2" x2="445.8" y2="1144.2" stroke="#000" stroke-width="3" stroke-linecap="round" />
<text x="0" y="0" font-family='"Liberation Sans", "DejaVu Sans", sans-serif' font-weight="bold" font-size="22" text-anchor="start" fill="#000" transform="translate(439.3 1221.9) scale(0.99 1)"  stroke="#000" stroke-width="0.35" stroke-linejoin="round">10</text>
<text x="0" y="0" font-family='"Liberation Sans", "DejaVu Sans", sans-serif' font-weight="bold" font-size="13" text-anchor="start" fill="#000" transform="translate(465.12 1210.1) scale(0.85 1)" stroke="#000" stroke-width="0.15">-1</text>
<text x="0" y="0" font-family='"Liberation Sans", "DejaVu Sans", sans-serif' font-weight="bold" font-size="22" text-anchor="start" fill="#000" transform="translate(614.8 1221.9) scale(1.01 1)"  stroke="#000" stroke-width="0.35" stroke-linejoin="round">2x10</text>
<text x="0" y="0" font-family='"Liberation Sans", "DejaVu Sans", sans-serif' font-weight="bold" font-size="13" text-anchor="start" fill="#000" transform="translate(665.82 1210.1) scale(0.85 1)" stroke="#000" stroke-width="0.15">-1</text>
<text x="0" y="0" font-family='"Liberation Sans", "DejaVu Sans", sans-serif' font-weight="bold" font-size="22" text-anchor="start" fill="#000" transform="translate(726 1221.9) scale(1.01 1)"  stroke="#000" stroke-width="0.35" stroke-linejoin="round">3x10</text>
<text x="0" y="0" font-family='"Liberation Sans", "DejaVu Sans", sans-serif' font-weight="bold" font-size="13" text-anchor="start" fill="#000" transform="translate(777.02 1210.1) scale(0.85 1)" stroke="#000" stroke-width="0.15">-1</text>
<text x="601.2" y="1148" font-family='"Liberation Serif", "DejaVu Serif", serif' font-weight="normal" font-size="26.3" text-anchor="start" fill="#000" letter-spacing="1.25" >Peak valley</text>
<text x="581" y="1176.9" font-family='"Liberation Serif", "DejaVu Serif", serif' font-weight="normal" font-size="26.3" text-anchor="start" fill="#000" letter-spacing="1.75" >Electron traps</text>
<path d="M551.5 1138.6 L591.0 1144.6 M579.0 1133.5 L592.2 1144.8 L576.4 1152.5" fill="none" stroke="#1F2060" stroke-width="4.3" stroke-linecap="round" stroke-linejoin="round"/>
</g>
<g id="panel-d">
<rect x="1015" y="708.6" width="654" height="526.8" fill="none" stroke="#000" stroke-width="3.9" stroke-linejoin="round"/>
<line x1="1015" y1="972.7" x2="1669" y2="972.7" stroke="#000" stroke-width="3.9" stroke-linecap="butt" />
<line x1="1015" y1="743.25" x2="1023" y2="743.25" stroke="#000" stroke-width="3.6" stroke-linecap="round" />
<text x="0" y="0" font-family='"Liberation Sans", "DejaVu Sans", sans-serif' font-weight="bold" font-size="34.6" text-anchor="end" fill="#000" transform="translate(1006.6 753.15) scale(0.895 1)"  stroke="#000" stroke-width="0.35" stroke-linejoin="round">4.2</text>
<line x1="1015" y1="789.7" x2="1023" y2="789.7" stroke="#000" stroke-width="3.6" stroke-linecap="round" />
<text x="0" y="0" font-family='"Liberation Sans", "DejaVu Sans", sans-serif' font-weight="bold" font-size="34.6" text-anchor="end" fill="#000" transform="translate(1006.6 799.6) scale(0.895 1)"  stroke="#000" stroke-width="0.35" stroke-linejoin="round">4.0</text>
<line x1="1015" y1="836.15" x2="1023" y2="836.15" stroke="#000" stroke-width="3.6" stroke-linecap="round" />
<text x="0" y="0" font-family='"Liberation Sans", "DejaVu Sans", sans-serif' font-weight="bold" font-size="34.6" text-anchor="end" fill="#000" transform="translate(1006.6 846.05) scale(0.895 1)"  stroke="#000" stroke-width="0.35" stroke-linejoin="round">3.8</text>
<line x1="1015" y1="882.6" x2="1023" y2="882.6" stroke="#000" stroke-width="3.6" stroke-linecap="round" />
<text x="0" y="0" font-family='"Liberation Sans", "DejaVu Sans", sans-serif' font-weight="bold" font-size="34.6" text-anchor="end" fill="#000" transform="translate(1006.6 892.5) scale(0.895 1)"  stroke="#000" stroke-width="0.35" stroke-linejoin="round">3.6</text>
<line x1="1015" y1="929.05" x2="1023" y2="929.05" stroke="#000" stroke-width="3.6" stroke-linecap="round" />
<text x="0" y="0" font-family='"Liberation Sans", "DejaVu Sans", sans-serif' font-weight="bold" font-size="34.6" text-anchor="end" fill="#000" transform="translate(1006.6 938.95) scale(0.895 1)"  stroke="#000" stroke-width="0.35" stroke-linejoin="round">3.4</text>
<line x1="1669" y1="1008.8" x2="1676" y2="1008.8" stroke="#000" stroke-width="3.6" stroke-linecap="round" />
<text x="0" y="0" font-family='"Liberation Sans", "DejaVu Sans", sans-serif' font-weight="bold" font-size="34.6" text-anchor="start" fill="#000" transform="translate(1679.6 1020.2) scale(0.895 1)"  stroke="#000" stroke-width="0.35" stroke-linejoin="round">4.0</text>
<line x1="1669" y1="1065.45" x2="1676" y2="1065.45" stroke="#000" stroke-width="3.6" stroke-linecap="round" />
<text x="0" y="0" font-family='"Liberation Sans", "DejaVu Sans", sans-serif' font-weight="bold" font-size="34.6" text-anchor="start" fill="#000" transform="translate(1679.6 1076.85) scale(0.895 1)"  stroke="#000" stroke-width="0.35" stroke-linejoin="round">3.5</text>
<line x1="1669" y1="1122.1" x2="1676" y2="1122.1" stroke="#000" stroke-width="3.6" stroke-linecap="round" />
<text x="0" y="0" font-family='"Liberation Sans", "DejaVu Sans", sans-serif' font-weight="bold" font-size="34.6" text-anchor="start" fill="#000" transform="translate(1679.6 1133.5) scale(0.895 1)"  stroke="#000" stroke-width="0.35" stroke-linejoin="round">3.0</text>
<line x1="1669" y1="1178.75" x2="1676" y2="1178.75" stroke="#000" stroke-width="3.6" stroke-linecap="round" />
<text x="0" y="0" font-family='"Liberation Sans", "DejaVu Sans", sans-serif' font-weight="bold" font-size="34.6" text-anchor="start" fill="#000" transform="translate(1679.6 1190.15) scale(0.895 1)"  stroke="#000" stroke-width="0.35" stroke-linejoin="round">2.5</text>
<line x1="1669" y1="1235.4" x2="1676" y2="1235.4" stroke="#000" stroke-width="3.6" stroke-linecap="round" />
<text x="0" y="0" font-family='"Liberation Sans", "DejaVu Sans", sans-serif' font-weight="bold" font-size="34.6" text-anchor="start" fill="#000" transform="translate(1679.6 1246.8) scale(0.895 1)"  stroke="#000" stroke-width="0.35" stroke-linejoin="round">2.0</text>
<line x1="1043.3" y1="972.7" x2="1043.3" y2="979.2" stroke="#000" stroke-width="3.4" stroke-linecap="round" />
<line x1="1043.3" y1="1235.4" x2="1043.3" y2="1242.4" stroke="#000" stroke-width="3.4" stroke-linecap="round" />
<text x="0" y="0" font-family='"Liberation Sans", "DejaVu Sans", sans-serif' font-weight="bold" font-size="35" text-anchor="middle" fill="#000" transform="translate(1043.6 1271.7) scale(0.875 1)"  stroke="#000" stroke-width="0.35" stroke-linejoin="round">0</text>
<line x1="1157.04" y1="972.7" x2="1157.04" y2="979.2" stroke="#000" stroke-width="3.4" stroke-linecap="round" />
<line x1="1157.04" y1="1235.4" x2="1157.04" y2="1242.4" stroke="#000" stroke-width="3.4" stroke-linecap="round" />
<text x="0" y="0" font-family='"Liberation Sans", "DejaVu Sans", sans-serif' font-weight="bold" font-size="35" text-anchor="middle" fill="#000" transform="translate(1157.34 1271.7) scale(0.875 1)"  stroke="#000" stroke-width="0.35" stroke-linejoin="round">2</text>
<line x1="1270.78" y1="972.7" x2="1270.78" y2="979.2" stroke="#000" stroke-width="3.4" stroke-linecap="round" />
<line x1="1270.78" y1="1235.4" x2="1270.78" y2="1242.4" stroke="#000" stroke-width="3.4" stroke-linecap="round" />
<text x="0" y="0" font-family='"Liberation Sans", "DejaVu Sans", sans-serif' font-weight="bold" font-size="35" text-anchor="middle" fill="#000" transform="translate(1271.08 1271.7) scale(0.875 1)"  stroke="#000" stroke-width="0.35" stroke-linejoin="round">4</text>
<line x1="1384.52" y1="972.7" x2="1384.52" y2="979.2" stroke="#000" stroke-width="3.4" stroke-linecap="round" />
<line x1="1384.52" y1="1235.4" x2="1384.52" y2="1242.4" stroke="#000" stroke-width="3.4" stroke-linecap="round" />
<text x="0" y="0" font-family='"Liberation Sans", "DejaVu Sans", sans-serif' font-weight="bold" font-size="35" text-anchor="middle" fill="#000" transform="translate(1384.82 1271.7) scale(0.875 1)"  stroke="#000" stroke-width="0.35" stroke-linejoin="round">6</text>
<line x1="1498.26" y1="972.7" x2="1498.26" y2="979.2" stroke="#000" stroke-width="3.4" stroke-linecap="round" />
<line x1="1498.26" y1="1235.4" x2="1498.26" y2="1242.4" stroke="#000" stroke-width="3.4" stroke-linecap="round" />
<text x="0" y="0" font-family='"Liberation Sans", "DejaVu Sans", sans-serif' font-weight="bold" font-size="35" text-anchor="middle" fill="#000" transform="translate(1498.56 1271.7) scale(0.875 1)"  stroke="#000" stroke-width="0.35" stroke-linejoin="round">8</text>
<line x1="1612" y1="972.7" x2="1612" y2="979.2" stroke="#000" stroke-width="3.4" stroke-linecap="round" />
<line x1="1612" y1="1235.4" x2="1612" y2="1242.4" stroke="#000" stroke-width="3.4" stroke-linecap="round" />
<text x="0" y="0" font-family='"Liberation Sans", "DejaVu Sans", sans-serif' font-weight="bold" font-size="35" text-anchor="middle" fill="#000" transform="translate(1612.3 1271.7) scale(0.875 1)"  stroke="#000" stroke-width="0.35" stroke-linejoin="round">10</text>
<text x="0" y="0" font-family='"Liberation Serif", "DejaVu Serif", serif' font-weight="bold" font-size="41.5" text-anchor="middle" fill="#000" transform="translate(1336.3 1316.4) scale(0.981 1)" >Filler content (vol%)</text>
<text x="0" y="0" font-family='"Liberation Serif", "DejaVu Serif", serif' font-weight="normal" font-size="60" text-anchor="start" fill="#000" transform="translate(953 857.1) rotate(-90) scale(1.03 1)" stroke="#000" stroke-width="0.8">ε</text>
<text x="0" y="0" font-family='"Liberation Serif", "DejaVu Serif", serif' font-weight="normal" font-size="60" text-anchor="start" fill="#000" transform="translate(959.4 830.6) rotate(-90) scale(0.95 1)" >′</text>
<text x="0" y="0" font-family='"Liberation Serif", "DejaVu Serif", serif' font-weight="bold" font-size="35.5" text-anchor="start" fill="#000" transform="translate(1760.7 1202.6) rotate(-90)" >Tan<tspan font-weight="normal">δ (×</tspan>10<tspan font-size="22" dy="-15.5">-3</tspan><tspan dy="15.5" font-weight="normal">)</tspan></text>
<text x="908" y="717.4" font-family='"Liberation Serif", "DejaVu Serif", serif' font-weight="bold" font-size="44.2" text-anchor="start" fill="#000" >d</text>
<ellipse cx="1552.4" cy="794.5" rx="83.3" ry="27.3" fill="none" stroke="#002060" stroke-width="3.2" stroke-dasharray="8.9 2.1"/>
<ellipse cx="1495.1" cy="1185.6" rx="46.6" ry="26.6" fill="none" stroke="#002060" stroke-width="3.2" stroke-dasharray="8.9 2.1"/>
<rect x="1033.8" y="899.1" width="18.4" height="18.4" rx="4.5" ry="4.5" fill="#FF8000"/>
<rect x="1147.8" y="836.9" width="18.4" height="18.4" rx="4.5" ry="4.5" fill="#FF8000"/>
<rect x="1261.5" y="829.3" width="18.4" height="18.4" rx="4.5" ry="4.5" fill="#FF8000"/>
<rect x="1375.2" y="818.4" width="18.4" height="18.4" rx="4.5" ry="4.5" fill="#FF8000"/>
<rect x="1488.9" y="735.4" width="18.4" height="18.4" rx="4.5" ry="4.5" fill="#FF8000"/>
<rect x="1602.6" y="760.8" width="18.4" height="18.4" rx="4.5" ry="4.5" fill="#FF8000"/>
<circle cx="1498.1" cy="798.6" r="10.1" fill="#008000"/><circle cx="1498.1" cy="798.6" r="0.9" fill="#fff"/>
<polygon points="1612.3,786.1 1621.3,801.9 1603.3,801.9" fill="#800080" stroke="#800080" stroke-width="7.0" stroke-linejoin="round"/>
<rect x="1033.8" y="1158.9" width="18.4" height="18.4" rx="4.5" ry="4.5" fill="#FF8000"/>
<rect x="1147.8" y="1053.6" width="18.4" height="18.4" rx="4.5" ry="4.5" fill="#FF8000"/>
<rect x="1261.5" y="1104.9" width="18.4" height="18.4" rx="4.5" ry="4.5" fill="#FF8000"/>
<rect x="1375.2" y="1032" width="18.4" height="18.4" rx="4.5" ry="4.5" fill="#FF8000"/>
<rect x="1488.9" y="1079" width="18.4" height="18.4" rx="4.5" ry="4.5" fill="#FF8000"/>
<rect x="1602.6" y="1025.2" width="18.4" height="18.4" rx="4.5" ry="4.5" fill="#FF8000"/>
<circle cx="1498.1" cy="1192.7" r="10.1" fill="#008000"/><circle cx="1498.1" cy="1192.7" r="0.9" fill="#fff"/>
<polygon points="1611.8,1092.8 1620.8,1108.6 1602.8,1108.6" fill="#8000FF" stroke="#8000FF" stroke-width="7.0" stroke-linejoin="round"/>
<rect x="1047.9" y="743.9" width="18.4" height="18.4" rx="4.5" ry="4.5" fill="#FF8000"/>
<text x="0" y="0" font-family='"Liberation Serif", "DejaVu Serif", serif' font-weight="bold" font-size="32.6" text-anchor="start" fill="#000" transform="translate(1081.2 759.8) scale(0.965 1)" >A/Ep</text>
<circle cx="1173.8" cy="752.9" r="10.1" fill="#008000"/><circle cx="1173.8" cy="752.9" r="0.9" fill="#fff"/>
<text x="0" y="0" font-family='"Liberation Serif", "DejaVu Serif", serif' font-weight="bold" font-size="32.6" text-anchor="start" fill="#000" transform="translate(1197.2 759.8) scale(0.97 1)" >A6+B2</text>
<polygon points="1314,743.3 1323,759.1 1305,759.1" fill="#800080" stroke="#800080" stroke-width="7.0" stroke-linejoin="round"/>
<text x="0" y="0" font-family='"Liberation Serif", "DejaVu Serif", serif' font-weight="bold" font-size="32.6" text-anchor="start" fill="#000" transform="translate(1338.3 759.8) scale(0.97 1)" >A6+B4</text>
<text x="1446" y="882.9" font-family='"Liberation Serif", "DejaVu Serif", serif' font-weight="normal" font-size="34" text-anchor="start" fill="#000" letter-spacing="0.55" >Decreasing ε'</text>
<text x="1232" y="1199.8" font-family='"Liberation Serif", "DejaVu Serif", serif' font-weight="normal" font-size="33" text-anchor="start" fill="#000" letter-spacing="1.1" >Ultralow tanδ</text>
</g>
</svg>
</body></html>
